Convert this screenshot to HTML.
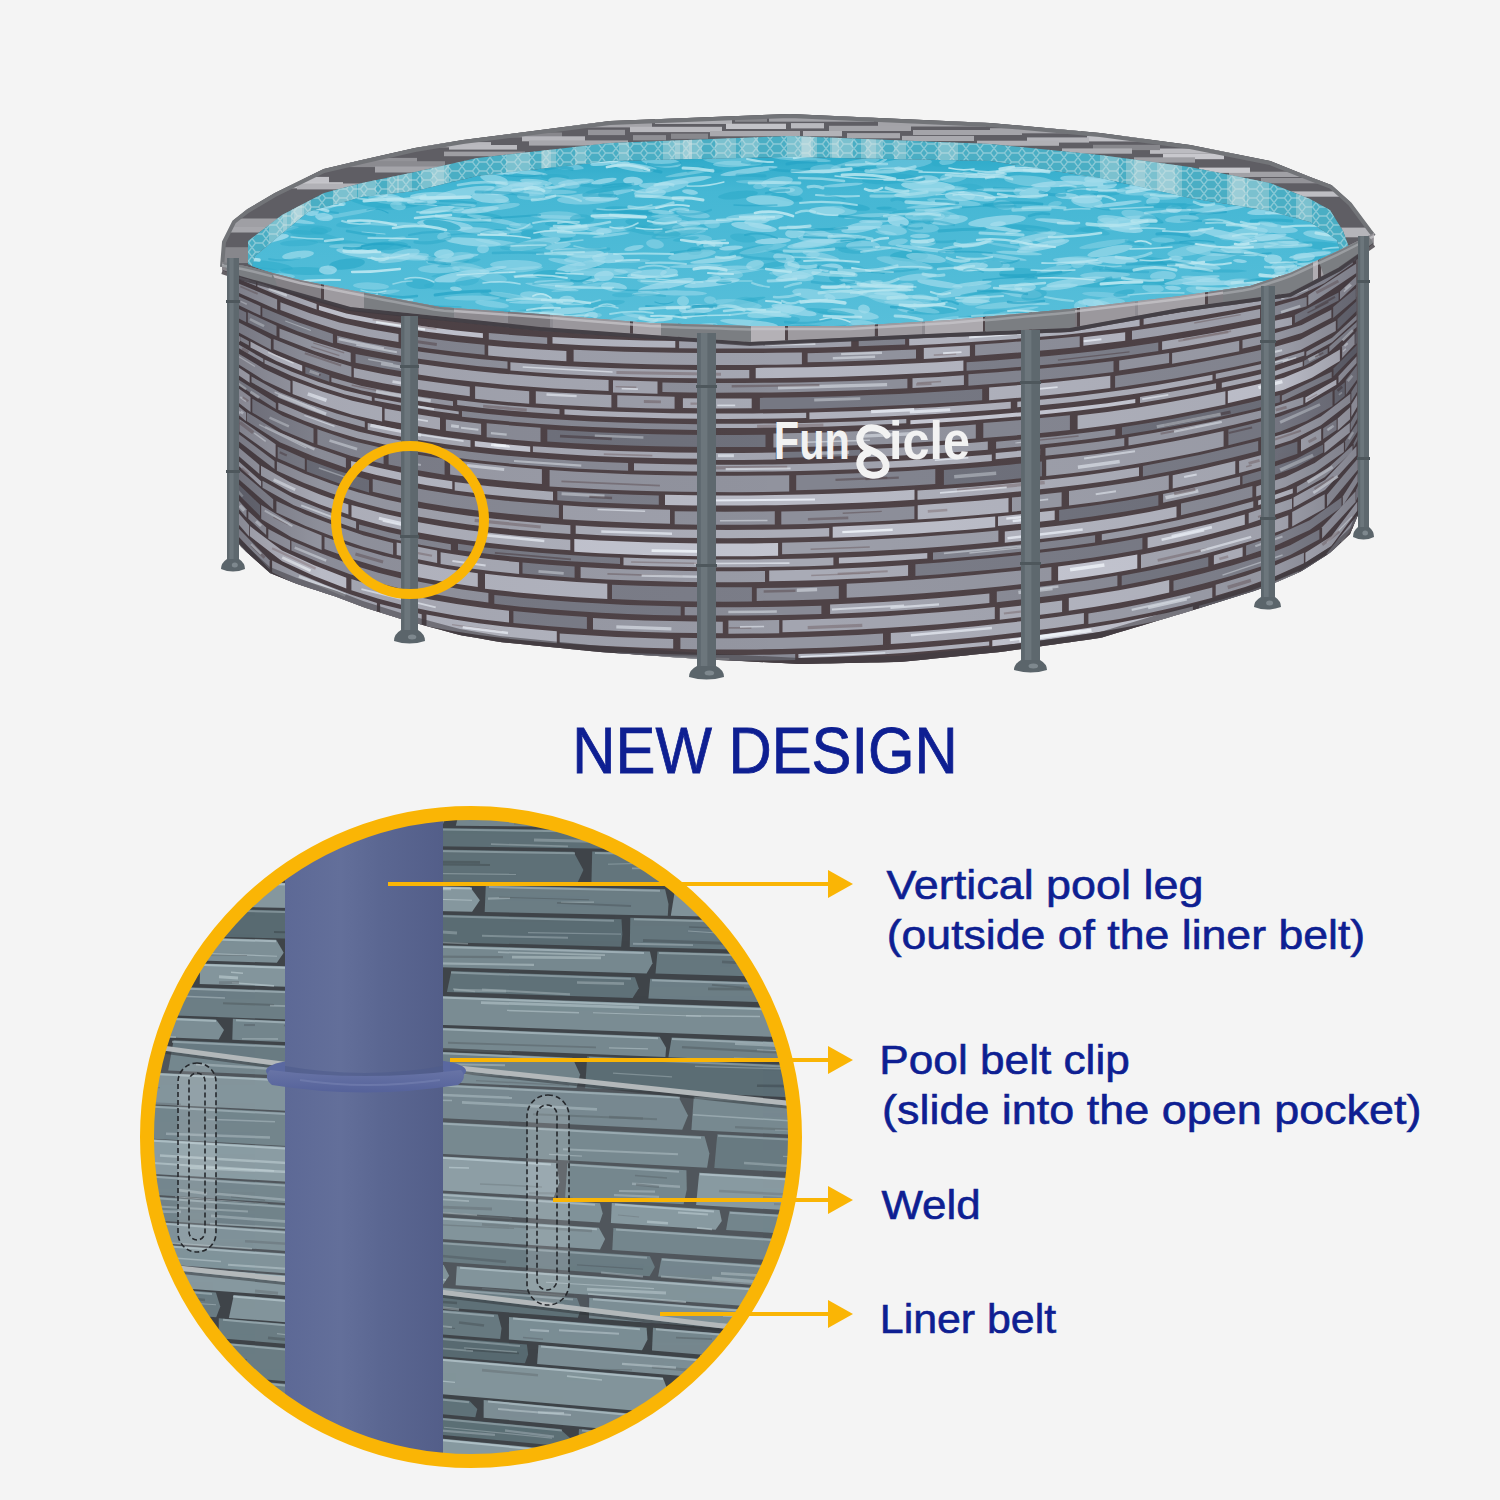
<!DOCTYPE html>
<html><head><meta charset="utf-8"><style>
html,body{margin:0;padding:0;background:#f4f4f4;}
body{width:1500px;height:1500px;overflow:hidden;position:relative;font-family:"Liberation Sans",sans-serif;}
svg{position:absolute;left:0;top:0;display:block;}
</style></head><body>
<svg width="1500" height="1500" viewBox="0 0 1500 1500">
<rect width="1500" height="1500" fill="#f4f4f4"/>
<path d="M222.0,265.0 L224.0,240.0 L234.0,220.0 L248.0,209.0 L275.0,193.0 L324.0,169.0 L362.0,160.0 L415.0,148.0 L463.0,140.0 L610.0,121.0 L790.0,114.0 L990.0,123.0 L1100.0,133.0 L1190.0,145.0 L1270.0,161.0 L1310.0,177.0 L1331.0,185.0 L1350.0,202.0 L1370.0,229.0 L1374.0,234.0 L1374.0,243.0 L1358.0,256.0 L1358.0,515.0 L1350.0,534.0 L1330.0,553.0 L1300.0,572.0 L1260.0,589.0 L1200.0,608.0 L1100.0,638.0 L1000.0,652.0 L900.0,662.0 L800.0,664.0 L700.0,659.0 L600.0,652.0 L500.0,642.0 L460.0,635.0 L430.0,627.0 L401.0,619.0 L363.0,607.0 L337.0,597.0 L297.0,584.0 L270.0,573.0 L241.0,547.0 L236.0,540.0 L236.0,276.0 L222.0,270.0Z" fill="#5d5a60"/>
<clipPath id="frc"><path d="M222.0,265.0 L224.0,240.0 L234.0,220.0 L248.0,209.0 L275.0,193.0 L324.0,169.0 L362.0,160.0 L415.0,148.0 L463.0,140.0 L610.0,121.0 L790.0,114.0 L990.0,123.0 L1100.0,133.0 L1190.0,145.0 L1270.0,161.0 L1310.0,177.0 L1331.0,185.0 L1350.0,202.0 L1370.0,229.0 L1374.0,234.0 L1350.0,250.0 L1343.0,231.0 L1330.0,210.0 L1310.0,199.0 L1270.0,183.0 L1190.0,167.0 L1100.0,155.0 L990.0,144.0 L790.0,136.0 L610.0,143.0 L477.0,158.0 L415.0,172.0 L362.0,183.0 L324.0,193.0 L282.0,215.0 L248.0,241.0 L248.0,264.0Z"/></clipPath>
<path d="M222.0,265.0 L224.0,240.0 L234.0,220.0 L248.0,209.0 L275.0,193.0 L324.0,169.0 L362.0,160.0 L415.0,148.0 L463.0,140.0 L610.0,121.0 L790.0,114.0 L990.0,123.0 L1100.0,133.0 L1190.0,145.0 L1270.0,161.0 L1310.0,177.0 L1331.0,185.0 L1350.0,202.0 L1370.0,229.0 L1374.0,234.0 L1350.0,250.0 L1343.0,231.0 L1330.0,210.0 L1310.0,199.0 L1270.0,183.0 L1190.0,167.0 L1100.0,155.0 L990.0,144.0 L790.0,136.0 L610.0,143.0 L477.0,158.0 L415.0,172.0 L362.0,183.0 L324.0,193.0 L282.0,215.0 L248.0,241.0 L248.0,264.0Z" fill="#5f5e64"/>
<g clip-path="url(#frc)"><rect x="187" y="219.2" width="98" height="13.3" fill="#a7a7ac"/><rect x="290" y="176.9" width="39" height="6.2" fill="#c3c3c8"/><rect x="335" y="157.9" width="82" height="5.8" fill="#939398"/><rect x="422" y="142.1" width="69" height="5.2" fill="#b8b8bd"/><rect x="497" y="132.5" width="65" height="4.9" fill="#87878c"/><rect x="566" y="122.1" width="86" height="5.3" fill="#a4a4a9"/><rect x="655" y="118.7" width="77" height="5.3" fill="#afafb4"/><rect x="735" y="116.5" width="32" height="5.3" fill="#88888d"/><rect x="769" y="116.4" width="105" height="5.3" fill="#a2a2a7"/><rect x="878" y="121.4" width="108" height="5.1" fill="#a3a3a8"/><rect x="990" y="128.2" width="91" height="5.1" fill="#a4a4a9"/><rect x="1087" y="136.1" width="58" height="5.3" fill="#c1c1c6"/><rect x="1150" y="148.5" width="106" height="5.3" fill="#bcbcc1"/><rect x="1261" y="178.0" width="97" height="5.3" fill="#939398"/><rect x="1363" y="235.0" width="45" height="3.3" fill="#acacb1"/><rect x="1413" y="235.0" width="40" height="3.3" fill="#c7c7cc"/><rect x="219" y="218.5" width="64" height="8.5" fill="#9f9fa4"/><rect x="289" y="182.2" width="54" height="6.1" fill="#c6c6cb"/><rect x="347" y="161.2" width="98" height="5.9" fill="#8b8b90"/><rect x="449" y="145.0" width="68" height="4.6" fill="#bababf"/><rect x="522" y="136.3" width="63" height="5.0" fill="#b6b6bb"/><rect x="588" y="129.8" width="37" height="5.3" fill="#949499"/><rect x="630" y="126.8" width="92" height="5.3" fill="#b9b9be"/><rect x="726" y="123.7" width="60" height="5.3" fill="#c3c3c8"/><rect x="791" y="123.1" width="33" height="5.3" fill="#b9b9be"/><rect x="829" y="125.8" width="82" height="5.2" fill="#a4a4a9"/><rect x="913" y="130.0" width="109" height="5.0" fill="#a4a4a9"/><rect x="1027" y="137.4" width="62" height="5.2" fill="#b4b4b9"/><rect x="1093" y="144.8" width="67" height="5.3" fill="#87878c"/><rect x="1163" y="153.9" width="61" height="5.3" fill="#c8c8cd"/><rect x="1229" y="171.7" width="95" height="5.3" fill="#a1a1a6"/><rect x="1327" y="227.6" width="64" height="9.7" fill="#b5b5ba"/><rect x="1394" y="240.3" width="76" height="3.3" fill="#c7c7cc"/><rect x="199" y="247.2" width="95" height="15.8" fill="#87878c"/><rect x="297" y="183.5" width="73" height="5.9" fill="#b1b1b6"/><rect x="375" y="166.5" width="67" height="6.0" fill="#a4a4a9"/><rect x="444" y="151.6" width="81" height="4.6" fill="#9e9ea3"/><rect x="529" y="140.4" width="99" height="5.2" fill="#a7a7ac"/><rect x="633" y="135.1" width="33" height="5.3" fill="#909095"/><rect x="671" y="133.6" width="37" height="5.3" fill="#88888d"/><rect x="710" y="131.0" width="90" height="5.3" fill="#a9a9ae"/><rect x="803" y="131.0" width="39" height="5.3" fill="#b3b3b8"/><rect x="847" y="133.1" width="53" height="5.2" fill="#a7a7ac"/><rect x="902" y="135.9" width="72" height="5.1" fill="#a9a9ae"/><rect x="977" y="140.7" width="82" height="5.1" fill="#b0b0b5"/><rect x="1062" y="148.4" width="70" height="5.3" fill="#aeaeb3"/><rect x="1134" y="157.3" width="61" height="5.3" fill="#9f9fa4"/><rect x="1199" y="167.6" width="51" height="5.3" fill="#c8c8cd"/><rect x="1253" y="191.4" width="108" height="5.3" fill="#bebec3"/><rect x="1367" y="245.7" width="95" height="3.3" fill="#89898e"/></g>
<path d="M222.0,267.0 L224.0,242.0 L234.0,222.0 L248.0,211.0 L275.0,195.0 L324.0,171.0 L362.0,162.0 L415.0,150.0 L463.0,142.0 L610.0,123.0 L790.0,116.0 L990.0,125.0 L1100.0,135.0 L1190.0,147.0 L1270.0,163.0 L1310.0,179.0 L1331.0,187.0 L1350.0,204.0 L1370.0,231.0 L1374.0,236.0" stroke="#727478" stroke-width="4" fill="none"/>
<clipPath id="mbc"><path d="M248.0,264.0 L248.0,241.0 L282.0,215.0 L324.0,193.0 L362.0,183.0 L415.0,172.0 L477.0,158.0 L610.0,143.0 L790.0,136.0 L990.0,144.0 L1100.0,155.0 L1190.0,167.0 L1270.0,183.0 L1310.0,199.0 L1330.0,210.0 L1343.0,231.0 L1350.0,250.0 L1340.0,252.0 L1337.0,240.0 L1310.0,222.0 L1270.0,211.0 L1190.0,198.0 L1100.0,178.0 L990.0,161.0 L790.0,157.0 L610.0,161.0 L477.0,176.0 L415.0,191.0 L362.0,197.0 L308.0,212.0 L255.0,256.0 L252.0,266.0Z"/></clipPath>
<path d="M248.0,264.0 L248.0,241.0 L282.0,215.0 L324.0,193.0 L362.0,183.0 L415.0,172.0 L477.0,158.0 L610.0,143.0 L790.0,136.0 L990.0,144.0 L1100.0,155.0 L1190.0,167.0 L1270.0,183.0 L1310.0,199.0 L1330.0,210.0 L1343.0,231.0 L1350.0,250.0 L1340.0,252.0 L1337.0,240.0 L1310.0,222.0 L1270.0,211.0 L1190.0,198.0 L1100.0,178.0 L990.0,161.0 L790.0,157.0 L610.0,161.0 L477.0,176.0 L415.0,191.0 L362.0,197.0 L308.0,212.0 L255.0,256.0 L252.0,266.0Z" fill="#4aaec4"/>
<defs><pattern id="hexp" width="14" height="9" patternUnits="userSpaceOnUse"><path d="M0,4.5 L3.5,0 L10.5,0 L14,4.5 L10.5,9 L3.5,9Z" fill="none" stroke="#bfe0e6" stroke-width="1.3"/></pattern></defs>
<path d="M248.0,264.0 L248.0,241.0 L282.0,215.0 L324.0,193.0 L362.0,183.0 L415.0,172.0 L477.0,158.0 L610.0,143.0 L790.0,136.0 L990.0,144.0 L1100.0,155.0 L1190.0,167.0 L1270.0,183.0 L1310.0,199.0 L1330.0,210.0 L1343.0,231.0 L1350.0,250.0 L1340.0,252.0 L1337.0,240.0 L1310.0,222.0 L1270.0,211.0 L1190.0,198.0 L1100.0,178.0 L990.0,161.0 L790.0,157.0 L610.0,161.0 L477.0,176.0 L415.0,191.0 L362.0,197.0 L308.0,212.0 L255.0,256.0 L252.0,266.0Z" fill="url(#hexp)" opacity="0.55"/>
<g clip-path="url(#mbc)"><rect x="683" y="130" width="9" height="130" fill="#d6e4e6" opacity="0.35"/><rect x="1296" y="130" width="16" height="130" fill="#d6e4e6" opacity="0.35"/><rect x="802" y="130" width="15" height="130" fill="#d6e4e6" opacity="0.35"/><rect x="1157" y="130" width="25" height="130" fill="#d6e4e6" opacity="0.35"/><rect x="938" y="130" width="20" height="130" fill="#d6e4e6" opacity="0.35"/><rect x="741" y="130" width="17" height="130" fill="#d6e4e6" opacity="0.35"/><rect x="283" y="130" width="19" height="130" fill="#d6e4e6" opacity="0.35"/><rect x="1126" y="130" width="19" height="130" fill="#d6e4e6" opacity="0.35"/><rect x="715" y="130" width="21" height="130" fill="#d6e4e6" opacity="0.35"/><rect x="387" y="130" width="12" height="130" fill="#d6e4e6" opacity="0.35"/><rect x="302" y="130" width="9" height="130" fill="#d6e4e6" opacity="0.35"/><rect x="333" y="130" width="24" height="130" fill="#d6e4e6" opacity="0.35"/><rect x="575" y="130" width="11" height="130" fill="#d6e4e6" opacity="0.35"/><rect x="866" y="130" width="10" height="130" fill="#d6e4e6" opacity="0.35"/><rect x="861" y="130" width="22" height="130" fill="#d6e4e6" opacity="0.35"/><rect x="894" y="130" width="12" height="130" fill="#d6e4e6" opacity="0.35"/><rect x="1232" y="130" width="16" height="130" fill="#d6e4e6" opacity="0.35"/><rect x="1152" y="130" width="23" height="130" fill="#d6e4e6" opacity="0.35"/><rect x="1100" y="130" width="19" height="130" fill="#d6e4e6" opacity="0.35"/><rect x="291" y="130" width="11" height="130" fill="#d6e4e6" opacity="0.35"/><rect x="358" y="130" width="18" height="130" fill="#d6e4e6" opacity="0.35"/><rect x="1227" y="130" width="18" height="130" fill="#d6e4e6" opacity="0.35"/><rect x="787" y="130" width="24" height="130" fill="#d6e4e6" opacity="0.35"/><rect x="675" y="130" width="17" height="130" fill="#d6e4e6" opacity="0.35"/><rect x="269" y="130" width="18" height="130" fill="#d6e4e6" opacity="0.35"/><rect x="689" y="130" width="13" height="130" fill="#d6e4e6" opacity="0.35"/><rect x="421" y="130" width="23" height="130" fill="#d6e4e6" opacity="0.35"/><rect x="1134" y="130" width="18" height="130" fill="#d6e4e6" opacity="0.35"/><rect x="397" y="130" width="15" height="130" fill="#d6e4e6" opacity="0.35"/><rect x="541" y="130" width="10" height="130" fill="#d6e4e6" opacity="0.35"/><rect x="663" y="130" width="17" height="130" fill="#d6e4e6" opacity="0.35"/><rect x="1247" y="130" width="22" height="130" fill="#d6e4e6" opacity="0.35"/><rect x="832" y="130" width="21" height="130" fill="#d6e4e6" opacity="0.35"/><rect x="830" y="130" width="9" height="130" fill="#d6e4e6" opacity="0.35"/><rect x="294" y="130" width="10" height="130" fill="#d6e4e6" opacity="0.35"/><rect x="432" y="130" width="17" height="130" fill="#d6e4e6" opacity="0.35"/><rect x="542" y="130" width="14" height="130" fill="#d6e4e6" opacity="0.35"/><rect x="801" y="130" width="12" height="130" fill="#d6e4e6" opacity="0.35"/><rect x="619" y="130" width="10" height="130" fill="#d6e4e6" opacity="0.35"/><rect x="506" y="130" width="24" height="130" fill="#d6e4e6" opacity="0.35"/></g>
<clipPath id="wc"><path d="M252.0,266.0 L255.0,256.0 L308.0,212.0 L362.0,197.0 L415.0,191.0 L477.0,176.0 L610.0,161.0 L790.0,157.0 L990.0,161.0 L1100.0,178.0 L1190.0,198.0 L1270.0,211.0 L1310.0,222.0 L1337.0,240.0 L1340.0,252.0 L1290.0,276.0 L1250.0,289.0 L1180.0,299.0 L1070.0,312.0 L950.0,323.0 L850.0,329.0 L750.0,329.0 L650.0,326.0 L540.0,317.0 L440.0,310.0 L350.0,293.0 L300.0,283.0Z"/></clipPath>
<defs><linearGradient id="wg" x1="0" y1="0" x2="0" y2="1"><stop offset="0" stop-color="#2fabca"/><stop offset="0.2" stop-color="#45b7d4"/><stop offset="1" stop-color="#58bfda"/></linearGradient></defs>
<path d="M252.0,266.0 L255.0,256.0 L308.0,212.0 L362.0,197.0 L415.0,191.0 L477.0,176.0 L610.0,161.0 L790.0,157.0 L990.0,161.0 L1100.0,178.0 L1190.0,198.0 L1270.0,211.0 L1310.0,222.0 L1337.0,240.0 L1340.0,252.0 L1290.0,276.0 L1250.0,289.0 L1180.0,299.0 L1070.0,312.0 L950.0,323.0 L850.0,329.0 L750.0,329.0 L650.0,326.0 L540.0,317.0 L440.0,310.0 L350.0,293.0 L300.0,283.0Z" fill="url(#wg)"/>
<g clip-path="url(#wc)"><ellipse cx="1311" cy="321" rx="7" ry="1.8" fill="#2fabca" opacity="0.68" transform="rotate(4 1311 321)"/><ellipse cx="585" cy="259" rx="21" ry="3.8" fill="#a2dcec" opacity="0.54" transform="rotate(-3 585 259)"/><ellipse cx="1050" cy="329" rx="29" ry="3.7" fill="#a2dcec" opacity="0.47" transform="rotate(-11 1050 329)"/><ellipse cx="271" cy="234" rx="14" ry="3.0" fill="#2fabca" opacity="0.59" transform="rotate(1 271 234)"/><ellipse cx="504" cy="154" rx="14" ry="2.0" fill="#a2dcec" opacity="0.80" transform="rotate(4 504 154)"/><ellipse cx="444" cy="311" rx="25" ry="4.4" fill="#2fabca" opacity="0.69" transform="rotate(7 444 311)"/><ellipse cx="636" cy="327" rx="29" ry="2.1" fill="#a2dcec" opacity="0.67" transform="rotate(-1 636 327)"/><ellipse cx="834" cy="238" rx="28" ry="3.5" fill="#2fabca" opacity="0.51" transform="rotate(9 834 238)"/><ellipse cx="1248" cy="233" rx="20" ry="5.2" fill="#a2dcec" opacity="0.57" transform="rotate(-7 1248 233)"/><ellipse cx="604" cy="276" rx="10" ry="5.1" fill="#a2dcec" opacity="0.76" transform="rotate(-5 604 276)"/><ellipse cx="1312" cy="277" rx="18" ry="3.6" fill="#a2dcec" opacity="0.61" transform="rotate(-5 1312 277)"/><ellipse cx="473" cy="242" rx="28" ry="4.0" fill="#a2dcec" opacity="0.72" transform="rotate(5 473 242)"/><ellipse cx="1257" cy="184" rx="24" ry="1.7" fill="#a2dcec" opacity="0.47" transform="rotate(-7 1257 184)"/><ellipse cx="1221" cy="169" rx="19" ry="4.9" fill="#a2dcec" opacity="0.44" transform="rotate(9 1221 169)"/><ellipse cx="714" cy="279" rx="7" ry="2.9" fill="#a2dcec" opacity="0.65" transform="rotate(-10 714 279)"/><ellipse cx="1309" cy="155" rx="24" ry="1.6" fill="#a2dcec" opacity="0.72" transform="rotate(-8 1309 155)"/><ellipse cx="446" cy="274" rx="15" ry="1.7" fill="#2fabca" opacity="0.42" transform="rotate(-11 446 274)"/><ellipse cx="626" cy="261" rx="24" ry="2.0" fill="#a2dcec" opacity="0.36" transform="rotate(-1 626 261)"/><ellipse cx="1098" cy="283" rx="28" ry="4.5" fill="#2fabca" opacity="0.67" transform="rotate(-1 1098 283)"/><ellipse cx="493" cy="269" rx="14" ry="1.9" fill="#a2dcec" opacity="0.74" transform="rotate(-9 493 269)"/><ellipse cx="895" cy="221" rx="18" ry="2.1" fill="#2fabca" opacity="0.47" transform="rotate(3 895 221)"/><ellipse cx="710" cy="153" rx="19" ry="2.1" fill="#a2dcec" opacity="0.37" transform="rotate(-8 710 153)"/><ellipse cx="347" cy="264" rx="18" ry="5.4" fill="#2fabca" opacity="0.80" transform="rotate(-6 347 264)"/><ellipse cx="738" cy="195" rx="20" ry="4.0" fill="#2fabca" opacity="0.67" transform="rotate(-6 738 195)"/><ellipse cx="714" cy="245" rx="6" ry="1.6" fill="#a2dcec" opacity="0.40" transform="rotate(5 714 245)"/><ellipse cx="510" cy="168" rx="10" ry="2.4" fill="#a2dcec" opacity="0.58" transform="rotate(-1 510 168)"/><ellipse cx="587" cy="266" rx="11" ry="5.1" fill="#2fabca" opacity="0.68" transform="rotate(-2 587 266)"/><ellipse cx="813" cy="255" rx="7" ry="3.2" fill="#a2dcec" opacity="0.43" transform="rotate(-10 813 255)"/><ellipse cx="1139" cy="216" rx="18" ry="5.2" fill="#a2dcec" opacity="0.48" transform="rotate(12 1139 216)"/><ellipse cx="657" cy="153" rx="22" ry="1.9" fill="#a2dcec" opacity="0.73" transform="rotate(4 657 153)"/><ellipse cx="258" cy="231" rx="16" ry="3.4" fill="#a2dcec" opacity="0.61" transform="rotate(-10 258 231)"/><ellipse cx="558" cy="217" rx="28" ry="1.8" fill="#a2dcec" opacity="0.44" transform="rotate(2 558 217)"/><ellipse cx="679" cy="233" rx="24" ry="3.1" fill="#a2dcec" opacity="0.40" transform="rotate(-10 679 233)"/><ellipse cx="1192" cy="265" rx="29" ry="4.3" fill="#a2dcec" opacity="0.65" transform="rotate(7 1192 265)"/><ellipse cx="1050" cy="240" rx="15" ry="3.3" fill="#a2dcec" opacity="0.47" transform="rotate(1 1050 240)"/><ellipse cx="775" cy="322" rx="25" ry="5.2" fill="#2fabca" opacity="0.48" transform="rotate(-6 775 322)"/><ellipse cx="787" cy="197" rx="16" ry="4.2" fill="#2fabca" opacity="0.61" transform="rotate(8 787 197)"/><ellipse cx="347" cy="214" rx="30" ry="2.1" fill="#a2dcec" opacity="0.38" transform="rotate(-10 347 214)"/><ellipse cx="1243" cy="328" rx="22" ry="2.0" fill="#a2dcec" opacity="0.45" transform="rotate(4 1243 328)"/><ellipse cx="1003" cy="229" rx="19" ry="1.9" fill="#a2dcec" opacity="0.78" transform="rotate(6 1003 229)"/><ellipse cx="348" cy="243" rx="23" ry="2.5" fill="#2fabca" opacity="0.56" transform="rotate(5 348 243)"/><ellipse cx="693" cy="329" rx="25" ry="3.8" fill="#a2dcec" opacity="0.55" transform="rotate(-11 693 329)"/><ellipse cx="907" cy="309" rx="10" ry="3.5" fill="#a2dcec" opacity="0.53" transform="rotate(5 907 309)"/><ellipse cx="1289" cy="277" rx="17" ry="5.3" fill="#a2dcec" opacity="0.69" transform="rotate(4 1289 277)"/><ellipse cx="1093" cy="303" rx="11" ry="4.0" fill="#a2dcec" opacity="0.65" transform="rotate(11 1093 303)"/><ellipse cx="951" cy="152" rx="17" ry="4.3" fill="#2fabca" opacity="0.64" transform="rotate(8 951 152)"/><ellipse cx="259" cy="320" rx="24" ry="3.9" fill="#2fabca" opacity="0.75" transform="rotate(-10 259 320)"/><ellipse cx="1153" cy="288" rx="11" ry="4.5" fill="#a2dcec" opacity="0.44" transform="rotate(7 1153 288)"/><ellipse cx="394" cy="260" rx="16" ry="2.5" fill="#a2dcec" opacity="0.56" transform="rotate(-7 394 260)"/><ellipse cx="1323" cy="163" rx="6" ry="3.4" fill="#2fabca" opacity="0.65" transform="rotate(6 1323 163)"/><ellipse cx="783" cy="271" rx="14" ry="2.6" fill="#a2dcec" opacity="0.36" transform="rotate(-10 783 271)"/><ellipse cx="1084" cy="181" rx="24" ry="4.6" fill="#a2dcec" opacity="0.65" transform="rotate(7 1084 181)"/><ellipse cx="1208" cy="174" rx="10" ry="3.0" fill="#a2dcec" opacity="0.48" transform="rotate(-12 1208 174)"/><ellipse cx="864" cy="324" rx="15" ry="3.7" fill="#a2dcec" opacity="0.55" transform="rotate(9 864 324)"/><ellipse cx="585" cy="267" rx="18" ry="3.7" fill="#2fabca" opacity="0.38" transform="rotate(8 585 267)"/><ellipse cx="581" cy="266" rx="25" ry="4.1" fill="#a2dcec" opacity="0.73" transform="rotate(-10 581 266)"/><ellipse cx="949" cy="220" rx="19" ry="4.9" fill="#a2dcec" opacity="0.63" transform="rotate(-5 949 220)"/><ellipse cx="501" cy="232" rx="12" ry="2.6" fill="#2fabca" opacity="0.40" transform="rotate(8 501 232)"/><ellipse cx="665" cy="216" rx="14" ry="1.8" fill="#a2dcec" opacity="0.42" transform="rotate(-1 665 216)"/><ellipse cx="567" cy="311" rx="28" ry="3.3" fill="#a2dcec" opacity="0.77" transform="rotate(-4 567 311)"/><ellipse cx="352" cy="193" rx="11" ry="4.2" fill="#a2dcec" opacity="0.51" transform="rotate(7 352 193)"/><ellipse cx="501" cy="296" rx="21" ry="3.1" fill="#2fabca" opacity="0.50" transform="rotate(9 501 296)"/><ellipse cx="1277" cy="240" rx="23" ry="5.3" fill="#a2dcec" opacity="0.69" transform="rotate(9 1277 240)"/><ellipse cx="1288" cy="286" rx="29" ry="2.7" fill="#a2dcec" opacity="0.65" transform="rotate(-3 1288 286)"/><ellipse cx="683" cy="181" rx="29" ry="2.9" fill="#a2dcec" opacity="0.75" transform="rotate(-8 683 181)"/><ellipse cx="1316" cy="173" rx="7" ry="2.9" fill="#a2dcec" opacity="0.76" transform="rotate(9 1316 173)"/><ellipse cx="1093" cy="229" rx="19" ry="2.4" fill="#2fabca" opacity="0.53" transform="rotate(-5 1093 229)"/><ellipse cx="954" cy="177" rx="14" ry="5.2" fill="#a2dcec" opacity="0.41" transform="rotate(-7 954 177)"/><ellipse cx="521" cy="226" rx="12" ry="2.9" fill="#a2dcec" opacity="0.46" transform="rotate(3 521 226)"/><ellipse cx="617" cy="217" rx="24" ry="1.7" fill="#a2dcec" opacity="0.73" transform="rotate(-2 617 217)"/><ellipse cx="1112" cy="174" rx="19" ry="4.9" fill="#a2dcec" opacity="0.70" transform="rotate(3 1112 174)"/><ellipse cx="682" cy="330" rx="15" ry="3.4" fill="#a2dcec" opacity="0.49" transform="rotate(8 682 330)"/><ellipse cx="909" cy="256" rx="19" ry="5.4" fill="#2fabca" opacity="0.73" transform="rotate(-1 909 256)"/><ellipse cx="701" cy="244" rx="7" ry="1.9" fill="#2fabca" opacity="0.41" transform="rotate(10 701 244)"/><ellipse cx="1001" cy="315" rx="8" ry="2.7" fill="#a2dcec" opacity="0.35" transform="rotate(-9 1001 315)"/><ellipse cx="633" cy="181" rx="10" ry="4.2" fill="#a2dcec" opacity="0.79" transform="rotate(4 633 181)"/><ellipse cx="296" cy="312" rx="12" ry="3.4" fill="#a2dcec" opacity="0.41" transform="rotate(0 296 312)"/><ellipse cx="308" cy="186" rx="28" ry="4.8" fill="#a2dcec" opacity="0.66" transform="rotate(9 308 186)"/><ellipse cx="397" cy="239" rx="9" ry="2.0" fill="#a2dcec" opacity="0.45" transform="rotate(-11 397 239)"/><ellipse cx="481" cy="218" rx="21" ry="4.9" fill="#2fabca" opacity="0.67" transform="rotate(0 481 218)"/><ellipse cx="1267" cy="179" rx="9" ry="4.8" fill="#a2dcec" opacity="0.44" transform="rotate(-3 1267 179)"/><ellipse cx="573" cy="228" rx="16" ry="3.1" fill="#a2dcec" opacity="0.72" transform="rotate(1 573 228)"/><ellipse cx="770" cy="201" rx="24" ry="5.4" fill="#a2dcec" opacity="0.67" transform="rotate(5 770 201)"/><ellipse cx="977" cy="156" rx="19" ry="2.3" fill="#a2dcec" opacity="0.61" transform="rotate(3 977 156)"/><ellipse cx="940" cy="284" rx="23" ry="3.4" fill="#a2dcec" opacity="0.70" transform="rotate(8 940 284)"/><ellipse cx="1176" cy="258" rx="7" ry="2.3" fill="#a2dcec" opacity="0.64" transform="rotate(1 1176 258)"/><ellipse cx="449" cy="322" rx="29" ry="5.1" fill="#a2dcec" opacity="0.48" transform="rotate(-7 449 322)"/><ellipse cx="1163" cy="276" rx="13" ry="5.1" fill="#a2dcec" opacity="0.54" transform="rotate(-2 1163 276)"/><ellipse cx="1047" cy="232" rx="22" ry="2.0" fill="#a2dcec" opacity="0.47" transform="rotate(10 1047 232)"/><ellipse cx="480" cy="210" rx="19" ry="3.1" fill="#a2dcec" opacity="0.77" transform="rotate(-7 480 210)"/><ellipse cx="1105" cy="275" rx="25" ry="3.3" fill="#a2dcec" opacity="0.51" transform="rotate(-1 1105 275)"/><ellipse cx="525" cy="184" rx="17" ry="2.3" fill="#a2dcec" opacity="0.61" transform="rotate(-5 525 184)"/><ellipse cx="431" cy="259" rx="27" ry="2.4" fill="#a2dcec" opacity="0.65" transform="rotate(9 431 259)"/><ellipse cx="1004" cy="205" rx="11" ry="4.8" fill="#a2dcec" opacity="0.36" transform="rotate(9 1004 205)"/><ellipse cx="462" cy="206" rx="14" ry="2.5" fill="#a2dcec" opacity="0.50" transform="rotate(-1 462 206)"/><ellipse cx="710" cy="300" rx="6" ry="3.8" fill="#a2dcec" opacity="0.42" transform="rotate(3 710 300)"/><ellipse cx="661" cy="162" rx="20" ry="5.2" fill="#a2dcec" opacity="0.57" transform="rotate(7 661 162)"/><ellipse cx="1266" cy="177" rx="13" ry="5.4" fill="#2fabca" opacity="0.44" transform="rotate(5 1266 177)"/><ellipse cx="1219" cy="256" rx="23" ry="3.6" fill="#a2dcec" opacity="0.45" transform="rotate(-11 1219 256)"/><ellipse cx="986" cy="175" rx="21" ry="3.1" fill="#a2dcec" opacity="0.79" transform="rotate(-3 986 175)"/><ellipse cx="772" cy="218" rx="11" ry="2.4" fill="#a2dcec" opacity="0.72" transform="rotate(-10 772 218)"/><ellipse cx="1299" cy="271" rx="7" ry="4.3" fill="#a2dcec" opacity="0.58" transform="rotate(-10 1299 271)"/><ellipse cx="812" cy="244" rx="25" ry="3.8" fill="#a2dcec" opacity="0.68" transform="rotate(-7 812 244)"/><ellipse cx="268" cy="236" rx="9" ry="2.1" fill="#a2dcec" opacity="0.59" transform="rotate(3 268 236)"/><ellipse cx="964" cy="320" rx="8" ry="3.7" fill="#a2dcec" opacity="0.65" transform="rotate(-2 964 320)"/><ellipse cx="397" cy="206" rx="22" ry="3.4" fill="#2fabca" opacity="0.51" transform="rotate(-4 397 206)"/><ellipse cx="1273" cy="259" rx="9" ry="4.6" fill="#a2dcec" opacity="0.78" transform="rotate(3 1273 259)"/><ellipse cx="1141" cy="311" rx="18" ry="5.4" fill="#a2dcec" opacity="0.50" transform="rotate(8 1141 311)"/><ellipse cx="249" cy="271" rx="30" ry="4.4" fill="#2fabca" opacity="0.38" transform="rotate(1 249 271)"/><ellipse cx="923" cy="228" rx="16" ry="4.7" fill="#a2dcec" opacity="0.37" transform="rotate(2 923 228)"/><ellipse cx="1322" cy="299" rx="22" ry="2.7" fill="#2fabca" opacity="0.37" transform="rotate(-6 1322 299)"/><ellipse cx="1123" cy="311" rx="16" ry="5.1" fill="#a2dcec" opacity="0.62" transform="rotate(-10 1123 311)"/><ellipse cx="501" cy="184" rx="6" ry="3.1" fill="#a2dcec" opacity="0.48" transform="rotate(4 501 184)"/><ellipse cx="299" cy="243" rx="19" ry="3.1" fill="#2fabca" opacity="0.41" transform="rotate(-2 299 243)"/><ellipse cx="755" cy="217" rx="29" ry="3.8" fill="#a2dcec" opacity="0.55" transform="rotate(-2 755 217)"/><ellipse cx="1305" cy="294" rx="22" ry="2.1" fill="#a2dcec" opacity="0.41" transform="rotate(-4 1305 294)"/><ellipse cx="266" cy="277" rx="29" ry="4.1" fill="#a2dcec" opacity="0.46" transform="rotate(-1 266 277)"/><ellipse cx="760" cy="226" rx="12" ry="2.4" fill="#a2dcec" opacity="0.78" transform="rotate(8 760 226)"/><ellipse cx="936" cy="155" rx="13" ry="4.9" fill="#2fabca" opacity="0.60" transform="rotate(2 936 155)"/><ellipse cx="1009" cy="194" rx="23" ry="3.0" fill="#2fabca" opacity="0.56" transform="rotate(4 1009 194)"/><ellipse cx="863" cy="246" rx="17" ry="5.3" fill="#a2dcec" opacity="0.54" transform="rotate(0 863 246)"/><ellipse cx="1246" cy="284" rx="22" ry="5.3" fill="#a2dcec" opacity="0.62" transform="rotate(3 1246 284)"/><ellipse cx="749" cy="323" rx="29" ry="3.1" fill="#a2dcec" opacity="0.69" transform="rotate(5 749 323)"/><ellipse cx="646" cy="294" rx="14" ry="2.1" fill="#a2dcec" opacity="0.64" transform="rotate(-2 646 294)"/><ellipse cx="799" cy="328" rx="25" ry="3.1" fill="#2fabca" opacity="0.61" transform="rotate(-2 799 328)"/><ellipse cx="964" cy="291" rx="28" ry="4.2" fill="#a2dcec" opacity="0.53" transform="rotate(-11 964 291)"/><ellipse cx="749" cy="171" rx="29" ry="2.9" fill="#a2dcec" opacity="0.68" transform="rotate(-8 749 171)"/><ellipse cx="1174" cy="209" rx="8" ry="3.9" fill="#a2dcec" opacity="0.76" transform="rotate(-1 1174 209)"/><ellipse cx="346" cy="153" rx="7" ry="3.5" fill="#a2dcec" opacity="0.37" transform="rotate(-4 346 153)"/><ellipse cx="776" cy="312" rx="29" ry="5.0" fill="#a2dcec" opacity="0.61" transform="rotate(-7 776 312)"/><ellipse cx="926" cy="180" rx="13" ry="4.8" fill="#a2dcec" opacity="0.68" transform="rotate(-1 926 180)"/><ellipse cx="553" cy="241" rx="20" ry="2.5" fill="#2fabca" opacity="0.79" transform="rotate(-8 553 241)"/><ellipse cx="511" cy="296" rx="23" ry="2.4" fill="#a2dcec" opacity="0.46" transform="rotate(9 511 296)"/><ellipse cx="898" cy="242" rx="10" ry="3.1" fill="#a2dcec" opacity="0.51" transform="rotate(-8 898 242)"/><ellipse cx="462" cy="276" rx="28" ry="4.9" fill="#a2dcec" opacity="0.71" transform="rotate(-9 462 276)"/><ellipse cx="475" cy="277" rx="6" ry="1.8" fill="#a2dcec" opacity="0.44" transform="rotate(-8 475 277)"/><ellipse cx="683" cy="301" rx="6" ry="5.0" fill="#a2dcec" opacity="0.61" transform="rotate(-1 683 301)"/><ellipse cx="376" cy="322" rx="10" ry="4.7" fill="#2fabca" opacity="0.55" transform="rotate(11 376 322)"/><ellipse cx="310" cy="177" rx="18" ry="1.8" fill="#2fabca" opacity="0.59" transform="rotate(7 310 177)"/><ellipse cx="561" cy="155" rx="27" ry="2.3" fill="#a2dcec" opacity="0.41" transform="rotate(2 561 155)"/><ellipse cx="760" cy="186" rx="7" ry="2.9" fill="#a2dcec" opacity="0.42" transform="rotate(-7 760 186)"/><ellipse cx="933" cy="264" rx="25" ry="4.1" fill="#2fabca" opacity="0.42" transform="rotate(10 933 264)"/><ellipse cx="272" cy="171" rx="8" ry="4.6" fill="#a2dcec" opacity="0.76" transform="rotate(11 272 171)"/><ellipse cx="1307" cy="261" rx="14" ry="5.3" fill="#a2dcec" opacity="0.44" transform="rotate(1 1307 261)"/><ellipse cx="263" cy="153" rx="21" ry="4.4" fill="#2fabca" opacity="0.69" transform="rotate(-9 263 153)"/><ellipse cx="1067" cy="327" rx="22" ry="3.4" fill="#a2dcec" opacity="0.38" transform="rotate(3 1067 327)"/><ellipse cx="1317" cy="171" rx="26" ry="5.1" fill="#a2dcec" opacity="0.73" transform="rotate(-8 1317 171)"/><ellipse cx="577" cy="252" rx="27" ry="3.6" fill="#a2dcec" opacity="0.77" transform="rotate(2 577 252)"/><ellipse cx="1112" cy="191" rx="14" ry="1.9" fill="#a2dcec" opacity="0.55" transform="rotate(-2 1112 191)"/><ellipse cx="976" cy="300" rx="14" ry="5.2" fill="#a2dcec" opacity="0.51" transform="rotate(-8 976 300)"/><ellipse cx="1311" cy="268" rx="7" ry="4.2" fill="#a2dcec" opacity="0.54" transform="rotate(6 1311 268)"/><ellipse cx="490" cy="198" rx="19" ry="5.1" fill="#a2dcec" opacity="0.73" transform="rotate(5 490 198)"/><ellipse cx="439" cy="269" rx="21" ry="4.3" fill="#a2dcec" opacity="0.49" transform="rotate(0 439 269)"/><ellipse cx="506" cy="232" rx="16" ry="1.9" fill="#a2dcec" opacity="0.50" transform="rotate(-3 506 232)"/><ellipse cx="871" cy="284" rx="12" ry="3.7" fill="#a2dcec" opacity="0.45" transform="rotate(-9 871 284)"/><ellipse cx="1315" cy="318" rx="26" ry="2.2" fill="#a2dcec" opacity="0.40" transform="rotate(-5 1315 318)"/><ellipse cx="717" cy="151" rx="16" ry="4.3" fill="#2fabca" opacity="0.44" transform="rotate(-12 717 151)"/><ellipse cx="1130" cy="218" rx="14" ry="2.1" fill="#a2dcec" opacity="0.47" transform="rotate(-6 1130 218)"/><ellipse cx="501" cy="243" rx="26" ry="2.7" fill="#a2dcec" opacity="0.57" transform="rotate(8 501 243)"/><ellipse cx="1098" cy="327" rx="10" ry="4.7" fill="#a2dcec" opacity="0.61" transform="rotate(1 1098 327)"/><ellipse cx="884" cy="208" rx="8" ry="1.5" fill="#2fabca" opacity="0.75" transform="rotate(-1 884 208)"/><ellipse cx="341" cy="301" rx="18" ry="3.4" fill="#a2dcec" opacity="0.42" transform="rotate(-7 341 301)"/><ellipse cx="1153" cy="282" rx="30" ry="3.2" fill="#2fabca" opacity="0.75" transform="rotate(0 1153 282)"/><ellipse cx="1239" cy="179" rx="8" ry="4.8" fill="#a2dcec" opacity="0.58" transform="rotate(6 1239 179)"/><ellipse cx="1001" cy="190" rx="25" ry="1.7" fill="#a2dcec" opacity="0.75" transform="rotate(1 1001 190)"/><ellipse cx="579" cy="330" rx="23" ry="4.7" fill="#2fabca" opacity="0.77" transform="rotate(2 579 330)"/><ellipse cx="1163" cy="240" rx="12" ry="2.6" fill="#a2dcec" opacity="0.36" transform="rotate(3 1163 240)"/><ellipse cx="688" cy="314" rx="7" ry="4.6" fill="#a2dcec" opacity="0.50" transform="rotate(-5 688 314)"/><ellipse cx="1312" cy="266" rx="17" ry="2.2" fill="#a2dcec" opacity="0.52" transform="rotate(11 1312 266)"/><ellipse cx="738" cy="272" rx="27" ry="1.7" fill="#a2dcec" opacity="0.54" transform="rotate(-7 738 272)"/><ellipse cx="669" cy="273" rx="9" ry="4.3" fill="#a2dcec" opacity="0.65" transform="rotate(-8 669 273)"/><ellipse cx="1124" cy="225" rx="26" ry="5.4" fill="#a2dcec" opacity="0.36" transform="rotate(-3 1124 225)"/><ellipse cx="1333" cy="267" rx="24" ry="3.4" fill="#2fabca" opacity="0.76" transform="rotate(3 1333 267)"/><ellipse cx="900" cy="169" rx="6" ry="2.3" fill="#a2dcec" opacity="0.73" transform="rotate(6 900 169)"/><ellipse cx="1233" cy="155" rx="7" ry="2.5" fill="#a2dcec" opacity="0.61" transform="rotate(10 1233 155)"/><ellipse cx="1247" cy="169" rx="22" ry="4.2" fill="#a2dcec" opacity="0.54" transform="rotate(-6 1247 169)"/><ellipse cx="1233" cy="313" rx="23" ry="3.7" fill="#a2dcec" opacity="0.47" transform="rotate(-6 1233 313)"/><ellipse cx="512" cy="189" rx="22" ry="4.2" fill="#a2dcec" opacity="0.76" transform="rotate(-12 512 189)"/><ellipse cx="1310" cy="255" rx="21" ry="2.6" fill="#a2dcec" opacity="0.74" transform="rotate(-7 1310 255)"/><ellipse cx="388" cy="292" rx="12" ry="1.9" fill="#a2dcec" opacity="0.43" transform="rotate(-7 388 292)"/><ellipse cx="558" cy="165" rx="26" ry="3.8" fill="#a2dcec" opacity="0.48" transform="rotate(7 558 165)"/><ellipse cx="1316" cy="330" rx="7" ry="2.7" fill="#a2dcec" opacity="0.56" transform="rotate(4 1316 330)"/><ellipse cx="921" cy="214" rx="29" ry="4.0" fill="#2fabca" opacity="0.54" transform="rotate(3 921 214)"/><ellipse cx="351" cy="246" rx="22" ry="2.4" fill="#a2dcec" opacity="0.41" transform="rotate(-1 351 246)"/><ellipse cx="920" cy="236" rx="10" ry="2.3" fill="#a2dcec" opacity="0.64" transform="rotate(-2 920 236)"/><ellipse cx="465" cy="211" rx="13" ry="2.1" fill="#a2dcec" opacity="0.56" transform="rotate(-4 465 211)"/><ellipse cx="242" cy="315" rx="7" ry="2.0" fill="#a2dcec" opacity="0.71" transform="rotate(10 242 315)"/><ellipse cx="1090" cy="187" rx="26" ry="1.6" fill="#a2dcec" opacity="0.40" transform="rotate(2 1090 187)"/><ellipse cx="905" cy="263" rx="29" ry="4.5" fill="#a2dcec" opacity="0.43" transform="rotate(10 905 263)"/><ellipse cx="1269" cy="299" rx="8" ry="4.4" fill="#a2dcec" opacity="0.59" transform="rotate(-6 1269 299)"/><ellipse cx="1106" cy="295" rx="24" ry="2.7" fill="#a2dcec" opacity="0.39" transform="rotate(4 1106 295)"/><ellipse cx="274" cy="151" rx="9" ry="4.1" fill="#2fabca" opacity="0.56" transform="rotate(3 274 151)"/><ellipse cx="897" cy="301" rx="29" ry="4.8" fill="#a2dcec" opacity="0.38" transform="rotate(9 897 301)"/><ellipse cx="552" cy="287" rx="27" ry="2.2" fill="#a2dcec" opacity="0.54" transform="rotate(8 552 287)"/><ellipse cx="1194" cy="329" rx="13" ry="4.0" fill="#2fabca" opacity="0.52" transform="rotate(2 1194 329)"/><ellipse cx="492" cy="304" rx="17" ry="3.4" fill="#a2dcec" opacity="0.49" transform="rotate(8 492 304)"/><ellipse cx="754" cy="227" rx="23" ry="4.2" fill="#a2dcec" opacity="0.74" transform="rotate(7 754 227)"/><ellipse cx="696" cy="266" rx="27" ry="1.7" fill="#a2dcec" opacity="0.59" transform="rotate(-2 696 266)"/><ellipse cx="373" cy="202" rx="24" ry="5.0" fill="#2fabca" opacity="0.69" transform="rotate(9 373 202)"/><ellipse cx="1165" cy="180" rx="23" ry="5.0" fill="#a2dcec" opacity="0.47" transform="rotate(5 1165 180)"/><ellipse cx="677" cy="228" rx="24" ry="4.2" fill="#a2dcec" opacity="0.64" transform="rotate(-11 677 228)"/><ellipse cx="472" cy="298" rx="28" ry="2.5" fill="#a2dcec" opacity="0.43" transform="rotate(-0 472 298)"/><ellipse cx="630" cy="165" rx="16" ry="3.7" fill="#2fabca" opacity="0.40" transform="rotate(-5 630 165)"/><ellipse cx="245" cy="188" rx="12" ry="4.8" fill="#2fabca" opacity="0.45" transform="rotate(-0 245 188)"/><ellipse cx="827" cy="238" rx="29" ry="5.3" fill="#a2dcec" opacity="0.53" transform="rotate(1 827 238)"/><ellipse cx="968" cy="245" rx="26" ry="1.9" fill="#a2dcec" opacity="0.72" transform="rotate(-8 968 245)"/><ellipse cx="435" cy="261" rx="9" ry="3.7" fill="#a2dcec" opacity="0.43" transform="rotate(-4 435 261)"/><ellipse cx="1117" cy="260" rx="21" ry="4.0" fill="#a2dcec" opacity="0.79" transform="rotate(2 1117 260)"/><ellipse cx="944" cy="162" rx="12" ry="3.8" fill="#2fabca" opacity="0.67" transform="rotate(-11 944 162)"/><ellipse cx="1145" cy="188" rx="20" ry="2.3" fill="#a2dcec" opacity="0.70" transform="rotate(-0 1145 188)"/><ellipse cx="917" cy="277" rx="20" ry="3.2" fill="#a2dcec" opacity="0.59" transform="rotate(-6 917 277)"/><ellipse cx="534" cy="296" rx="14" ry="4.4" fill="#a2dcec" opacity="0.56" transform="rotate(7 534 296)"/><ellipse cx="610" cy="151" rx="26" ry="4.5" fill="#a2dcec" opacity="0.76" transform="rotate(-2 610 151)"/><ellipse cx="717" cy="260" rx="27" ry="2.6" fill="#a2dcec" opacity="0.78" transform="rotate(-6 717 260)"/><ellipse cx="259" cy="179" rx="21" ry="2.4" fill="#2fabca" opacity="0.39" transform="rotate(9 259 179)"/><ellipse cx="636" cy="316" rx="14" ry="1.9" fill="#a2dcec" opacity="0.48" transform="rotate(11 636 316)"/><ellipse cx="1161" cy="196" rx="18" ry="3.7" fill="#a2dcec" opacity="0.47" transform="rotate(2 1161 196)"/><ellipse cx="821" cy="256" rx="19" ry="3.2" fill="#a2dcec" opacity="0.53" transform="rotate(12 821 256)"/><ellipse cx="825" cy="169" rx="15" ry="4.6" fill="#a2dcec" opacity="0.39" transform="rotate(-2 825 169)"/><ellipse cx="746" cy="302" rx="12" ry="5.2" fill="#2fabca" opacity="0.36" transform="rotate(-0 746 302)"/><ellipse cx="837" cy="264" rx="27" ry="2.3" fill="#2fabca" opacity="0.35" transform="rotate(8 837 264)"/><ellipse cx="533" cy="155" rx="26" ry="5.4" fill="#a2dcec" opacity="0.70" transform="rotate(-2 533 155)"/><ellipse cx="518" cy="270" rx="25" ry="2.6" fill="#a2dcec" opacity="0.47" transform="rotate(-6 518 270)"/><ellipse cx="1210" cy="151" rx="7" ry="2.2" fill="#a2dcec" opacity="0.61" transform="rotate(6 1210 151)"/><ellipse cx="1019" cy="310" rx="20" ry="1.6" fill="#a2dcec" opacity="0.54" transform="rotate(-9 1019 310)"/><ellipse cx="587" cy="199" rx="30" ry="5.4" fill="#a2dcec" opacity="0.54" transform="rotate(-2 587 199)"/><ellipse cx="319" cy="231" rx="9" ry="3.6" fill="#2fabca" opacity="0.53" transform="rotate(5 319 231)"/><ellipse cx="1152" cy="315" rx="16" ry="2.4" fill="#2fabca" opacity="0.57" transform="rotate(-5 1152 315)"/><ellipse cx="1005" cy="305" rx="30" ry="3.0" fill="#a2dcec" opacity="0.46" transform="rotate(-5 1005 305)"/><ellipse cx="484" cy="316" rx="21" ry="1.7" fill="#a2dcec" opacity="0.43" transform="rotate(11 484 316)"/><ellipse cx="623" cy="295" rx="11" ry="2.3" fill="#2fabca" opacity="0.38" transform="rotate(0 623 295)"/><ellipse cx="833" cy="211" rx="24" ry="4.9" fill="#a2dcec" opacity="0.49" transform="rotate(-0 833 211)"/><ellipse cx="777" cy="264" rx="25" ry="2.9" fill="#2fabca" opacity="0.56" transform="rotate(-11 777 264)"/><ellipse cx="713" cy="245" rx="10" ry="5.0" fill="#a2dcec" opacity="0.58" transform="rotate(-5 713 245)"/><ellipse cx="389" cy="200" rx="21" ry="4.2" fill="#a2dcec" opacity="0.36" transform="rotate(7 389 200)"/><ellipse cx="1018" cy="273" rx="19" ry="4.9" fill="#2fabca" opacity="0.61" transform="rotate(-2 1018 273)"/><ellipse cx="846" cy="294" rx="22" ry="4.6" fill="#a2dcec" opacity="0.62" transform="rotate(-6 846 294)"/><ellipse cx="886" cy="153" rx="19" ry="4.4" fill="#2fabca" opacity="0.57" transform="rotate(9 886 153)"/><ellipse cx="464" cy="152" rx="19" ry="2.9" fill="#a2dcec" opacity="0.62" transform="rotate(6 464 152)"/><ellipse cx="1206" cy="208" rx="20" ry="4.0" fill="#a2dcec" opacity="0.61" transform="rotate(-1 1206 208)"/><ellipse cx="1147" cy="154" rx="25" ry="2.2" fill="#a2dcec" opacity="0.65" transform="rotate(-1 1147 154)"/><ellipse cx="623" cy="164" rx="7" ry="2.6" fill="#a2dcec" opacity="0.66" transform="rotate(-7 623 164)"/><ellipse cx="666" cy="226" rx="23" ry="4.8" fill="#a2dcec" opacity="0.45" transform="rotate(-9 666 226)"/><ellipse cx="867" cy="216" rx="23" ry="2.4" fill="#a2dcec" opacity="0.51" transform="rotate(-5 867 216)"/><ellipse cx="442" cy="286" rx="18" ry="3.7" fill="#2fabca" opacity="0.36" transform="rotate(1 442 286)"/><ellipse cx="608" cy="194" rx="26" ry="2.5" fill="#a2dcec" opacity="0.55" transform="rotate(-9 608 194)"/><ellipse cx="587" cy="151" rx="18" ry="4.0" fill="#2fabca" opacity="0.78" transform="rotate(-4 587 151)"/><ellipse cx="1319" cy="169" rx="10" ry="3.6" fill="#a2dcec" opacity="0.62" transform="rotate(-11 1319 169)"/><ellipse cx="697" cy="239" rx="15" ry="4.5" fill="#a2dcec" opacity="0.39" transform="rotate(-1 697 239)"/><ellipse cx="1020" cy="292" rx="22" ry="5.4" fill="#a2dcec" opacity="0.53" transform="rotate(8 1020 292)"/><ellipse cx="926" cy="258" rx="20" ry="4.5" fill="#a2dcec" opacity="0.56" transform="rotate(7 926 258)"/><ellipse cx="712" cy="283" rx="28" ry="3.6" fill="#a2dcec" opacity="0.76" transform="rotate(-7 712 283)"/><ellipse cx="476" cy="158" rx="16" ry="3.1" fill="#2fabca" opacity="0.43" transform="rotate(-3 476 158)"/><ellipse cx="1102" cy="154" rx="16" ry="2.1" fill="#a2dcec" opacity="0.48" transform="rotate(-9 1102 154)"/><ellipse cx="366" cy="188" rx="23" ry="2.0" fill="#a2dcec" opacity="0.46" transform="rotate(-11 366 188)"/><ellipse cx="1059" cy="287" rx="19" ry="2.8" fill="#a2dcec" opacity="0.67" transform="rotate(-6 1059 287)"/><ellipse cx="855" cy="328" rx="12" ry="4.3" fill="#a2dcec" opacity="0.59" transform="rotate(-2 855 328)"/><ellipse cx="1026" cy="244" rx="7" ry="4.8" fill="#a2dcec" opacity="0.51" transform="rotate(-0 1026 244)"/><ellipse cx="905" cy="286" rx="9" ry="3.0" fill="#a2dcec" opacity="0.56" transform="rotate(-6 905 286)"/><ellipse cx="1131" cy="323" rx="21" ry="3.6" fill="#a2dcec" opacity="0.57" transform="rotate(7 1131 323)"/><ellipse cx="594" cy="229" rx="17" ry="2.7" fill="#a2dcec" opacity="0.48" transform="rotate(10 594 229)"/><ellipse cx="1179" cy="205" rx="8" ry="1.6" fill="#2fabca" opacity="0.54" transform="rotate(-9 1179 205)"/><ellipse cx="293" cy="291" rx="11" ry="5.2" fill="#a2dcec" opacity="0.63" transform="rotate(-4 293 291)"/><ellipse cx="974" cy="175" rx="12" ry="2.0" fill="#a2dcec" opacity="0.60" transform="rotate(12 974 175)"/><ellipse cx="247" cy="308" rx="13" ry="2.1" fill="#a2dcec" opacity="0.51" transform="rotate(-10 247 308)"/><ellipse cx="795" cy="233" rx="10" ry="5.0" fill="#a2dcec" opacity="0.69" transform="rotate(-6 795 233)"/><ellipse cx="1048" cy="275" rx="25" ry="2.2" fill="#2fabca" opacity="0.56" transform="rotate(-10 1048 275)"/><ellipse cx="1273" cy="205" rx="27" ry="2.3" fill="#a2dcec" opacity="0.58" transform="rotate(1 1273 205)"/><ellipse cx="995" cy="265" rx="15" ry="4.5" fill="#a2dcec" opacity="0.42" transform="rotate(2 995 265)"/><ellipse cx="634" cy="248" rx="10" ry="2.5" fill="#a2dcec" opacity="0.65" transform="rotate(-11 634 248)"/><ellipse cx="706" cy="222" rx="27" ry="2.0" fill="#a2dcec" opacity="0.71" transform="rotate(-2 706 222)"/><ellipse cx="1311" cy="196" rx="18" ry="2.7" fill="#a2dcec" opacity="0.38" transform="rotate(7 1311 196)"/><ellipse cx="973" cy="301" rx="17" ry="2.2" fill="#a2dcec" opacity="0.77" transform="rotate(1 973 301)"/><ellipse cx="535" cy="244" rx="26" ry="4.8" fill="#a2dcec" opacity="0.68" transform="rotate(-11 535 244)"/><ellipse cx="394" cy="152" rx="17" ry="3.5" fill="#a2dcec" opacity="0.72" transform="rotate(1 394 152)"/><ellipse cx="1059" cy="324" rx="24" ry="4.5" fill="#a2dcec" opacity="0.59" transform="rotate(6 1059 324)"/><ellipse cx="1117" cy="204" rx="25" ry="2.1" fill="#a2dcec" opacity="0.76" transform="rotate(-7 1117 204)"/><ellipse cx="1238" cy="237" rx="24" ry="2.1" fill="#a2dcec" opacity="0.46" transform="rotate(2 1238 237)"/><ellipse cx="1239" cy="252" rx="19" ry="3.0" fill="#a2dcec" opacity="0.67" transform="rotate(9 1239 252)"/><ellipse cx="628" cy="271" rx="14" ry="2.5" fill="#a2dcec" opacity="0.53" transform="rotate(3 628 271)"/><ellipse cx="810" cy="231" rx="24" ry="3.3" fill="#a2dcec" opacity="0.60" transform="rotate(11 810 231)"/><ellipse cx="613" cy="230" rx="24" ry="2.7" fill="#a2dcec" opacity="0.50" transform="rotate(-8 613 230)"/><ellipse cx="851" cy="251" rx="13" ry="2.6" fill="#2fabca" opacity="0.58" transform="rotate(5 851 251)"/><ellipse cx="710" cy="249" rx="13" ry="2.2" fill="#2fabca" opacity="0.66" transform="rotate(-5 710 249)"/><ellipse cx="695" cy="251" rx="8" ry="4.0" fill="#2fabca" opacity="0.66" transform="rotate(-1 695 251)"/><ellipse cx="375" cy="247" rx="20" ry="4.3" fill="#2fabca" opacity="0.47" transform="rotate(-9 375 247)"/><ellipse cx="1325" cy="246" rx="27" ry="3.9" fill="#2fabca" opacity="0.62" transform="rotate(5 1325 246)"/><ellipse cx="950" cy="322" rx="24" ry="5.4" fill="#a2dcec" opacity="0.44" transform="rotate(-7 950 322)"/><ellipse cx="751" cy="250" rx="23" ry="3.4" fill="#2fabca" opacity="0.53" transform="rotate(-12 751 250)"/><ellipse cx="831" cy="268" rx="12" ry="4.5" fill="#a2dcec" opacity="0.76" transform="rotate(-1 831 268)"/><ellipse cx="1307" cy="260" rx="23" ry="2.3" fill="#2fabca" opacity="0.80" transform="rotate(-8 1307 260)"/><ellipse cx="889" cy="179" rx="27" ry="5.0" fill="#2fabca" opacity="0.70" transform="rotate(-3 889 179)"/><ellipse cx="948" cy="161" rx="9" ry="3.7" fill="#a2dcec" opacity="0.48" transform="rotate(-12 948 161)"/><ellipse cx="290" cy="209" rx="15" ry="5.1" fill="#a2dcec" opacity="0.75" transform="rotate(6 290 209)"/><ellipse cx="1025" cy="287" rx="11" ry="4.5" fill="#a2dcec" opacity="0.64" transform="rotate(-0 1025 287)"/><ellipse cx="741" cy="302" rx="25" ry="2.3" fill="#2fabca" opacity="0.59" transform="rotate(-11 741 302)"/><ellipse cx="1125" cy="308" rx="16" ry="3.2" fill="#a2dcec" opacity="0.44" transform="rotate(1 1125 308)"/><ellipse cx="730" cy="268" rx="22" ry="2.3" fill="#a2dcec" opacity="0.55" transform="rotate(-2 730 268)"/><ellipse cx="447" cy="260" rx="22" ry="4.6" fill="#2fabca" opacity="0.51" transform="rotate(1 447 260)"/><ellipse cx="928" cy="220" rx="6" ry="4.4" fill="#2fabca" opacity="0.56" transform="rotate(10 928 220)"/><ellipse cx="298" cy="255" rx="16" ry="4.1" fill="#a2dcec" opacity="0.67" transform="rotate(-7 298 255)"/><ellipse cx="561" cy="224" rx="16" ry="3.2" fill="#2fabca" opacity="0.58" transform="rotate(1 561 224)"/><ellipse cx="384" cy="246" rx="24" ry="4.3" fill="#2fabca" opacity="0.62" transform="rotate(-3 384 246)"/><ellipse cx="1215" cy="326" rx="29" ry="2.0" fill="#a2dcec" opacity="0.42" transform="rotate(-6 1215 326)"/><ellipse cx="1110" cy="307" rx="20" ry="2.8" fill="#a2dcec" opacity="0.49" transform="rotate(-6 1110 307)"/><ellipse cx="470" cy="321" rx="28" ry="2.2" fill="#2fabca" opacity="0.69" transform="rotate(5 470 321)"/><ellipse cx="526" cy="246" rx="26" ry="4.3" fill="#2fabca" opacity="0.37" transform="rotate(-4 526 246)"/><ellipse cx="655" cy="225" rx="30" ry="5.4" fill="#2fabca" opacity="0.65" transform="rotate(7 655 225)"/><ellipse cx="1190" cy="189" rx="21" ry="5.4" fill="#a2dcec" opacity="0.55" transform="rotate(-3 1190 189)"/><ellipse cx="1197" cy="233" rx="9" ry="3.0" fill="#a2dcec" opacity="0.60" transform="rotate(-11 1197 233)"/><ellipse cx="1153" cy="201" rx="7" ry="4.0" fill="#a2dcec" opacity="0.62" transform="rotate(-10 1153 201)"/><ellipse cx="263" cy="280" rx="18" ry="1.5" fill="#a2dcec" opacity="0.39" transform="rotate(-1 263 280)"/><ellipse cx="1035" cy="191" rx="16" ry="4.4" fill="#a2dcec" opacity="0.63" transform="rotate(-11 1035 191)"/><ellipse cx="1029" cy="193" rx="16" ry="5.5" fill="#a2dcec" opacity="0.43" transform="rotate(7 1029 193)"/><ellipse cx="686" cy="239" rx="13" ry="2.2" fill="#2fabca" opacity="0.53" transform="rotate(-7 686 239)"/><ellipse cx="1139" cy="169" rx="16" ry="2.0" fill="#a2dcec" opacity="0.79" transform="rotate(-0 1139 169)"/><ellipse cx="972" cy="176" rx="15" ry="1.7" fill="#2fabca" opacity="0.35" transform="rotate(11 972 176)"/><ellipse cx="1317" cy="186" rx="13" ry="2.2" fill="#a2dcec" opacity="0.56" transform="rotate(1 1317 186)"/><ellipse cx="1229" cy="237" rx="10" ry="3.2" fill="#a2dcec" opacity="0.37" transform="rotate(-3 1229 237)"/><ellipse cx="1172" cy="165" rx="29" ry="4.9" fill="#2fabca" opacity="0.62" transform="rotate(-5 1172 165)"/><ellipse cx="1103" cy="177" rx="19" ry="4.8" fill="#a2dcec" opacity="0.69" transform="rotate(-8 1103 177)"/><ellipse cx="1205" cy="177" rx="14" ry="3.9" fill="#2fabca" opacity="0.40" transform="rotate(-5 1205 177)"/><ellipse cx="1105" cy="194" rx="15" ry="2.2" fill="#2fabca" opacity="0.70" transform="rotate(-3 1105 194)"/><ellipse cx="1354" cy="309" rx="14" ry="1.8" fill="#a2dcec" opacity="0.64" transform="rotate(-6 1354 309)"/><ellipse cx="250" cy="202" rx="28" ry="4.2" fill="#a2dcec" opacity="0.66" transform="rotate(-6 250 202)"/><ellipse cx="1225" cy="235" rx="28" ry="3.9" fill="#a2dcec" opacity="0.74" transform="rotate(12 1225 235)"/><ellipse cx="1040" cy="320" rx="16" ry="2.8" fill="#a2dcec" opacity="0.52" transform="rotate(9 1040 320)"/><ellipse cx="606" cy="194" rx="8" ry="4.4" fill="#2fabca" opacity="0.54" transform="rotate(-8 606 194)"/><ellipse cx="1094" cy="303" rx="16" ry="3.4" fill="#a2dcec" opacity="0.59" transform="rotate(4 1094 303)"/><ellipse cx="1276" cy="210" rx="29" ry="4.0" fill="#a2dcec" opacity="0.73" transform="rotate(-6 1276 210)"/><ellipse cx="853" cy="314" rx="26" ry="4.9" fill="#a2dcec" opacity="0.64" transform="rotate(7 853 314)"/><ellipse cx="515" cy="324" rx="25" ry="3.5" fill="#a2dcec" opacity="0.78" transform="rotate(-12 515 324)"/><ellipse cx="547" cy="308" rx="7" ry="4.3" fill="#a2dcec" opacity="0.46" transform="rotate(-11 547 308)"/><ellipse cx="559" cy="216" rx="22" ry="4.8" fill="#a2dcec" opacity="0.42" transform="rotate(1 559 216)"/><ellipse cx="1278" cy="192" rx="23" ry="2.4" fill="#a2dcec" opacity="0.59" transform="rotate(8 1278 192)"/><ellipse cx="843" cy="185" rx="20" ry="1.7" fill="#a2dcec" opacity="0.60" transform="rotate(-4 843 185)"/><ellipse cx="942" cy="214" rx="18" ry="3.8" fill="#a2dcec" opacity="0.44" transform="rotate(11 942 214)"/><ellipse cx="1191" cy="184" rx="28" ry="2.6" fill="#2fabca" opacity="0.45" transform="rotate(9 1191 184)"/><ellipse cx="1208" cy="251" rx="22" ry="4.5" fill="#a2dcec" opacity="0.50" transform="rotate(6 1208 251)"/><ellipse cx="1252" cy="246" rx="27" ry="2.9" fill="#a2dcec" opacity="0.66" transform="rotate(-4 1252 246)"/><ellipse cx="1124" cy="293" rx="11" ry="3.1" fill="#2fabca" opacity="0.58" transform="rotate(-11 1124 293)"/><ellipse cx="1146" cy="183" rx="17" ry="5.1" fill="#a2dcec" opacity="0.69" transform="rotate(-12 1146 183)"/><ellipse cx="518" cy="171" rx="30" ry="2.4" fill="#a2dcec" opacity="0.67" transform="rotate(7 518 171)"/><ellipse cx="1043" cy="246" rx="27" ry="3.9" fill="#a2dcec" opacity="0.73" transform="rotate(-12 1043 246)"/><ellipse cx="1353" cy="254" rx="21" ry="2.5" fill="#2fabca" opacity="0.51" transform="rotate(2 1353 254)"/><ellipse cx="306" cy="271" rx="26" ry="4.0" fill="#2fabca" opacity="0.61" transform="rotate(1 306 271)"/><ellipse cx="1172" cy="183" rx="15" ry="4.7" fill="#a2dcec" opacity="0.76" transform="rotate(5 1172 183)"/><ellipse cx="992" cy="265" rx="11" ry="4.6" fill="#2fabca" opacity="0.45" transform="rotate(-3 992 265)"/><ellipse cx="724" cy="282" rx="8" ry="2.0" fill="#2fabca" opacity="0.70" transform="rotate(-2 724 282)"/><ellipse cx="428" cy="151" rx="10" ry="5.1" fill="#a2dcec" opacity="0.73" transform="rotate(-8 428 151)"/><ellipse cx="1139" cy="191" rx="23" ry="4.6" fill="#a2dcec" opacity="0.46" transform="rotate(-0 1139 191)"/><ellipse cx="514" cy="325" rx="17" ry="3.8" fill="#a2dcec" opacity="0.55" transform="rotate(10 514 325)"/><ellipse cx="1234" cy="299" rx="29" ry="5.5" fill="#a2dcec" opacity="0.48" transform="rotate(-10 1234 299)"/><ellipse cx="1178" cy="176" rx="25" ry="2.3" fill="#a2dcec" opacity="0.50" transform="rotate(9 1178 176)"/><ellipse cx="519" cy="184" rx="25" ry="2.5" fill="#a2dcec" opacity="0.56" transform="rotate(5 519 184)"/><ellipse cx="794" cy="191" rx="9" ry="4.9" fill="#a2dcec" opacity="0.46" transform="rotate(2 794 191)"/><ellipse cx="1302" cy="215" rx="14" ry="2.9" fill="#a2dcec" opacity="0.76" transform="rotate(2 1302 215)"/><ellipse cx="856" cy="207" rx="14" ry="3.3" fill="#2fabca" opacity="0.76" transform="rotate(8 856 207)"/><ellipse cx="483" cy="318" rx="13" ry="2.8" fill="#a2dcec" opacity="0.40" transform="rotate(0 483 318)"/><ellipse cx="1300" cy="171" rx="29" ry="3.1" fill="#a2dcec" opacity="0.59" transform="rotate(-10 1300 171)"/><ellipse cx="614" cy="287" rx="13" ry="4.5" fill="#a2dcec" opacity="0.69" transform="rotate(5 614 287)"/><ellipse cx="886" cy="233" rx="11" ry="1.9" fill="#a2dcec" opacity="0.51" transform="rotate(8 886 233)"/><ellipse cx="367" cy="166" rx="14" ry="3.7" fill="#a2dcec" opacity="0.63" transform="rotate(-6 367 166)"/><ellipse cx="328" cy="270" rx="9" ry="4.6" fill="#a2dcec" opacity="0.76" transform="rotate(-1 328 270)"/><ellipse cx="755" cy="265" rx="9" ry="4.9" fill="#a2dcec" opacity="0.66" transform="rotate(-10 755 265)"/><ellipse cx="555" cy="177" rx="14" ry="3.0" fill="#2fabca" opacity="0.56" transform="rotate(2 555 177)"/><ellipse cx="712" cy="224" rx="8" ry="4.2" fill="#a2dcec" opacity="0.44" transform="rotate(6 712 224)"/><ellipse cx="262" cy="309" rx="19" ry="4.8" fill="#a2dcec" opacity="0.41" transform="rotate(-0 262 309)"/><ellipse cx="483" cy="249" rx="6" ry="4.3" fill="#a2dcec" opacity="0.60" transform="rotate(-4 483 249)"/><ellipse cx="997" cy="221" rx="29" ry="5.1" fill="#a2dcec" opacity="0.71" transform="rotate(-6 997 221)"/><ellipse cx="1280" cy="270" rx="6" ry="4.1" fill="#a2dcec" opacity="0.64" transform="rotate(-9 1280 270)"/><ellipse cx="626" cy="319" rx="20" ry="3.5" fill="#a2dcec" opacity="0.40" transform="rotate(-9 626 319)"/><ellipse cx="693" cy="214" rx="17" ry="3.7" fill="#a2dcec" opacity="0.48" transform="rotate(8 693 214)"/><ellipse cx="1078" cy="264" rx="7" ry="4.1" fill="#a2dcec" opacity="0.44" transform="rotate(-6 1078 264)"/><ellipse cx="1347" cy="213" rx="13" ry="1.9" fill="#a2dcec" opacity="0.70" transform="rotate(-4 1347 213)"/><ellipse cx="713" cy="171" rx="10" ry="1.9" fill="#2fabca" opacity="0.73" transform="rotate(-1 713 171)"/><ellipse cx="882" cy="220" rx="23" ry="2.4" fill="#a2dcec" opacity="0.68" transform="rotate(-4 882 220)"/><ellipse cx="1354" cy="234" rx="6" ry="3.4" fill="#2fabca" opacity="0.43" transform="rotate(-1 1354 234)"/><ellipse cx="864" cy="309" rx="6" ry="4.4" fill="#a2dcec" opacity="0.67" transform="rotate(11 864 309)"/><ellipse cx="952" cy="154" rx="13" ry="3.4" fill="#2fabca" opacity="0.55" transform="rotate(-6 952 154)"/><ellipse cx="1076" cy="282" rx="30" ry="4.0" fill="#a2dcec" opacity="0.75" transform="rotate(-7 1076 282)"/><ellipse cx="282" cy="298" rx="21" ry="5.0" fill="#2fabca" opacity="0.40" transform="rotate(-5 282 298)"/><ellipse cx="1192" cy="250" rx="25" ry="5.1" fill="#a2dcec" opacity="0.46" transform="rotate(-10 1192 250)"/><ellipse cx="494" cy="220" rx="28" ry="2.4" fill="#a2dcec" opacity="0.54" transform="rotate(11 494 220)"/><ellipse cx="998" cy="224" rx="8" ry="2.6" fill="#a2dcec" opacity="0.80" transform="rotate(-5 998 224)"/><ellipse cx="439" cy="156" rx="10" ry="3.9" fill="#a2dcec" opacity="0.61" transform="rotate(5 439 156)"/><ellipse cx="454" cy="258" rx="20" ry="5.4" fill="#a2dcec" opacity="0.45" transform="rotate(-7 454 258)"/><ellipse cx="1034" cy="295" rx="13" ry="4.8" fill="#2fabca" opacity="0.52" transform="rotate(-10 1034 295)"/><ellipse cx="1275" cy="196" rx="30" ry="3.1" fill="#a2dcec" opacity="0.55" transform="rotate(-10 1275 196)"/><ellipse cx="639" cy="166" rx="18" ry="2.0" fill="#a2dcec" opacity="0.59" transform="rotate(10 639 166)"/><ellipse cx="1158" cy="261" rx="25" ry="3.1" fill="#2fabca" opacity="0.63" transform="rotate(8 1158 261)"/><ellipse cx="1219" cy="271" rx="28" ry="1.6" fill="#2fabca" opacity="0.57" transform="rotate(0 1219 271)"/><ellipse cx="501" cy="207" rx="19" ry="2.9" fill="#a2dcec" opacity="0.50" transform="rotate(-8 501 207)"/><ellipse cx="1352" cy="166" rx="23" ry="4.6" fill="#2fabca" opacity="0.68" transform="rotate(5 1352 166)"/><ellipse cx="933" cy="311" rx="26" ry="3.5" fill="#2fabca" opacity="0.61" transform="rotate(-2 933 311)"/><ellipse cx="567" cy="262" rx="19" ry="2.7" fill="#a2dcec" opacity="0.54" transform="rotate(9 567 262)"/><ellipse cx="377" cy="163" rx="18" ry="3.7" fill="#a2dcec" opacity="0.55" transform="rotate(-9 377 163)"/><ellipse cx="456" cy="289" rx="6" ry="2.3" fill="#a2dcec" opacity="0.72" transform="rotate(7 456 289)"/><ellipse cx="817" cy="242" rx="25" ry="3.7" fill="#a2dcec" opacity="0.55" transform="rotate(-9 817 242)"/><ellipse cx="1271" cy="188" rx="20" ry="4.2" fill="#a2dcec" opacity="0.51" transform="rotate(-11 1271 188)"/><ellipse cx="732" cy="164" rx="19" ry="3.3" fill="#a2dcec" opacity="0.51" transform="rotate(-1 732 164)"/><ellipse cx="545" cy="321" rx="13" ry="1.8" fill="#a2dcec" opacity="0.38" transform="rotate(-2 545 321)"/><ellipse cx="271" cy="231" rx="28" ry="2.5" fill="#a2dcec" opacity="0.59" transform="rotate(-8 271 231)"/><ellipse cx="728" cy="153" rx="17" ry="1.9" fill="#a2dcec" opacity="0.56" transform="rotate(-3 728 153)"/><ellipse cx="448" cy="178" rx="13" ry="5.3" fill="#2fabca" opacity="0.49" transform="rotate(-11 448 178)"/><ellipse cx="781" cy="310" rx="12" ry="5.5" fill="#a2dcec" opacity="0.47" transform="rotate(-10 781 310)"/><ellipse cx="558" cy="246" rx="13" ry="3.0" fill="#a2dcec" opacity="0.57" transform="rotate(-10 558 246)"/><ellipse cx="341" cy="305" rx="10" ry="3.1" fill="#a2dcec" opacity="0.79" transform="rotate(0 341 305)"/><ellipse cx="1078" cy="261" rx="25" ry="3.4" fill="#a2dcec" opacity="0.59" transform="rotate(3 1078 261)"/><ellipse cx="412" cy="256" rx="17" ry="3.0" fill="#a2dcec" opacity="0.51" transform="rotate(-3 412 256)"/><ellipse cx="1344" cy="208" rx="17" ry="1.5" fill="#a2dcec" opacity="0.71" transform="rotate(0 1344 208)"/><ellipse cx="1006" cy="315" rx="23" ry="5.3" fill="#2fabca" opacity="0.44" transform="rotate(3 1006 315)"/><ellipse cx="265" cy="265" rx="28" ry="4.4" fill="#2fabca" opacity="0.61" transform="rotate(7 265 265)"/><ellipse cx="502" cy="201" rx="8" ry="2.0" fill="#a2dcec" opacity="0.40" transform="rotate(7 502 201)"/><ellipse cx="538" cy="302" rx="29" ry="1.7" fill="#a2dcec" opacity="0.65" transform="rotate(-1 538 302)"/><ellipse cx="266" cy="240" rx="23" ry="3.6" fill="#a2dcec" opacity="0.59" transform="rotate(-11 266 240)"/><ellipse cx="437" cy="210" rx="18" ry="3.0" fill="#a2dcec" opacity="0.77" transform="rotate(-10 437 210)"/><ellipse cx="420" cy="284" rx="14" ry="4.9" fill="#2fabca" opacity="0.58" transform="rotate(3 420 284)"/><ellipse cx="666" cy="285" rx="29" ry="4.0" fill="#a2dcec" opacity="0.76" transform="rotate(-12 666 285)"/><ellipse cx="1085" cy="321" rx="11" ry="4.0" fill="#a2dcec" opacity="0.53" transform="rotate(11 1085 321)"/><ellipse cx="337" cy="184" rx="10" ry="2.1" fill="#a2dcec" opacity="0.78" transform="rotate(3 337 184)"/><ellipse cx="814" cy="295" rx="22" ry="5.4" fill="#a2dcec" opacity="0.59" transform="rotate(10 814 295)"/><ellipse cx="587" cy="316" rx="15" ry="3.3" fill="#a2dcec" opacity="0.40" transform="rotate(-4 587 316)"/><ellipse cx="1031" cy="303" rx="19" ry="1.7" fill="#a2dcec" opacity="0.64" transform="rotate(3 1031 303)"/><ellipse cx="530" cy="161" rx="19" ry="2.5" fill="#2fabca" opacity="0.74" transform="rotate(-10 530 161)"/><ellipse cx="1094" cy="231" rx="16" ry="3.3" fill="#2fabca" opacity="0.39" transform="rotate(11 1094 231)"/><ellipse cx="1269" cy="228" rx="29" ry="4.7" fill="#a2dcec" opacity="0.59" transform="rotate(5 1269 228)"/><ellipse cx="886" cy="292" rx="12" ry="3.2" fill="#a2dcec" opacity="0.35" transform="rotate(5 886 292)"/><ellipse cx="920" cy="193" rx="26" ry="4.4" fill="#a2dcec" opacity="0.61" transform="rotate(-5 920 193)"/><ellipse cx="977" cy="196" rx="19" ry="4.8" fill="#a2dcec" opacity="0.74" transform="rotate(8 977 196)"/><ellipse cx="757" cy="221" rx="13" ry="3.4" fill="#a2dcec" opacity="0.72" transform="rotate(-6 757 221)"/><ellipse cx="325" cy="175" rx="14" ry="2.8" fill="#a2dcec" opacity="0.50" transform="rotate(-7 325 175)"/><ellipse cx="773" cy="241" rx="18" ry="3.0" fill="#a2dcec" opacity="0.79" transform="rotate(-3 773 241)"/><ellipse cx="1028" cy="228" rx="23" ry="3.1" fill="#2fabca" opacity="0.80" transform="rotate(5 1028 228)"/><ellipse cx="1075" cy="159" rx="22" ry="4.3" fill="#a2dcec" opacity="0.70" transform="rotate(8 1075 159)"/><ellipse cx="1268" cy="224" rx="10" ry="2.3" fill="#a2dcec" opacity="0.58" transform="rotate(12 1268 224)"/><ellipse cx="655" cy="244" rx="9" ry="4.6" fill="#a2dcec" opacity="0.48" transform="rotate(8 655 244)"/><ellipse cx="1019" cy="253" rx="23" ry="2.0" fill="#a2dcec" opacity="0.61" transform="rotate(3 1019 253)"/><ellipse cx="604" cy="231" rx="8" ry="3.3" fill="#a2dcec" opacity="0.60" transform="rotate(-0 604 231)"/><ellipse cx="925" cy="249" rx="30" ry="2.1" fill="#a2dcec" opacity="0.68" transform="rotate(7 925 249)"/><ellipse cx="433" cy="196" rx="23" ry="4.0" fill="#a2dcec" opacity="0.72" transform="rotate(-1 433 196)"/><ellipse cx="532" cy="234" rx="11" ry="4.5" fill="#2fabca" opacity="0.68" transform="rotate(2 532 234)"/><ellipse cx="348" cy="320" rx="27" ry="4.8" fill="#a2dcec" opacity="0.39" transform="rotate(-4 348 320)"/><ellipse cx="784" cy="258" rx="11" ry="5.0" fill="#a2dcec" opacity="0.68" transform="rotate(9 784 258)"/><ellipse cx="526" cy="185" rx="20" ry="2.0" fill="#a2dcec" opacity="0.37" transform="rotate(7 526 185)"/><ellipse cx="1182" cy="219" rx="17" ry="3.8" fill="#a2dcec" opacity="0.50" transform="rotate(-3 1182 219)"/><ellipse cx="532" cy="276" rx="19" ry="1.9" fill="#a2dcec" opacity="0.69" transform="rotate(-0 532 276)"/><ellipse cx="1201" cy="279" rx="20" ry="2.5" fill="#a2dcec" opacity="0.56" transform="rotate(6 1201 279)"/><ellipse cx="526" cy="328" rx="29" ry="5.4" fill="#a2dcec" opacity="0.44" transform="rotate(-1 526 328)"/><ellipse cx="1098" cy="268" rx="6" ry="2.4" fill="#2fabca" opacity="0.59" transform="rotate(-10 1098 268)"/><ellipse cx="880" cy="290" rx="28" ry="2.0" fill="#a2dcec" opacity="0.40" transform="rotate(3 880 290)"/><ellipse cx="847" cy="154" rx="10" ry="3.2" fill="#a2dcec" opacity="0.79" transform="rotate(-5 847 154)"/><ellipse cx="550" cy="274" rx="17" ry="3.9" fill="#2fabca" opacity="0.69" transform="rotate(-2 550 274)"/><ellipse cx="647" cy="274" rx="20" ry="4.2" fill="#a2dcec" opacity="0.68" transform="rotate(-6 647 274)"/><ellipse cx="1148" cy="222" rx="16" ry="1.7" fill="#2fabca" opacity="0.60" transform="rotate(3 1148 222)"/><ellipse cx="609" cy="161" rx="19" ry="3.5" fill="#a2dcec" opacity="0.72" transform="rotate(-11 609 161)"/><ellipse cx="1199" cy="314" rx="8" ry="5.3" fill="#2fabca" opacity="0.51" transform="rotate(-2 1199 314)"/><ellipse cx="1153" cy="161" rx="26" ry="1.5" fill="#a2dcec" opacity="0.37" transform="rotate(-1 1153 161)"/><ellipse cx="1033" cy="247" rx="15" ry="2.6" fill="#a2dcec" opacity="0.48" transform="rotate(-7 1033 247)"/><ellipse cx="504" cy="171" rx="11" ry="3.1" fill="#a2dcec" opacity="0.68" transform="rotate(-5 504 171)"/><ellipse cx="1110" cy="251" rx="23" ry="4.4" fill="#a2dcec" opacity="0.66" transform="rotate(-11 1110 251)"/><ellipse cx="1192" cy="280" rx="28" ry="2.9" fill="#a2dcec" opacity="0.68" transform="rotate(-8 1192 280)"/><ellipse cx="1222" cy="210" rx="27" ry="1.8" fill="#a2dcec" opacity="0.71" transform="rotate(-10 1222 210)"/><ellipse cx="1055" cy="221" rx="20" ry="2.2" fill="#a2dcec" opacity="0.74" transform="rotate(5 1055 221)"/><ellipse cx="368" cy="165" rx="9" ry="2.3" fill="#a2dcec" opacity="0.59" transform="rotate(-5 368 165)"/><ellipse cx="1295" cy="164" rx="18" ry="4.0" fill="#a2dcec" opacity="0.56" transform="rotate(3 1295 164)"/><ellipse cx="411" cy="201" rx="27" ry="1.6" fill="#a2dcec" opacity="0.76" transform="rotate(10 411 201)"/><ellipse cx="454" cy="329" rx="17" ry="2.0" fill="#2fabca" opacity="0.59" transform="rotate(12 454 329)"/><ellipse cx="380" cy="302" rx="14" ry="1.7" fill="#a2dcec" opacity="0.70" transform="rotate(10 380 302)"/><ellipse cx="1056" cy="269" rx="16" ry="2.7" fill="#a2dcec" opacity="0.38" transform="rotate(-9 1056 269)"/><ellipse cx="514" cy="314" rx="28" ry="2.6" fill="#2fabca" opacity="0.42" transform="rotate(4 514 314)"/><ellipse cx="366" cy="254" rx="30" ry="4.4" fill="#a2dcec" opacity="0.65" transform="rotate(8 366 254)"/><ellipse cx="794" cy="310" rx="23" ry="4.4" fill="#a2dcec" opacity="0.71" transform="rotate(11 794 310)"/><ellipse cx="309" cy="230" rx="23" ry="4.7" fill="#2fabca" opacity="0.49" transform="rotate(-1 309 230)"/><ellipse cx="1075" cy="325" rx="9" ry="1.6" fill="#2fabca" opacity="0.37" transform="rotate(-10 1075 325)"/><ellipse cx="649" cy="152" rx="28" ry="1.6" fill="#a2dcec" opacity="0.57" transform="rotate(-3 649 152)"/><ellipse cx="1080" cy="306" rx="6" ry="5.3" fill="#a2dcec" opacity="0.52" transform="rotate(-6 1080 306)"/><ellipse cx="431" cy="164" rx="25" ry="2.8" fill="#a2dcec" opacity="0.75" transform="rotate(-3 431 164)"/><ellipse cx="408" cy="175" rx="15" ry="1.7" fill="#a2dcec" opacity="0.52" transform="rotate(4 408 175)"/><ellipse cx="733" cy="161" rx="30" ry="4.5" fill="#a2dcec" opacity="0.41" transform="rotate(4 733 161)"/><ellipse cx="836" cy="278" rx="7" ry="4.2" fill="#2fabca" opacity="0.71" transform="rotate(4 836 278)"/><ellipse cx="459" cy="263" rx="22" ry="2.5" fill="#2fabca" opacity="0.48" transform="rotate(-10 459 263)"/><ellipse cx="769" cy="313" rx="23" ry="2.5" fill="#a2dcec" opacity="0.75" transform="rotate(10 769 313)"/><ellipse cx="743" cy="238" rx="13" ry="4.2" fill="#2fabca" opacity="0.50" transform="rotate(8 743 238)"/><ellipse cx="799" cy="275" rx="24" ry="4.0" fill="#a2dcec" opacity="0.78" transform="rotate(-11 799 275)"/><ellipse cx="474" cy="170" rx="22" ry="3.3" fill="#2fabca" opacity="0.43" transform="rotate(-10 474 170)"/><ellipse cx="253" cy="205" rx="26" ry="2.9" fill="#a2dcec" opacity="0.48" transform="rotate(-5 253 205)"/><ellipse cx="1058" cy="150" rx="19" ry="5.3" fill="#a2dcec" opacity="0.57" transform="rotate(3 1058 150)"/><ellipse cx="565" cy="185" rx="26" ry="1.5" fill="#a2dcec" opacity="0.56" transform="rotate(-10 565 185)"/><ellipse cx="288" cy="307" rx="25" ry="3.6" fill="#2fabca" opacity="0.72" transform="rotate(6 288 307)"/><ellipse cx="651" cy="282" rx="14" ry="2.9" fill="#a2dcec" opacity="0.35" transform="rotate(7 651 282)"/><ellipse cx="1109" cy="302" rx="16" ry="4.3" fill="#a2dcec" opacity="0.47" transform="rotate(-1 1109 302)"/><ellipse cx="363" cy="298" rx="23" ry="1.7" fill="#a2dcec" opacity="0.67" transform="rotate(-11 363 298)"/><ellipse cx="1342" cy="328" rx="18" ry="3.0" fill="#a2dcec" opacity="0.69" transform="rotate(5 1342 328)"/><ellipse cx="479" cy="162" rx="16" ry="4.7" fill="#a2dcec" opacity="0.62" transform="rotate(4 479 162)"/><ellipse cx="444" cy="254" rx="10" ry="4.7" fill="#a2dcec" opacity="0.75" transform="rotate(-2 444 254)"/><ellipse cx="689" cy="229" rx="17" ry="4.6" fill="#a2dcec" opacity="0.36" transform="rotate(4 689 229)"/><ellipse cx="410" cy="177" rx="14" ry="3.4" fill="#a2dcec" opacity="0.76" transform="rotate(-5 410 177)"/><ellipse cx="1264" cy="200" rx="6" ry="4.9" fill="#a2dcec" opacity="0.37" transform="rotate(3 1264 200)"/><ellipse cx="1119" cy="222" rx="22" ry="5.5" fill="#a2dcec" opacity="0.63" transform="rotate(12 1119 222)"/><ellipse cx="567" cy="300" rx="8" ry="4.2" fill="#a2dcec" opacity="0.69" transform="rotate(0 567 300)"/><ellipse cx="1033" cy="169" rx="27" ry="3.6" fill="#a2dcec" opacity="0.69" transform="rotate(0 1033 169)"/><ellipse cx="1208" cy="280" rx="12" ry="1.9" fill="#a2dcec" opacity="0.76" transform="rotate(-4 1208 280)"/><ellipse cx="599" cy="272" rx="29" ry="4.0" fill="#a2dcec" opacity="0.57" transform="rotate(-0 599 272)"/><ellipse cx="465" cy="266" rx="20" ry="3.2" fill="#a2dcec" opacity="0.40" transform="rotate(10 465 266)"/><ellipse cx="632" cy="211" rx="27" ry="3.8" fill="#2fabca" opacity="0.70" transform="rotate(6 632 211)"/><ellipse cx="1320" cy="275" rx="7" ry="3.7" fill="#a2dcec" opacity="0.59" transform="rotate(12 1320 275)"/><ellipse cx="1339" cy="280" rx="26" ry="1.5" fill="#a2dcec" opacity="0.56" transform="rotate(-6 1339 280)"/><ellipse cx="1272" cy="155" rx="26" ry="5.5" fill="#a2dcec" opacity="0.36" transform="rotate(-2 1272 155)"/><ellipse cx="355" cy="321" rx="19" ry="2.3" fill="#a2dcec" opacity="0.58" transform="rotate(1 355 321)"/><ellipse cx="479" cy="324" rx="27" ry="5.0" fill="#2fabca" opacity="0.77" transform="rotate(-6 479 324)"/><ellipse cx="1108" cy="222" rx="11" ry="4.4" fill="#a2dcec" opacity="0.46" transform="rotate(1 1108 222)"/><ellipse cx="692" cy="255" rx="24" ry="4.6" fill="#a2dcec" opacity="0.51" transform="rotate(-7 692 255)"/><ellipse cx="1307" cy="327" rx="12" ry="3.0" fill="#a2dcec" opacity="0.40" transform="rotate(3 1307 327)"/><ellipse cx="971" cy="188" rx="13" ry="4.2" fill="#2fabca" opacity="0.41" transform="rotate(5 971 188)"/><ellipse cx="1212" cy="283" rx="30" ry="2.5" fill="#a2dcec" opacity="0.79" transform="rotate(-1 1212 283)"/><ellipse cx="1008" cy="246" rx="20" ry="1.6" fill="#a2dcec" opacity="0.39" transform="rotate(9 1008 246)"/><ellipse cx="324" cy="217" rx="9" ry="4.0" fill="#a2dcec" opacity="0.71" transform="rotate(6 324 217)"/><ellipse cx="1100" cy="184" rx="17" ry="5.4" fill="#a2dcec" opacity="0.72" transform="rotate(1 1100 184)"/><ellipse cx="591" cy="316" rx="7" ry="4.1" fill="#a2dcec" opacity="0.72" transform="rotate(-11 591 316)"/><ellipse cx="928" cy="206" rx="22" ry="1.7" fill="#a2dcec" opacity="0.57" transform="rotate(-5 928 206)"/><ellipse cx="554" cy="283" rx="20" ry="3.0" fill="#a2dcec" opacity="0.63" transform="rotate(2 554 283)"/><ellipse cx="1002" cy="318" rx="29" ry="2.0" fill="#a2dcec" opacity="0.61" transform="rotate(-9 1002 318)"/><ellipse cx="536" cy="182" rx="16" ry="2.8" fill="#a2dcec" opacity="0.67" transform="rotate(6 536 182)"/><ellipse cx="494" cy="179" rx="14" ry="4.4" fill="#a2dcec" opacity="0.67" transform="rotate(11 494 179)"/><ellipse cx="532" cy="191" rx="20" ry="4.9" fill="#a2dcec" opacity="0.38" transform="rotate(-2 532 191)"/><ellipse cx="690" cy="173" rx="25" ry="1.8" fill="#a2dcec" opacity="0.47" transform="rotate(-9 690 173)"/><ellipse cx="667" cy="221" rx="15" ry="4.0" fill="#a2dcec" opacity="0.49" transform="rotate(-7 667 221)"/><ellipse cx="910" cy="303" rx="26" ry="2.5" fill="#a2dcec" opacity="0.51" transform="rotate(3 910 303)"/><ellipse cx="313" cy="288" rx="16" ry="4.5" fill="#2fabca" opacity="0.41" transform="rotate(8 313 288)"/><ellipse cx="1310" cy="191" rx="22" ry="5.0" fill="#a2dcec" opacity="0.65" transform="rotate(-5 1310 191)"/><ellipse cx="777" cy="182" rx="16" ry="5.1" fill="#a2dcec" opacity="0.53" transform="rotate(-9 777 182)"/><ellipse cx="654" cy="186" rx="15" ry="3.2" fill="#a2dcec" opacity="0.63" transform="rotate(3 654 186)"/><ellipse cx="259" cy="238" rx="30" ry="5.0" fill="#a2dcec" opacity="0.66" transform="rotate(-4 259 238)"/><ellipse cx="276" cy="193" rx="28" ry="3.1" fill="#a2dcec" opacity="0.48" transform="rotate(-11 276 193)"/><ellipse cx="855" cy="164" rx="25" ry="3.8" fill="#a2dcec" opacity="0.45" transform="rotate(-11 855 164)"/><ellipse cx="422" cy="202" rx="15" ry="3.1" fill="#a2dcec" opacity="0.77" transform="rotate(-2 422 202)"/><ellipse cx="1353" cy="183" rx="22" ry="4.9" fill="#a2dcec" opacity="0.69" transform="rotate(-6 1353 183)"/><ellipse cx="1030" cy="181" rx="26" ry="5.2" fill="#a2dcec" opacity="0.47" transform="rotate(5 1030 181)"/><ellipse cx="608" cy="258" rx="16" ry="5.2" fill="#a2dcec" opacity="0.74" transform="rotate(1 608 258)"/><ellipse cx="883" cy="295" rx="26" ry="4.5" fill="#a2dcec" opacity="0.64" transform="rotate(6 883 295)"/><ellipse cx="467" cy="172" rx="21" ry="2.5" fill="#a2dcec" opacity="0.36" transform="rotate(4 467 172)"/><ellipse cx="290" cy="153" rx="10" ry="2.9" fill="#a2dcec" opacity="0.62" transform="rotate(9 290 153)"/><ellipse cx="928" cy="186" rx="27" ry="5.4" fill="#a2dcec" opacity="0.78" transform="rotate(3 928 186)"/><ellipse cx="244" cy="156" rx="10" ry="5.4" fill="#a2dcec" opacity="0.75" transform="rotate(6 244 156)"/><ellipse cx="1283" cy="266" rx="12" ry="4.6" fill="#a2dcec" opacity="0.50" transform="rotate(-4 1283 266)"/><ellipse cx="1113" cy="226" rx="9" ry="2.0" fill="#a2dcec" opacity="0.53" transform="rotate(1 1113 226)"/><ellipse cx="241" cy="325" rx="20" ry="2.6" fill="#a2dcec" opacity="0.80" transform="rotate(-8 241 325)"/><ellipse cx="321" cy="196" rx="20" ry="5.1" fill="#a2dcec" opacity="0.40" transform="rotate(5 321 196)"/><ellipse cx="1299" cy="270" rx="11" ry="3.8" fill="#a2dcec" opacity="0.64" transform="rotate(-4 1299 270)"/><ellipse cx="857" cy="228" rx="24" ry="2.1" fill="#a2dcec" opacity="0.77" transform="rotate(-2 857 228)"/><ellipse cx="531" cy="196" rx="14" ry="4.0" fill="#a2dcec" opacity="0.43" transform="rotate(-1 531 196)"/><ellipse cx="498" cy="190" rx="15" ry="4.3" fill="#a2dcec" opacity="0.46" transform="rotate(-11 498 190)"/><ellipse cx="458" cy="258" rx="21" ry="2.4" fill="#a2dcec" opacity="0.65" transform="rotate(-10 458 258)"/><ellipse cx="923" cy="243" rx="13" ry="3.8" fill="#a2dcec" opacity="0.56" transform="rotate(-3 923 243)"/><ellipse cx="445" cy="225" rx="28" ry="4.9" fill="#a2dcec" opacity="0.71" transform="rotate(5 445 225)"/><ellipse cx="782" cy="190" rx="13" ry="3.1" fill="#a2dcec" opacity="0.61" transform="rotate(-0 782 190)"/><ellipse cx="992" cy="156" rx="28" ry="4.1" fill="#a2dcec" opacity="0.49" transform="rotate(5 992 156)"/><ellipse cx="473" cy="319" rx="11" ry="3.5" fill="#a2dcec" opacity="0.79" transform="rotate(-6 473 319)"/><ellipse cx="904" cy="164" rx="28" ry="5.2" fill="#a2dcec" opacity="0.39" transform="rotate(-5 904 164)"/><ellipse cx="392" cy="224" rx="27" ry="1.8" fill="#a2dcec" opacity="0.52" transform="rotate(-0 392 224)"/><ellipse cx="480" cy="231" rx="25" ry="3.4" fill="#a2dcec" opacity="0.68" transform="rotate(5 480 231)"/><ellipse cx="738" cy="304" rx="24" ry="4.4" fill="#a2dcec" opacity="0.43" transform="rotate(6 738 304)"/><ellipse cx="1077" cy="260" rx="20" ry="3.7" fill="#a2dcec" opacity="0.47" transform="rotate(-1 1077 260)"/><ellipse cx="1264" cy="314" rx="22" ry="1.5" fill="#a2dcec" opacity="0.38" transform="rotate(9 1264 314)"/><ellipse cx="972" cy="284" rx="20" ry="2.0" fill="#a2dcec" opacity="0.72" transform="rotate(-7 972 284)"/><ellipse cx="1087" cy="173" rx="12" ry="3.3" fill="#a2dcec" opacity="0.52" transform="rotate(0 1087 173)"/><ellipse cx="830" cy="312" rx="25" ry="2.5" fill="#2fabca" opacity="0.61" transform="rotate(7 830 312)"/><ellipse cx="350" cy="224" rx="14" ry="3.5" fill="#2fabca" opacity="0.38" transform="rotate(-5 350 224)"/><ellipse cx="371" cy="286" rx="18" ry="3.6" fill="#a2dcec" opacity="0.44" transform="rotate(2 371 286)"/><ellipse cx="923" cy="298" rx="11" ry="3.5" fill="#a2dcec" opacity="0.38" transform="rotate(7 923 298)"/><ellipse cx="467" cy="281" rx="12" ry="4.5" fill="#2fabca" opacity="0.38" transform="rotate(-6 467 281)"/><ellipse cx="1067" cy="196" rx="12" ry="3.1" fill="#a2dcec" opacity="0.73" transform="rotate(3 1067 196)"/><ellipse cx="444" cy="236" rx="7" ry="4.1" fill="#a2dcec" opacity="0.44" transform="rotate(-11 444 236)"/><ellipse cx="988" cy="292" rx="28" ry="1.6" fill="#2fabca" opacity="0.69" transform="rotate(-7 988 292)"/><ellipse cx="294" cy="302" rx="7" ry="3.2" fill="#a2dcec" opacity="0.61" transform="rotate(-9 294 302)"/><ellipse cx="854" cy="282" rx="15" ry="1.8" fill="#a2dcec" opacity="0.49" transform="rotate(10 854 282)"/><ellipse cx="576" cy="182" rx="18" ry="3.0" fill="#a2dcec" opacity="0.62" transform="rotate(-5 576 182)"/><ellipse cx="1277" cy="175" rx="9" ry="3.6" fill="#a2dcec" opacity="0.77" transform="rotate(5 1277 175)"/><ellipse cx="1263" cy="239" rx="24" ry="3.1" fill="#a2dcec" opacity="0.70" transform="rotate(-11 1263 239)"/><ellipse cx="1033" cy="238" rx="24" ry="3.4" fill="#a2dcec" opacity="0.66" transform="rotate(-12 1033 238)"/><ellipse cx="921" cy="309" rx="19" ry="3.1" fill="#a2dcec" opacity="0.44" transform="rotate(10 921 309)"/><ellipse cx="270" cy="313" rx="7" ry="5.1" fill="#a2dcec" opacity="0.59" transform="rotate(-5 270 313)"/><ellipse cx="1065" cy="324" rx="10" ry="3.6" fill="#a2dcec" opacity="0.70" transform="rotate(-11 1065 324)"/><ellipse cx="609" cy="189" rx="24" ry="2.3" fill="#2fabca" opacity="0.71" transform="rotate(-9 609 189)"/><ellipse cx="1325" cy="308" rx="24" ry="4.4" fill="#a2dcec" opacity="0.46" transform="rotate(-4 1325 308)"/><ellipse cx="1351" cy="295" rx="10" ry="2.5" fill="#a2dcec" opacity="0.57" transform="rotate(-6 1351 295)"/><ellipse cx="387" cy="196" rx="14" ry="2.6" fill="#a2dcec" opacity="0.63" transform="rotate(7 387 196)"/><ellipse cx="887" cy="209" rx="10" ry="1.8" fill="#2fabca" opacity="0.44" transform="rotate(3 887 209)"/><ellipse cx="632" cy="167" rx="22" ry="3.8" fill="#a2dcec" opacity="0.64" transform="rotate(10 632 167)"/><ellipse cx="652" cy="231" rx="29" ry="4.4" fill="#2fabca" opacity="0.56" transform="rotate(7 652 231)"/><ellipse cx="604" cy="181" rx="13" ry="2.5" fill="#a2dcec" opacity="0.77" transform="rotate(-10 604 181)"/><ellipse cx="1087" cy="202" rx="16" ry="5.5" fill="#a2dcec" opacity="0.64" transform="rotate(8 1087 202)"/><ellipse cx="311" cy="211" rx="8" ry="4.9" fill="#a2dcec" opacity="0.73" transform="rotate(2 311 211)"/><ellipse cx="316" cy="237" rx="26" ry="5.3" fill="#2fabca" opacity="0.37" transform="rotate(10 316 237)"/><ellipse cx="792" cy="266" rx="8" ry="5.4" fill="#a2dcec" opacity="0.60" transform="rotate(8 792 266)"/><ellipse cx="661" cy="212" rx="13" ry="2.0" fill="#a2dcec" opacity="0.61" transform="rotate(4 661 212)"/><ellipse cx="1126" cy="229" rx="17" ry="3.5" fill="#a2dcec" opacity="0.75" transform="rotate(6 1126 229)"/><ellipse cx="550" cy="192" rx="27" ry="2.5" fill="#a2dcec" opacity="0.45" transform="rotate(-0 550 192)"/><ellipse cx="398" cy="206" rx="8" ry="4.0" fill="#a2dcec" opacity="0.47" transform="rotate(9 398 206)"/><ellipse cx="1320" cy="320" rx="12" ry="4.5" fill="#a2dcec" opacity="0.40" transform="rotate(-2 1320 320)"/><ellipse cx="1240" cy="261" rx="7" ry="1.8" fill="#a2dcec" opacity="0.76" transform="rotate(7 1240 261)"/><ellipse cx="1319" cy="202" rx="11" ry="4.6" fill="#a2dcec" opacity="0.76" transform="rotate(4 1319 202)"/><ellipse cx="589" cy="322" rx="7" ry="5.3" fill="#2fabca" opacity="0.62" transform="rotate(-9 589 322)"/><ellipse cx="469" cy="159" rx="18" ry="1.8" fill="#2fabca" opacity="0.58" transform="rotate(9 469 159)"/><ellipse cx="611" cy="235" rx="19" ry="1.6" fill="#a2dcec" opacity="0.63" transform="rotate(-7 611 235)"/><ellipse cx="1198" cy="290" rx="12" ry="3.7" fill="#a2dcec" opacity="0.42" transform="rotate(4 1198 290)"/><ellipse cx="284" cy="151" rx="20" ry="3.2" fill="#a2dcec" opacity="0.41" transform="rotate(9 284 151)"/><ellipse cx="680" cy="293" rx="27" ry="2.6" fill="#a2dcec" opacity="0.53" transform="rotate(1 680 293)"/><ellipse cx="1336" cy="229" rx="10" ry="4.7" fill="#2fabca" opacity="0.77" transform="rotate(9 1336 229)"/><ellipse cx="582" cy="219" rx="12" ry="4.7" fill="#2fabca" opacity="0.51" transform="rotate(2 582 219)"/><ellipse cx="277" cy="158" rx="20" ry="2.6" fill="#a2dcec" opacity="0.41" transform="rotate(11 277 158)"/><ellipse cx="1140" cy="305" rx="14" ry="2.0" fill="#a2dcec" opacity="0.76" transform="rotate(-0 1140 305)"/><ellipse cx="481" cy="314" rx="27" ry="2.3" fill="#2fabca" opacity="0.43" transform="rotate(-9 481 314)"/><ellipse cx="469" cy="270" rx="17" ry="3.0" fill="#a2dcec" opacity="0.44" transform="rotate(7 469 270)"/><ellipse cx="1055" cy="204" rx="7" ry="2.7" fill="#a2dcec" opacity="0.37" transform="rotate(-11 1055 204)"/><ellipse cx="1051" cy="150" rx="30" ry="1.6" fill="#a2dcec" opacity="0.61" transform="rotate(9 1051 150)"/><ellipse cx="465" cy="192" rx="30" ry="4.2" fill="#a2dcec" opacity="0.69" transform="rotate(-9 465 192)"/><ellipse cx="730" cy="274" rx="13" ry="4.9" fill="#a2dcec" opacity="0.41" transform="rotate(4 730 274)"/><ellipse cx="1345" cy="266" rx="21" ry="4.2" fill="#a2dcec" opacity="0.52" transform="rotate(4 1345 266)"/><ellipse cx="340" cy="327" rx="18" ry="2.8" fill="#a2dcec" opacity="0.67" transform="rotate(7 340 327)"/><ellipse cx="613" cy="215" rx="17" ry="2.1" fill="#2fabca" opacity="0.37" transform="rotate(5 613 215)"/><ellipse cx="1173" cy="288" rx="8" ry="2.3" fill="#a2dcec" opacity="0.71" transform="rotate(4 1173 288)"/><ellipse cx="1320" cy="169" rx="26" ry="2.9" fill="#a2dcec" opacity="0.79" transform="rotate(-6 1320 169)"/><ellipse cx="1035" cy="170" rx="7" ry="3.1" fill="#a2dcec" opacity="0.69" transform="rotate(1 1035 170)"/><ellipse cx="504" cy="170" rx="17" ry="4.8" fill="#a2dcec" opacity="0.74" transform="rotate(-1 504 170)"/><ellipse cx="1174" cy="206" rx="30" ry="3.0" fill="#2fabca" opacity="0.71" transform="rotate(2 1174 206)"/><ellipse cx="650" cy="193" rx="16" ry="5.0" fill="#a2dcec" opacity="0.65" transform="rotate(-3 650 193)"/><ellipse cx="591" cy="281" rx="9" ry="1.9" fill="#a2dcec" opacity="0.77" transform="rotate(-12 591 281)"/><ellipse cx="405" cy="254" rx="15" ry="4.6" fill="#a2dcec" opacity="0.60" transform="rotate(-11 405 254)"/><ellipse cx="602" cy="199" rx="17" ry="2.4" fill="#a2dcec" opacity="0.73" transform="rotate(-1 602 199)"/><ellipse cx="690" cy="192" rx="8" ry="2.5" fill="#a2dcec" opacity="0.75" transform="rotate(7 690 192)"/><ellipse cx="1231" cy="317" rx="19" ry="2.9" fill="#a2dcec" opacity="0.73" transform="rotate(-2 1231 317)"/><ellipse cx="949" cy="189" rx="15" ry="1.6" fill="#a2dcec" opacity="0.40" transform="rotate(-1 949 189)"/><ellipse cx="1332" cy="271" rx="14" ry="1.9" fill="#a2dcec" opacity="0.65" transform="rotate(-12 1332 271)"/><ellipse cx="1357" cy="198" rx="21" ry="2.4" fill="#a2dcec" opacity="0.68" transform="rotate(10 1357 198)"/><ellipse cx="1104" cy="244" rx="25" ry="3.0" fill="#a2dcec" opacity="0.38" transform="rotate(-9 1104 244)"/><ellipse cx="679" cy="232" rx="28" ry="4.7" fill="#2fabca" opacity="0.43" transform="rotate(-11 679 232)"/><ellipse cx="862" cy="227" rx="21" ry="5.0" fill="#a2dcec" opacity="0.65" transform="rotate(-11 862 227)"/><ellipse cx="1084" cy="159" rx="27" ry="2.8" fill="#a2dcec" opacity="0.53" transform="rotate(11 1084 159)"/><ellipse cx="581" cy="287" rx="30" ry="1.9" fill="#a2dcec" opacity="0.38" transform="rotate(-9 581 287)"/><ellipse cx="539" cy="329" rx="25" ry="1.5" fill="#2fabca" opacity="0.59" transform="rotate(-12 539 329)"/><ellipse cx="925" cy="216" rx="20" ry="5.4" fill="#a2dcec" opacity="0.49" transform="rotate(1 925 216)"/><ellipse cx="1058" cy="184" rx="27" ry="3.0" fill="#a2dcec" opacity="0.79" transform="rotate(-3 1058 184)"/><ellipse cx="405" cy="257" rx="24" ry="2.9" fill="#a2dcec" opacity="0.62" transform="rotate(5 405 257)"/><ellipse cx="853" cy="271" rx="25" ry="2.2" fill="#2fabca" opacity="0.70" transform="rotate(0 853 271)"/><ellipse cx="323" cy="206" rx="21" ry="3.8" fill="#a2dcec" opacity="0.69" transform="rotate(-11 323 206)"/><ellipse cx="1267" cy="194" rx="28" ry="3.8" fill="#a2dcec" opacity="0.44" transform="rotate(-6 1267 194)"/><ellipse cx="297" cy="221" rx="18" ry="1.9" fill="#a2dcec" opacity="0.65" transform="rotate(7 297 221)"/><ellipse cx="1103" cy="160" rx="15" ry="2.8" fill="#a2dcec" opacity="0.79" transform="rotate(2 1103 160)"/><ellipse cx="960" cy="196" rx="15" ry="5.0" fill="#a2dcec" opacity="0.72" transform="rotate(2 960 196)"/><ellipse cx="300" cy="322" rx="10" ry="2.4" fill="#a2dcec" opacity="0.63" transform="rotate(2 300 322)"/><ellipse cx="800" cy="277" rx="8" ry="2.3" fill="#a2dcec" opacity="0.69" transform="rotate(0 800 277)"/><ellipse cx="493" cy="278" rx="14" ry="4.7" fill="#a2dcec" opacity="0.36" transform="rotate(7 493 278)"/><ellipse cx="394" cy="304" rx="20" ry="3.3" fill="#a2dcec" opacity="0.70" transform="rotate(-12 394 304)"/><ellipse cx="933" cy="212" rx="21" ry="1.8" fill="#a2dcec" opacity="0.54" transform="rotate(-11 933 212)"/><ellipse cx="254" cy="190" rx="19" ry="1.6" fill="#a2dcec" opacity="0.42" transform="rotate(2 254 190)"/><ellipse cx="1296" cy="184" rx="18" ry="2.0" fill="#a2dcec" opacity="0.43" transform="rotate(4 1296 184)"/><ellipse cx="839" cy="315" rx="22" ry="1.8" fill="#2fabca" opacity="0.52" transform="rotate(8 839 315)"/><ellipse cx="1328" cy="236" rx="25" ry="4.6" fill="#a2dcec" opacity="0.63" transform="rotate(7 1328 236)"/><ellipse cx="1177" cy="155" rx="19" ry="3.2" fill="#2fabca" opacity="0.39" transform="rotate(-4 1177 155)"/><ellipse cx="731" cy="248" rx="12" ry="2.3" fill="#a2dcec" opacity="0.77" transform="rotate(-4 731 248)"/><ellipse cx="898" cy="221" rx="11" ry="5.4" fill="#a2dcec" opacity="0.80" transform="rotate(10 898 221)"/><ellipse cx="793" cy="275" rx="21" ry="5.4" fill="#a2dcec" opacity="0.58" transform="rotate(9 793 275)"/><ellipse cx="695" cy="158" rx="15" ry="3.9" fill="#2fabca" opacity="0.43" transform="rotate(-6 695 158)"/><ellipse cx="564" cy="183" rx="16" ry="4.9" fill="#a2dcec" opacity="0.48" transform="rotate(11 564 183)"/><ellipse cx="761" cy="182" rx="25" ry="2.1" fill="#a2dcec" opacity="0.37" transform="rotate(1 761 182)"/><ellipse cx="1087" cy="199" rx="15" ry="4.4" fill="#a2dcec" opacity="0.70" transform="rotate(-2 1087 199)"/><ellipse cx="1293" cy="243" rx="16" ry="2.0" fill="#a2dcec" opacity="0.55" transform="rotate(7 1293 243)"/><ellipse cx="1294" cy="206" rx="15" ry="4.4" fill="#2fabca" opacity="0.77" transform="rotate(-3 1294 206)"/><ellipse cx="516" cy="265" rx="26" ry="5.0" fill="#a2dcec" opacity="0.54" transform="rotate(1 516 265)"/><ellipse cx="517" cy="162" rx="19" ry="2.5" fill="#a2dcec" opacity="0.49" transform="rotate(0 517 162)"/><ellipse cx="1270" cy="169" rx="13" ry="1.6" fill="#a2dcec" opacity="0.73" transform="rotate(8 1270 169)"/><ellipse cx="1334" cy="185" rx="9" ry="4.1" fill="#a2dcec" opacity="0.74" transform="rotate(4 1334 185)"/><ellipse cx="442" cy="225" rx="19" ry="4.5" fill="#2fabca" opacity="0.77" transform="rotate(10 442 225)"/><ellipse cx="972" cy="267" rx="16" ry="4.3" fill="#a2dcec" opacity="0.75" transform="rotate(-5 972 267)"/><ellipse cx="827" cy="211" rx="18" ry="4.2" fill="#a2dcec" opacity="0.56" transform="rotate(1 827 211)"/><ellipse cx="1004" cy="257" rx="23" ry="1.9" fill="#a2dcec" opacity="0.57" transform="rotate(8 1004 257)"/><ellipse cx="956" cy="188" rx="12" ry="2.0" fill="#a2dcec" opacity="0.47" transform="rotate(4 956 188)"/><ellipse cx="697" cy="309" rx="18" ry="4.7" fill="#a2dcec" opacity="0.76" transform="rotate(-3 697 309)"/><ellipse cx="604" cy="304" rx="21" ry="3.2" fill="#2fabca" opacity="0.45" transform="rotate(-7 604 304)"/><ellipse cx="890" cy="294" rx="16" ry="1.5" fill="#a2dcec" opacity="0.75" transform="rotate(2 890 294)"/><ellipse cx="260" cy="210" rx="30" ry="2.7" fill="#a2dcec" opacity="0.42" transform="rotate(3 260 210)"/><ellipse cx="801" cy="159" rx="30" ry="2.3" fill="#a2dcec" opacity="0.47" transform="rotate(4 801 159)"/><ellipse cx="481" cy="168" rx="27" ry="5.4" fill="#a2dcec" opacity="0.75" transform="rotate(-10 481 168)"/><ellipse cx="1314" cy="171" rx="10" ry="4.4" fill="#a2dcec" opacity="0.56" transform="rotate(7 1314 171)"/><ellipse cx="1319" cy="295" rx="11" ry="4.8" fill="#2fabca" opacity="0.69" transform="rotate(3 1319 295)"/><ellipse cx="1357" cy="226" rx="28" ry="4.6" fill="#a2dcec" opacity="0.56" transform="rotate(-4 1357 226)"/><ellipse cx="1169" cy="211" rx="9" ry="2.4" fill="#a2dcec" opacity="0.37" transform="rotate(-10 1169 211)"/><ellipse cx="1013" cy="232" rx="8" ry="1.9" fill="#a2dcec" opacity="0.72" transform="rotate(-10 1013 232)"/><ellipse cx="1274" cy="150" rx="29" ry="2.7" fill="#a2dcec" opacity="0.57" transform="rotate(-2 1274 150)"/><ellipse cx="558" cy="234" rx="18" ry="3.8" fill="#a2dcec" opacity="0.43" transform="rotate(2 558 234)"/><ellipse cx="276" cy="170" rx="14" ry="3.6" fill="#a2dcec" opacity="0.78" transform="rotate(5 276 170)"/><ellipse cx="779" cy="252" rx="14" ry="1.6" fill="#2fabca" opacity="0.58" transform="rotate(10 779 252)"/><ellipse cx="667" cy="187" rx="22" ry="5.4" fill="#a2dcec" opacity="0.60" transform="rotate(-11 667 187)"/><ellipse cx="892" cy="230" rx="15" ry="5.1" fill="#a2dcec" opacity="0.54" transform="rotate(7 892 230)"/><ellipse cx="1278" cy="180" rx="9" ry="5.4" fill="#a2dcec" opacity="0.70" transform="rotate(11 1278 180)"/><ellipse cx="1304" cy="257" rx="11" ry="4.3" fill="#a2dcec" opacity="0.64" transform="rotate(-1 1304 257)"/><ellipse cx="763" cy="249" rx="24" ry="3.2" fill="#a2dcec" opacity="0.36" transform="rotate(-10 763 249)"/><ellipse cx="954" cy="202" rx="27" ry="3.2" fill="#a2dcec" opacity="0.47" transform="rotate(5 954 202)"/><path d="M977,240 q25,-3 51,4" stroke="#b8e6f0" stroke-width="2.3" fill="none" opacity="0.81" stroke-linecap="round"/><path d="M1135,242 q8,-3 16,2" stroke="#b8e6f0" stroke-width="1.5" fill="none" opacity="0.93" stroke-linecap="round"/><path d="M842,167 q13,1 25,3" stroke="#22a2c4" stroke-width="3.0" fill="none" opacity="0.56" stroke-linecap="round"/><path d="M787,164 q14,-3 29,-2" stroke="#22a2c4" stroke-width="3.2" fill="none" opacity="0.58" stroke-linecap="round"/><path d="M1167,183 q27,-1 55,2" stroke="#b8e6f0" stroke-width="1.8" fill="none" opacity="0.87" stroke-linecap="round"/><path d="M1220,154 q30,-1 59,-0" stroke="#22a2c4" stroke-width="3.4" fill="none" opacity="0.53" stroke-linecap="round"/><path d="M1224,308 q16,4 32,-1" stroke="#b8e6f0" stroke-width="3.5" fill="none" opacity="0.57" stroke-linecap="round"/><path d="M775,151 q21,-2 41,4" stroke="#b8e6f0" stroke-width="3.3" fill="none" opacity="0.52" stroke-linecap="round"/><path d="M1168,265 q18,-0 36,-3" stroke="#b8e6f0" stroke-width="2.4" fill="none" opacity="0.91" stroke-linecap="round"/><path d="M899,157 q28,-2 56,-1" stroke="#22a2c4" stroke-width="1.7" fill="none" opacity="0.39" stroke-linecap="round"/><path d="M298,206 q10,3 20,-3" stroke="#b8e6f0" stroke-width="1.7" fill="none" opacity="0.88" stroke-linecap="round"/><path d="M1014,155 q27,-3 55,2" stroke="#b8e6f0" stroke-width="3.1" fill="none" opacity="0.82" stroke-linecap="round"/><path d="M687,186 q19,1 37,-4" stroke="#b8e6f0" stroke-width="1.3" fill="none" opacity="0.85" stroke-linecap="round"/><path d="M458,185 q25,-5 49,-1" stroke="#b8e6f0" stroke-width="2.8" fill="none" opacity="0.58" stroke-linecap="round"/><path d="M929,241 q13,2 26,-0" stroke="#22a2c4" stroke-width="2.3" fill="none" opacity="0.42" stroke-linecap="round"/><path d="M1078,308 q15,3 29,4" stroke="#b8e6f0" stroke-width="1.8" fill="none" opacity="0.80" stroke-linecap="round"/><path d="M1175,158 q17,3 34,-3" stroke="#22a2c4" stroke-width="3.0" fill="none" opacity="0.35" stroke-linecap="round"/><path d="M816,195 q22,2 43,1" stroke="#b8e6f0" stroke-width="2.2" fill="none" opacity="0.68" stroke-linecap="round"/><path d="M799,178 q23,0 45,3" stroke="#b8e6f0" stroke-width="2.6" fill="none" opacity="0.61" stroke-linecap="round"/><path d="M742,162 q13,3 27,-0" stroke="#22a2c4" stroke-width="2.2" fill="none" opacity="0.42" stroke-linecap="round"/><path d="M681,240 q23,4 47,3" stroke="#b8e6f0" stroke-width="2.3" fill="none" opacity="0.90" stroke-linecap="round"/><path d="M1087,224 q30,4 60,-3" stroke="#b8e6f0" stroke-width="3.3" fill="none" opacity="0.77" stroke-linecap="round"/><path d="M481,232 q14,-4 29,-1" stroke="#22a2c4" stroke-width="1.2" fill="none" opacity="0.38" stroke-linecap="round"/><path d="M348,221 q24,-2 48,4" stroke="#b8e6f0" stroke-width="2.4" fill="none" opacity="0.90" stroke-linecap="round"/><path d="M874,192 q18,-1 35,2" stroke="#b8e6f0" stroke-width="1.3" fill="none" opacity="0.54" stroke-linecap="round"/><path d="M1203,221 q15,-4 31,3" stroke="#b8e6f0" stroke-width="2.3" fill="none" opacity="0.62" stroke-linecap="round"/><path d="M1310,196 q28,2 55,-4" stroke="#b8e6f0" stroke-width="2.1" fill="none" opacity="0.65" stroke-linecap="round"/><path d="M916,210 q22,0 45,-3" stroke="#b8e6f0" stroke-width="2.3" fill="none" opacity="0.50" stroke-linecap="round"/><path d="M862,270 q11,0 22,3" stroke="#22a2c4" stroke-width="1.9" fill="none" opacity="0.58" stroke-linecap="round"/><path d="M1128,295 q28,-3 56,-2" stroke="#b8e6f0" stroke-width="1.4" fill="none" opacity="0.63" stroke-linecap="round"/><path d="M376,314 q11,1 23,-1" stroke="#b8e6f0" stroke-width="1.4" fill="none" opacity="0.93" stroke-linecap="round"/><path d="M978,173 q13,4 26,0" stroke="#b8e6f0" stroke-width="1.6" fill="none" opacity="0.71" stroke-linecap="round"/><path d="M892,200 q8,-3 15,2" stroke="#22a2c4" stroke-width="3.4" fill="none" opacity="0.39" stroke-linecap="round"/><path d="M1023,208 q21,-2 42,-0" stroke="#b8e6f0" stroke-width="3.2" fill="none" opacity="0.56" stroke-linecap="round"/><path d="M825,248 q24,-0 47,-1" stroke="#22a2c4" stroke-width="1.9" fill="none" opacity="0.38" stroke-linecap="round"/><path d="M782,301 q9,5 18,-0" stroke="#b8e6f0" stroke-width="2.3" fill="none" opacity="0.63" stroke-linecap="round"/><path d="M1145,213 q22,-3 45,-3" stroke="#b8e6f0" stroke-width="2.3" fill="none" opacity="0.54" stroke-linecap="round"/><path d="M271,171 q17,5 34,2" stroke="#b8e6f0" stroke-width="2.8" fill="none" opacity="0.79" stroke-linecap="round"/><path d="M1257,155 q24,-4 48,2" stroke="#b8e6f0" stroke-width="3.0" fill="none" opacity="0.79" stroke-linecap="round"/><path d="M1197,288 q27,2 55,-1" stroke="#b8e6f0" stroke-width="2.8" fill="none" opacity="0.61" stroke-linecap="round"/><path d="M464,169 q20,-3 40,1" stroke="#b8e6f0" stroke-width="3.0" fill="none" opacity="0.54" stroke-linecap="round"/><path d="M1273,163 q26,0 51,-4" stroke="#22a2c4" stroke-width="2.7" fill="none" opacity="0.38" stroke-linecap="round"/><path d="M1278,175 q22,-1 45,-0" stroke="#b8e6f0" stroke-width="1.6" fill="none" opacity="0.68" stroke-linecap="round"/><path d="M362,246 q24,-5 48,1" stroke="#22a2c4" stroke-width="1.9" fill="none" opacity="0.65" stroke-linecap="round"/><path d="M745,235 q16,-4 32,3" stroke="#22a2c4" stroke-width="1.9" fill="none" opacity="0.56" stroke-linecap="round"/><path d="M953,195 q19,-2 39,3" stroke="#b8e6f0" stroke-width="1.3" fill="none" opacity="0.87" stroke-linecap="round"/><path d="M362,166 q19,-1 38,3" stroke="#b8e6f0" stroke-width="3.0" fill="none" opacity="0.84" stroke-linecap="round"/><path d="M1110,209 q22,-1 43,-2" stroke="#b8e6f0" stroke-width="1.7" fill="none" opacity="0.64" stroke-linecap="round"/><path d="M918,247 q18,2 36,4" stroke="#b8e6f0" stroke-width="1.2" fill="none" opacity="0.54" stroke-linecap="round"/><path d="M912,241 q11,2 21,-1" stroke="#b8e6f0" stroke-width="3.5" fill="none" opacity="0.80" stroke-linecap="round"/><path d="M342,221 q14,5 28,2" stroke="#b8e6f0" stroke-width="1.9" fill="none" opacity="0.67" stroke-linecap="round"/><path d="M640,318 q15,4 31,0" stroke="#b8e6f0" stroke-width="3.5" fill="none" opacity="0.77" stroke-linecap="round"/><path d="M1126,241 q8,3 17,4" stroke="#22a2c4" stroke-width="2.7" fill="none" opacity="0.38" stroke-linecap="round"/><path d="M440,201 q18,-0 36,2" stroke="#22a2c4" stroke-width="2.0" fill="none" opacity="0.49" stroke-linecap="round"/><path d="M1194,202 q10,5 20,2" stroke="#b8e6f0" stroke-width="2.7" fill="none" opacity="0.61" stroke-linecap="round"/><path d="M835,176 q29,4 57,3" stroke="#b8e6f0" stroke-width="1.4" fill="none" opacity="0.80" stroke-linecap="round"/><path d="M1241,222 q9,3 18,2" stroke="#b8e6f0" stroke-width="2.5" fill="none" opacity="0.69" stroke-linecap="round"/><path d="M955,268 q29,3 58,1" stroke="#b8e6f0" stroke-width="3.1" fill="none" opacity="0.82" stroke-linecap="round"/><path d="M1310,309 q26,-3 52,2" stroke="#b8e6f0" stroke-width="1.8" fill="none" opacity="0.81" stroke-linecap="round"/><path d="M792,171 q29,2 59,-2" stroke="#b8e6f0" stroke-width="3.4" fill="none" opacity="0.81" stroke-linecap="round"/><path d="M1194,166 q11,-5 22,4" stroke="#22a2c4" stroke-width="3.2" fill="none" opacity="0.54" stroke-linecap="round"/><path d="M1251,221 q21,-2 41,-0" stroke="#22a2c4" stroke-width="2.9" fill="none" opacity="0.51" stroke-linecap="round"/><path d="M876,247 q18,0 35,4" stroke="#b8e6f0" stroke-width="2.1" fill="none" opacity="0.58" stroke-linecap="round"/><path d="M694,269 q16,-3 32,1" stroke="#b8e6f0" stroke-width="3.3" fill="none" opacity="0.88" stroke-linecap="round"/><path d="M481,166 q27,-3 54,-1" stroke="#b8e6f0" stroke-width="3.1" fill="none" opacity="0.65" stroke-linecap="round"/><path d="M1199,318 q15,2 30,3" stroke="#b8e6f0" stroke-width="2.0" fill="none" opacity="0.64" stroke-linecap="round"/><path d="M291,237 q16,2 32,2" stroke="#b8e6f0" stroke-width="1.4" fill="none" opacity="0.69" stroke-linecap="round"/><path d="M344,251 q16,2 32,0" stroke="#b8e6f0" stroke-width="3.4" fill="none" opacity="0.91" stroke-linecap="round"/><path d="M1040,192 q13,4 25,3" stroke="#22a2c4" stroke-width="2.9" fill="none" opacity="0.55" stroke-linecap="round"/><path d="M1265,267 q16,1 31,-1" stroke="#b8e6f0" stroke-width="2.4" fill="none" opacity="0.59" stroke-linecap="round"/><path d="M1225,193 q27,2 55,1" stroke="#b8e6f0" stroke-width="1.6" fill="none" opacity="0.71" stroke-linecap="round"/><path d="M1270,177 q29,5 59,-2" stroke="#22a2c4" stroke-width="3.2" fill="none" opacity="0.46" stroke-linecap="round"/><path d="M788,229 q29,2 59,-1" stroke="#22a2c4" stroke-width="2.7" fill="none" opacity="0.68" stroke-linecap="round"/><path d="M636,228 q13,2 26,1" stroke="#b8e6f0" stroke-width="1.3" fill="none" opacity="0.92" stroke-linecap="round"/><path d="M934,321 q13,-3 26,1" stroke="#b8e6f0" stroke-width="2.1" fill="none" opacity="0.67" stroke-linecap="round"/><path d="M737,154 q23,1 46,-4" stroke="#b8e6f0" stroke-width="1.9" fill="none" opacity="0.70" stroke-linecap="round"/><path d="M501,325 q15,-4 30,-4" stroke="#22a2c4" stroke-width="3.4" fill="none" opacity="0.43" stroke-linecap="round"/><path d="M457,275 q29,-2 58,-3" stroke="#b8e6f0" stroke-width="1.3" fill="none" opacity="0.90" stroke-linecap="round"/><path d="M416,327 q17,-4 33,3" stroke="#22a2c4" stroke-width="2.7" fill="none" opacity="0.40" stroke-linecap="round"/><path d="M1095,281 q8,-1 16,-3" stroke="#22a2c4" stroke-width="2.9" fill="none" opacity="0.44" stroke-linecap="round"/><path d="M1151,195 q23,3 47,-2" stroke="#b8e6f0" stroke-width="2.7" fill="none" opacity="0.61" stroke-linecap="round"/><path d="M715,308 q14,-5 29,2" stroke="#b8e6f0" stroke-width="3.5" fill="none" opacity="0.62" stroke-linecap="round"/><path d="M646,306 q26,2 53,0" stroke="#22a2c4" stroke-width="1.8" fill="none" opacity="0.60" stroke-linecap="round"/><path d="M667,308 q21,-1 41,-0" stroke="#b8e6f0" stroke-width="2.8" fill="none" opacity="0.84" stroke-linecap="round"/><path d="M812,282 q21,3 42,0" stroke="#22a2c4" stroke-width="2.6" fill="none" opacity="0.47" stroke-linecap="round"/><path d="M240,210 q29,-4 58,1" stroke="#b8e6f0" stroke-width="1.9" fill="none" opacity="0.83" stroke-linecap="round"/><path d="M804,237 q29,2 57,-0" stroke="#22a2c4" stroke-width="2.0" fill="none" opacity="0.63" stroke-linecap="round"/><path d="M646,263 q20,-1 40,1" stroke="#b8e6f0" stroke-width="2.1" fill="none" opacity="0.64" stroke-linecap="round"/><path d="M1211,175 q28,-4 55,-3" stroke="#b8e6f0" stroke-width="2.8" fill="none" opacity="0.77" stroke-linecap="round"/><path d="M393,284 q9,-3 19,-3" stroke="#b8e6f0" stroke-width="1.5" fill="none" opacity="0.58" stroke-linecap="round"/><path d="M986,205 q14,4 28,1" stroke="#22a2c4" stroke-width="2.4" fill="none" opacity="0.40" stroke-linecap="round"/><path d="M617,152 q11,-5 21,-3" stroke="#b8e6f0" stroke-width="2.6" fill="none" opacity="0.94" stroke-linecap="round"/><path d="M884,216 q28,-4 56,-1" stroke="#b8e6f0" stroke-width="2.4" fill="none" opacity="0.64" stroke-linecap="round"/><path d="M1263,292 q25,4 50,4" stroke="#b8e6f0" stroke-width="3.0" fill="none" opacity="0.56" stroke-linecap="round"/><path d="M269,294 q8,-3 16,-1" stroke="#b8e6f0" stroke-width="2.0" fill="none" opacity="0.75" stroke-linecap="round"/><path d="M538,317 q27,3 54,3" stroke="#b8e6f0" stroke-width="2.0" fill="none" opacity="0.81" stroke-linecap="round"/><path d="M871,170 q26,-4 51,1" stroke="#b8e6f0" stroke-width="1.7" fill="none" opacity="0.57" stroke-linecap="round"/><path d="M676,316 q15,-3 30,-1" stroke="#22a2c4" stroke-width="3.4" fill="none" opacity="0.48" stroke-linecap="round"/><path d="M671,253 q15,-2 29,-3" stroke="#22a2c4" stroke-width="2.6" fill="none" opacity="0.51" stroke-linecap="round"/><path d="M823,287 q11,2 21,-2" stroke="#b8e6f0" stroke-width="3.3" fill="none" opacity="0.65" stroke-linecap="round"/><path d="M842,175 q26,-2 53,4" stroke="#b8e6f0" stroke-width="2.9" fill="none" opacity="0.86" stroke-linecap="round"/><path d="M554,226 q28,2 56,-4" stroke="#b8e6f0" stroke-width="2.7" fill="none" opacity="0.68" stroke-linecap="round"/><path d="M714,326 q25,4 50,4" stroke="#22a2c4" stroke-width="2.9" fill="none" opacity="0.69" stroke-linecap="round"/><path d="M308,207 q18,-1 36,-3" stroke="#b8e6f0" stroke-width="3.3" fill="none" opacity="0.56" stroke-linecap="round"/><path d="M1113,321 q9,1 18,1" stroke="#22a2c4" stroke-width="1.5" fill="none" opacity="0.67" stroke-linecap="round"/><path d="M1294,292 q23,-0 46,-3" stroke="#b8e6f0" stroke-width="1.5" fill="none" opacity="0.85" stroke-linecap="round"/><path d="M871,196 q28,1 56,-4" stroke="#b8e6f0" stroke-width="3.2" fill="none" opacity="0.52" stroke-linecap="round"/><path d="M1314,314 q27,1 55,-1" stroke="#22a2c4" stroke-width="1.3" fill="none" opacity="0.38" stroke-linecap="round"/><path d="M1303,216 q8,4 16,-1" stroke="#b8e6f0" stroke-width="1.8" fill="none" opacity="0.66" stroke-linecap="round"/><path d="M1122,278 q20,4 41,2" stroke="#b8e6f0" stroke-width="2.3" fill="none" opacity="0.75" stroke-linecap="round"/><path d="M829,237 q21,-3 43,2" stroke="#b8e6f0" stroke-width="3.3" fill="none" opacity="0.61" stroke-linecap="round"/><path d="M831,272 q11,0 23,2" stroke="#b8e6f0" stroke-width="3.3" fill="none" opacity="0.81" stroke-linecap="round"/><path d="M1008,302 q18,2 36,-1" stroke="#22a2c4" stroke-width="2.5" fill="none" opacity="0.65" stroke-linecap="round"/><path d="M822,287 q13,0 27,0" stroke="#b8e6f0" stroke-width="3.1" fill="none" opacity="0.87" stroke-linecap="round"/><path d="M1042,263 q28,1 55,-3" stroke="#b8e6f0" stroke-width="1.8" fill="none" opacity="0.76" stroke-linecap="round"/><path d="M410,321 q20,4 40,-1" stroke="#22a2c4" stroke-width="3.1" fill="none" opacity="0.50" stroke-linecap="round"/><path d="M655,185 q9,-3 18,-0" stroke="#b8e6f0" stroke-width="3.2" fill="none" opacity="0.52" stroke-linecap="round"/><path d="M1305,200 q21,3 42,-3" stroke="#22a2c4" stroke-width="1.3" fill="none" opacity="0.58" stroke-linecap="round"/><path d="M641,281 q27,1 54,2" stroke="#b8e6f0" stroke-width="1.4" fill="none" opacity="0.68" stroke-linecap="round"/><path d="M656,279 q24,3 47,3" stroke="#b8e6f0" stroke-width="1.4" fill="none" opacity="0.68" stroke-linecap="round"/><path d="M651,316 q18,-1 35,2" stroke="#b8e6f0" stroke-width="1.8" fill="none" opacity="0.86" stroke-linecap="round"/><path d="M906,202 q24,2 48,1" stroke="#b8e6f0" stroke-width="3.4" fill="none" opacity="0.69" stroke-linecap="round"/><path d="M648,164 q16,3 32,-1" stroke="#22a2c4" stroke-width="2.6" fill="none" opacity="0.66" stroke-linecap="round"/><path d="M688,171 q8,-3 15,-3" stroke="#22a2c4" stroke-width="3.4" fill="none" opacity="0.37" stroke-linecap="round"/><path d="M483,283 q19,-3 37,1" stroke="#b8e6f0" stroke-width="1.6" fill="none" opacity="0.75" stroke-linecap="round"/><path d="M370,327 q19,1 38,-4" stroke="#b8e6f0" stroke-width="1.7" fill="none" opacity="0.52" stroke-linecap="round"/><path d="M770,169 q20,4 39,0" stroke="#22a2c4" stroke-width="2.7" fill="none" opacity="0.56" stroke-linecap="round"/><path d="M370,170 q27,2 54,1" stroke="#b8e6f0" stroke-width="3.0" fill="none" opacity="0.74" stroke-linecap="round"/><path d="M344,248 q8,1 17,0" stroke="#22a2c4" stroke-width="2.6" fill="none" opacity="0.69" stroke-linecap="round"/><path d="M1356,316 q15,-1 29,0" stroke="#b8e6f0" stroke-width="1.8" fill="none" opacity="0.70" stroke-linecap="round"/><path d="M1012,318 q27,1 55,-3" stroke="#22a2c4" stroke-width="2.3" fill="none" opacity="0.49" stroke-linecap="round"/><path d="M512,190 q14,-2 27,-0" stroke="#b8e6f0" stroke-width="1.8" fill="none" opacity="0.69" stroke-linecap="round"/><path d="M511,311 q26,1 52,4" stroke="#b8e6f0" stroke-width="2.1" fill="none" opacity="0.68" stroke-linecap="round"/><path d="M1031,270 q22,1 44,0" stroke="#b8e6f0" stroke-width="1.3" fill="none" opacity="0.84" stroke-linecap="round"/><path d="M708,273 q13,1 25,1" stroke="#b8e6f0" stroke-width="2.2" fill="none" opacity="0.88" stroke-linecap="round"/><path d="M1270,263 q13,-1 27,-1" stroke="#b8e6f0" stroke-width="1.3" fill="none" opacity="0.70" stroke-linecap="round"/><path d="M1316,233 q14,3 28,2" stroke="#b8e6f0" stroke-width="3.1" fill="none" opacity="0.85" stroke-linecap="round"/><path d="M986,178 q13,-3 26,1" stroke="#b8e6f0" stroke-width="2.8" fill="none" opacity="0.70" stroke-linecap="round"/><path d="M1029,163 q12,-5 24,4" stroke="#b8e6f0" stroke-width="1.8" fill="none" opacity="0.67" stroke-linecap="round"/><path d="M768,281 q14,0 28,-2" stroke="#b8e6f0" stroke-width="2.8" fill="none" opacity="0.63" stroke-linecap="round"/><path d="M368,258 q20,2 41,-4" stroke="#b8e6f0" stroke-width="1.5" fill="none" opacity="0.76" stroke-linecap="round"/><path d="M525,189 q10,-4 19,2" stroke="#b8e6f0" stroke-width="3.0" fill="none" opacity="0.82" stroke-linecap="round"/><path d="M399,321 q27,1 54,3" stroke="#b8e6f0" stroke-width="2.0" fill="none" opacity="0.69" stroke-linecap="round"/><path d="M1299,170 q9,1 18,-2" stroke="#b8e6f0" stroke-width="2.9" fill="none" opacity="0.72" stroke-linecap="round"/><path d="M960,208 q28,-3 56,-2" stroke="#22a2c4" stroke-width="1.2" fill="none" opacity="0.54" stroke-linecap="round"/><path d="M789,264 q14,5 27,2" stroke="#b8e6f0" stroke-width="3.5" fill="none" opacity="0.56" stroke-linecap="round"/><path d="M884,180 q19,1 38,-3" stroke="#b8e6f0" stroke-width="1.5" fill="none" opacity="0.71" stroke-linecap="round"/><path d="M655,302 q9,4 18,-0" stroke="#22a2c4" stroke-width="1.3" fill="none" opacity="0.59" stroke-linecap="round"/><path d="M298,198 q22,1 43,2" stroke="#b8e6f0" stroke-width="3.4" fill="none" opacity="0.72" stroke-linecap="round"/><path d="M808,187 q8,-2 15,1" stroke="#b8e6f0" stroke-width="3.0" fill="none" opacity="0.63" stroke-linecap="round"/><path d="M361,290 q12,4 25,1" stroke="#b8e6f0" stroke-width="1.3" fill="none" opacity="0.71" stroke-linecap="round"/><path d="M549,155 q16,4 32,-1" stroke="#b8e6f0" stroke-width="3.5" fill="none" opacity="0.50" stroke-linecap="round"/><path d="M274,150 q19,2 39,4" stroke="#22a2c4" stroke-width="3.4" fill="none" opacity="0.40" stroke-linecap="round"/><path d="M1354,298 q29,2 59,-4" stroke="#b8e6f0" stroke-width="3.3" fill="none" opacity="0.80" stroke-linecap="round"/><path d="M245,287 q17,-4 35,4" stroke="#b8e6f0" stroke-width="2.6" fill="none" opacity="0.92" stroke-linecap="round"/><path d="M1141,218 q11,-4 21,4" stroke="#22a2c4" stroke-width="2.6" fill="none" opacity="0.39" stroke-linecap="round"/><path d="M571,280 q10,3 20,-3" stroke="#22a2c4" stroke-width="1.7" fill="none" opacity="0.69" stroke-linecap="round"/><path d="M478,235 q26,-1 52,3" stroke="#b8e6f0" stroke-width="1.7" fill="none" opacity="0.90" stroke-linecap="round"/><path d="M1130,229 q17,-2 35,-0" stroke="#b8e6f0" stroke-width="1.7" fill="none" opacity="0.77" stroke-linecap="round"/><path d="M1058,223 q10,1 21,0" stroke="#b8e6f0" stroke-width="2.6" fill="none" opacity="0.70" stroke-linecap="round"/><path d="M947,258 q11,5 22,2" stroke="#b8e6f0" stroke-width="3.0" fill="none" opacity="0.65" stroke-linecap="round"/><path d="M388,315 q22,3 44,2" stroke="#b8e6f0" stroke-width="1.7" fill="none" opacity="0.77" stroke-linecap="round"/><path d="M289,307 q26,-3 52,-2" stroke="#22a2c4" stroke-width="1.7" fill="none" opacity="0.45" stroke-linecap="round"/><path d="M1319,151 q25,-3 51,3" stroke="#b8e6f0" stroke-width="1.7" fill="none" opacity="0.93" stroke-linecap="round"/><path d="M1148,264 q23,-5 46,2" stroke="#22a2c4" stroke-width="1.6" fill="none" opacity="0.47" stroke-linecap="round"/><path d="M429,262 q10,-0 21,2" stroke="#22a2c4" stroke-width="2.4" fill="none" opacity="0.53" stroke-linecap="round"/><path d="M634,295 q16,-1 31,1" stroke="#22a2c4" stroke-width="2.1" fill="none" opacity="0.35" stroke-linecap="round"/><path d="M1345,301 q8,-1 17,2" stroke="#b8e6f0" stroke-width="1.7" fill="none" opacity="0.62" stroke-linecap="round"/><path d="M693,307 q12,-1 23,-1" stroke="#22a2c4" stroke-width="2.9" fill="none" opacity="0.62" stroke-linecap="round"/><path d="M507,228 q11,5 23,-4" stroke="#b8e6f0" stroke-width="1.6" fill="none" opacity="0.63" stroke-linecap="round"/><path d="M632,275 q23,4 45,0" stroke="#b8e6f0" stroke-width="2.7" fill="none" opacity="0.67" stroke-linecap="round"/><path d="M861,252 q14,-2 29,-4" stroke="#b8e6f0" stroke-width="1.9" fill="none" opacity="0.59" stroke-linecap="round"/><path d="M1337,298 q8,-3 15,-0" stroke="#b8e6f0" stroke-width="1.8" fill="none" opacity="0.64" stroke-linecap="round"/><path d="M1235,244 q10,2 21,-3" stroke="#b8e6f0" stroke-width="2.6" fill="none" opacity="0.95" stroke-linecap="round"/><path d="M415,218 q18,-2 36,-3" stroke="#b8e6f0" stroke-width="2.6" fill="none" opacity="0.83" stroke-linecap="round"/><path d="M820,320 q15,-5 30,2" stroke="#b8e6f0" stroke-width="1.5" fill="none" opacity="0.92" stroke-linecap="round"/><path d="M1123,161 q24,1 47,-4" stroke="#b8e6f0" stroke-width="3.3" fill="none" opacity="0.55" stroke-linecap="round"/><path d="M574,246 q16,5 32,2" stroke="#b8e6f0" stroke-width="1.6" fill="none" opacity="0.50" stroke-linecap="round"/><path d="M755,213 q19,-4 38,3" stroke="#b8e6f0" stroke-width="2.7" fill="none" opacity="0.94" stroke-linecap="round"/><path d="M362,311 q16,-1 32,-3" stroke="#b8e6f0" stroke-width="1.4" fill="none" opacity="0.92" stroke-linecap="round"/><path d="M885,269 q23,-4 46,-1" stroke="#b8e6f0" stroke-width="1.8" fill="none" opacity="0.69" stroke-linecap="round"/><path d="M717,220 q24,-1 48,-2" stroke="#b8e6f0" stroke-width="2.6" fill="none" opacity="0.73" stroke-linecap="round"/><path d="M863,292 q25,-3 50,-2" stroke="#b8e6f0" stroke-width="1.3" fill="none" opacity="0.81" stroke-linecap="round"/><path d="M1344,229 q29,2 59,-2" stroke="#b8e6f0" stroke-width="2.0" fill="none" opacity="0.52" stroke-linecap="round"/><path d="M614,277 q15,1 31,1" stroke="#b8e6f0" stroke-width="1.2" fill="none" opacity="0.90" stroke-linecap="round"/><path d="M872,241 q8,-3 16,-3" stroke="#b8e6f0" stroke-width="2.4" fill="none" opacity="0.83" stroke-linecap="round"/><path d="M861,284 q28,0 55,3" stroke="#b8e6f0" stroke-width="1.3" fill="none" opacity="0.74" stroke-linecap="round"/><path d="M415,203 q28,2 56,4" stroke="#22a2c4" stroke-width="1.2" fill="none" opacity="0.53" stroke-linecap="round"/><path d="M610,227 q14,4 28,-4" stroke="#b8e6f0" stroke-width="1.6" fill="none" opacity="0.80" stroke-linecap="round"/><path d="M1273,282 q14,4 27,-1" stroke="#22a2c4" stroke-width="1.5" fill="none" opacity="0.65" stroke-linecap="round"/><path d="M1140,190 q28,5 56,3" stroke="#22a2c4" stroke-width="2.2" fill="none" opacity="0.43" stroke-linecap="round"/><path d="M819,293 q22,-4 43,-0" stroke="#b8e6f0" stroke-width="3.0" fill="none" opacity="0.64" stroke-linecap="round"/><path d="M421,198 q25,-0 49,-1" stroke="#b8e6f0" stroke-width="3.5" fill="none" opacity="0.94" stroke-linecap="round"/><path d="M439,180 q9,3 18,-3" stroke="#b8e6f0" stroke-width="3.2" fill="none" opacity="0.87" stroke-linecap="round"/><path d="M558,223 q11,-2 21,-1" stroke="#b8e6f0" stroke-width="1.9" fill="none" opacity="0.63" stroke-linecap="round"/><path d="M362,232 q11,1 23,2" stroke="#b8e6f0" stroke-width="1.2" fill="none" opacity="0.56" stroke-linecap="round"/><path d="M1157,161 q29,-4 58,1" stroke="#22a2c4" stroke-width="1.4" fill="none" opacity="0.54" stroke-linecap="round"/><path d="M852,268 q21,4 41,4" stroke="#b8e6f0" stroke-width="2.0" fill="none" opacity="0.93" stroke-linecap="round"/><path d="M670,211 q9,-4 18,-1" stroke="#b8e6f0" stroke-width="2.6" fill="none" opacity="0.55" stroke-linecap="round"/><path d="M299,210 q20,-1 39,3" stroke="#22a2c4" stroke-width="1.8" fill="none" opacity="0.47" stroke-linecap="round"/><path d="M985,198 q11,-1 22,-1" stroke="#b8e6f0" stroke-width="2.0" fill="none" opacity="0.79" stroke-linecap="round"/><path d="M980,233 q21,1 43,2" stroke="#b8e6f0" stroke-width="3.2" fill="none" opacity="0.63" stroke-linecap="round"/><path d="M656,208 q17,-5 33,-2" stroke="#b8e6f0" stroke-width="1.9" fill="none" opacity="0.90" stroke-linecap="round"/><path d="M949,168 q12,3 25,1" stroke="#b8e6f0" stroke-width="1.7" fill="none" opacity="0.93" stroke-linecap="round"/><path d="M1166,320 q23,2 46,3" stroke="#b8e6f0" stroke-width="2.8" fill="none" opacity="0.71" stroke-linecap="round"/><path d="M388,200 q18,1 37,-4" stroke="#b8e6f0" stroke-width="3.4" fill="none" opacity="0.69" stroke-linecap="round"/><path d="M971,170 q19,4 39,-1" stroke="#b8e6f0" stroke-width="1.5" fill="none" opacity="0.76" stroke-linecap="round"/><path d="M1116,257 q18,4 35,-4" stroke="#b8e6f0" stroke-width="2.9" fill="none" opacity="0.55" stroke-linecap="round"/><path d="M900,305 q22,2 44,-1" stroke="#b8e6f0" stroke-width="3.1" fill="none" opacity="0.86" stroke-linecap="round"/><path d="M818,267 q23,4 46,4" stroke="#22a2c4" stroke-width="2.8" fill="none" opacity="0.55" stroke-linecap="round"/><path d="M288,201 q27,4 55,4" stroke="#b8e6f0" stroke-width="2.1" fill="none" opacity="0.55" stroke-linecap="round"/><path d="M584,195 q15,0 31,1" stroke="#22a2c4" stroke-width="3.5" fill="none" opacity="0.56" stroke-linecap="round"/><path d="M1013,210 q18,-1 37,-1" stroke="#b8e6f0" stroke-width="3.4" fill="none" opacity="0.52" stroke-linecap="round"/><path d="M465,330 q27,0 54,-1" stroke="#b8e6f0" stroke-width="3.2" fill="none" opacity="0.58" stroke-linecap="round"/><path d="M1211,252 q30,4 60,1" stroke="#22a2c4" stroke-width="1.6" fill="none" opacity="0.62" stroke-linecap="round"/><path d="M749,183 q25,-1 51,-0" stroke="#b8e6f0" stroke-width="2.8" fill="none" opacity="0.65" stroke-linecap="round"/><path d="M1330,152 q19,-1 38,-1" stroke="#b8e6f0" stroke-width="1.7" fill="none" opacity="0.88" stroke-linecap="round"/><path d="M984,205 q29,-4 58,-1" stroke="#22a2c4" stroke-width="2.7" fill="none" opacity="0.67" stroke-linecap="round"/><path d="M644,169 q8,1 17,3" stroke="#22a2c4" stroke-width="3.1" fill="none" opacity="0.67" stroke-linecap="round"/><path d="M610,215 q18,3 36,2" stroke="#b8e6f0" stroke-width="2.4" fill="none" opacity="0.86" stroke-linecap="round"/><path d="M942,301 q8,-1 16,3" stroke="#22a2c4" stroke-width="2.0" fill="none" opacity="0.60" stroke-linecap="round"/><path d="M994,188 q10,1 20,1" stroke="#22a2c4" stroke-width="2.3" fill="none" opacity="0.37" stroke-linecap="round"/><path d="M1217,298 q27,1 55,0" stroke="#b8e6f0" stroke-width="2.7" fill="none" opacity="0.52" stroke-linecap="round"/><path d="M895,316 q13,0 27,4" stroke="#b8e6f0" stroke-width="2.9" fill="none" opacity="0.74" stroke-linecap="round"/><path d="M1325,163 q30,0 60,3" stroke="#b8e6f0" stroke-width="2.3" fill="none" opacity="0.83" stroke-linecap="round"/><path d="M683,168 q15,-0 30,3" stroke="#b8e6f0" stroke-width="3.0" fill="none" opacity="0.81" stroke-linecap="round"/><path d="M515,277 q26,-4 52,1" stroke="#b8e6f0" stroke-width="1.8" fill="none" opacity="0.84" stroke-linecap="round"/><path d="M275,325 q14,-2 28,-3" stroke="#22a2c4" stroke-width="3.2" fill="none" opacity="0.43" stroke-linecap="round"/><path d="M546,197 q17,-4 35,4" stroke="#b8e6f0" stroke-width="2.0" fill="none" opacity="0.57" stroke-linecap="round"/><path d="M1008,311 q19,-2 38,3" stroke="#b8e6f0" stroke-width="2.0" fill="none" opacity="0.84" stroke-linecap="round"/><path d="M504,175 q19,3 38,0" stroke="#22a2c4" stroke-width="1.3" fill="none" opacity="0.62" stroke-linecap="round"/><path d="M1289,300 q21,-1 42,-2" stroke="#22a2c4" stroke-width="2.9" fill="none" opacity="0.36" stroke-linecap="round"/><path d="M629,207 q22,4 44,-4" stroke="#b8e6f0" stroke-width="3.4" fill="none" opacity="0.61" stroke-linecap="round"/><path d="M568,255 q20,4 39,-1" stroke="#b8e6f0" stroke-width="2.7" fill="none" opacity="0.50" stroke-linecap="round"/><path d="M542,300 q24,-1 48,3" stroke="#b8e6f0" stroke-width="2.6" fill="none" opacity="0.84" stroke-linecap="round"/><path d="M1256,314 q11,3 23,2" stroke="#b8e6f0" stroke-width="2.5" fill="none" opacity="0.61" stroke-linecap="round"/><path d="M673,198 q15,-1 30,2" stroke="#b8e6f0" stroke-width="3.0" fill="none" opacity="0.90" stroke-linecap="round"/><path d="M771,329 q14,3 27,-1" stroke="#b8e6f0" stroke-width="2.3" fill="none" opacity="0.53" stroke-linecap="round"/><path d="M1338,176 q17,1 33,0" stroke="#b8e6f0" stroke-width="2.1" fill="none" opacity="0.64" stroke-linecap="round"/><path d="M1002,263 q9,1 17,-3" stroke="#22a2c4" stroke-width="1.7" fill="none" opacity="0.54" stroke-linecap="round"/><path d="M780,228 q15,0 30,-2" stroke="#b8e6f0" stroke-width="3.2" fill="none" opacity="0.79" stroke-linecap="round"/><path d="M872,282 q13,4 26,-3" stroke="#b8e6f0" stroke-width="3.1" fill="none" opacity="0.61" stroke-linecap="round"/><path d="M913,306 q21,-3 43,3" stroke="#b8e6f0" stroke-width="1.5" fill="none" opacity="0.74" stroke-linecap="round"/><path d="M448,235 q25,-3 50,-1" stroke="#22a2c4" stroke-width="1.5" fill="none" opacity="0.38" stroke-linecap="round"/><path d="M998,194 q24,5 49,1" stroke="#b8e6f0" stroke-width="2.4" fill="none" opacity="0.79" stroke-linecap="round"/><path d="M1100,270 q24,2 48,2" stroke="#22a2c4" stroke-width="2.4" fill="none" opacity="0.36" stroke-linecap="round"/><path d="M1360,246 q24,-0 49,2" stroke="#b8e6f0" stroke-width="2.3" fill="none" opacity="0.61" stroke-linecap="round"/><path d="M1250,243 q24,-3 48,-3" stroke="#22a2c4" stroke-width="1.5" fill="none" opacity="0.45" stroke-linecap="round"/><path d="M286,283 q27,-4 54,-3" stroke="#b8e6f0" stroke-width="2.2" fill="none" opacity="0.91" stroke-linecap="round"/><path d="M1210,307 q11,5 22,2" stroke="#b8e6f0" stroke-width="1.8" fill="none" opacity="0.86" stroke-linecap="round"/><path d="M931,292 q10,4 19,1" stroke="#b8e6f0" stroke-width="2.3" fill="none" opacity="0.77" stroke-linecap="round"/><path d="M959,317 q30,-2 60,1" stroke="#22a2c4" stroke-width="1.5" fill="none" opacity="0.54" stroke-linecap="round"/><path d="M546,169 q13,-4 26,-0" stroke="#22a2c4" stroke-width="3.3" fill="none" opacity="0.66" stroke-linecap="round"/><path d="M1057,265 q22,-4 44,-2" stroke="#b8e6f0" stroke-width="1.5" fill="none" opacity="0.54" stroke-linecap="round"/><path d="M1024,170 q23,2 46,-3" stroke="#b8e6f0" stroke-width="2.5" fill="none" opacity="0.85" stroke-linecap="round"/><path d="M752,283 q8,3 17,4" stroke="#b8e6f0" stroke-width="1.9" fill="none" opacity="0.54" stroke-linecap="round"/><path d="M839,216 q24,3 48,3" stroke="#22a2c4" stroke-width="2.4" fill="none" opacity="0.64" stroke-linecap="round"/><path d="M905,181 q10,2 19,-2" stroke="#22a2c4" stroke-width="2.8" fill="none" opacity="0.67" stroke-linecap="round"/><path d="M403,204 q12,2 23,-1" stroke="#22a2c4" stroke-width="3.2" fill="none" opacity="0.35" stroke-linecap="round"/><path d="M1068,191 q11,-4 22,-1" stroke="#b8e6f0" stroke-width="1.9" fill="none" opacity="0.50" stroke-linecap="round"/><path d="M1163,150 q16,-4 31,3" stroke="#b8e6f0" stroke-width="2.4" fill="none" opacity="0.85" stroke-linecap="round"/><path d="M260,168 q24,1 49,2" stroke="#b8e6f0" stroke-width="2.2" fill="none" opacity="0.64" stroke-linecap="round"/><path d="M766,269 q13,2 25,3" stroke="#b8e6f0" stroke-width="2.4" fill="none" opacity="0.85" stroke-linecap="round"/><path d="M343,325 q15,-4 29,-4" stroke="#b8e6f0" stroke-width="2.2" fill="none" opacity="0.88" stroke-linecap="round"/><path d="M1180,267 q16,-0 32,4" stroke="#b8e6f0" stroke-width="2.3" fill="none" opacity="0.57" stroke-linecap="round"/><path d="M841,241 q12,-1 24,-2" stroke="#22a2c4" stroke-width="1.6" fill="none" opacity="0.69" stroke-linecap="round"/><path d="M482,219 q29,-2 58,-4" stroke="#22a2c4" stroke-width="2.1" fill="none" opacity="0.58" stroke-linecap="round"/><path d="M555,243 q14,-1 28,-3" stroke="#b8e6f0" stroke-width="1.3" fill="none" opacity="0.54" stroke-linecap="round"/><path d="M865,189 q9,4 17,-1" stroke="#b8e6f0" stroke-width="2.6" fill="none" opacity="0.86" stroke-linecap="round"/><path d="M436,216 q27,5 54,4" stroke="#b8e6f0" stroke-width="2.9" fill="none" opacity="0.61" stroke-linecap="round"/><path d="M766,193 q12,-3 23,-3" stroke="#22a2c4" stroke-width="2.3" fill="none" opacity="0.52" stroke-linecap="round"/><path d="M687,309 q13,-5 25,-2" stroke="#22a2c4" stroke-width="2.6" fill="none" opacity="0.50" stroke-linecap="round"/><path d="M571,162 q23,1 46,-1" stroke="#b8e6f0" stroke-width="2.1" fill="none" opacity="0.87" stroke-linecap="round"/><path d="M648,221 q14,4 28,1" stroke="#b8e6f0" stroke-width="2.3" fill="none" opacity="0.81" stroke-linecap="round"/><path d="M983,280 q26,-3 51,-3" stroke="#22a2c4" stroke-width="1.4" fill="none" opacity="0.62" stroke-linecap="round"/><path d="M740,217 q17,-1 34,0" stroke="#b8e6f0" stroke-width="2.4" fill="none" opacity="0.78" stroke-linecap="round"/><path d="M898,180 q27,5 53,-3" stroke="#b8e6f0" stroke-width="2.0" fill="none" opacity="0.56" stroke-linecap="round"/><path d="M1000,169 q27,-5 54,-1" stroke="#b8e6f0" stroke-width="3.3" fill="none" opacity="0.88" stroke-linecap="round"/><path d="M1196,244 q28,5 57,3" stroke="#b8e6f0" stroke-width="2.1" fill="none" opacity="0.94" stroke-linecap="round"/><path d="M1217,190 q12,1 23,-4" stroke="#b8e6f0" stroke-width="2.3" fill="none" opacity="0.90" stroke-linecap="round"/><path d="M639,268 q15,-5 30,0" stroke="#b8e6f0" stroke-width="1.9" fill="none" opacity="0.58" stroke-linecap="round"/><path d="M683,317 q23,-2 47,-2" stroke="#b8e6f0" stroke-width="1.3" fill="none" opacity="0.81" stroke-linecap="round"/><path d="M551,229 q18,-1 35,-3" stroke="#b8e6f0" stroke-width="3.3" fill="none" opacity="0.62" stroke-linecap="round"/><path d="M1322,323 q23,2 47,-2" stroke="#22a2c4" stroke-width="2.9" fill="none" opacity="0.60" stroke-linecap="round"/><path d="M263,305 q26,0 51,2" stroke="#b8e6f0" stroke-width="2.5" fill="none" opacity="0.74" stroke-linecap="round"/><path d="M834,327 q21,-2 43,-1" stroke="#22a2c4" stroke-width="2.2" fill="none" opacity="0.39" stroke-linecap="round"/><path d="M1245,253 q11,0 21,3" stroke="#b8e6f0" stroke-width="2.5" fill="none" opacity="0.64" stroke-linecap="round"/><path d="M1280,187 q8,-0 15,3" stroke="#b8e6f0" stroke-width="1.6" fill="none" opacity="0.64" stroke-linecap="round"/><path d="M1066,190 q16,-3 31,-3" stroke="#22a2c4" stroke-width="1.4" fill="none" opacity="0.39" stroke-linecap="round"/><path d="M939,252 q11,-2 22,-4" stroke="#22a2c4" stroke-width="2.5" fill="none" opacity="0.38" stroke-linecap="round"/><path d="M785,322 q23,3 46,-3" stroke="#22a2c4" stroke-width="2.3" fill="none" opacity="0.46" stroke-linecap="round"/><path d="M274,307 q29,3 58,-0" stroke="#22a2c4" stroke-width="3.3" fill="none" opacity="0.49" stroke-linecap="round"/><path d="M467,163 q14,-1 29,-4" stroke="#b8e6f0" stroke-width="2.2" fill="none" opacity="0.69" stroke-linecap="round"/><path d="M393,153 q14,-2 27,-3" stroke="#22a2c4" stroke-width="2.3" fill="none" opacity="0.41" stroke-linecap="round"/><path d="M1265,196 q27,2 54,-3" stroke="#b8e6f0" stroke-width="1.9" fill="none" opacity="0.94" stroke-linecap="round"/><path d="M556,286 q28,2 57,2" stroke="#b8e6f0" stroke-width="2.5" fill="none" opacity="0.69" stroke-linecap="round"/><path d="M1093,207 q9,3 17,3" stroke="#22a2c4" stroke-width="1.3" fill="none" opacity="0.46" stroke-linecap="round"/><path d="M956,298 q23,0 47,-2" stroke="#b8e6f0" stroke-width="2.2" fill="none" opacity="0.68" stroke-linecap="round"/><path d="M1227,225 q15,-1 29,3" stroke="#b8e6f0" stroke-width="2.7" fill="none" opacity="0.72" stroke-linecap="round"/><path d="M851,293 q30,-4 59,-3" stroke="#b8e6f0" stroke-width="2.3" fill="none" opacity="0.52" stroke-linecap="round"/><path d="M1070,198 q16,-2 32,-1" stroke="#b8e6f0" stroke-width="1.5" fill="none" opacity="0.54" stroke-linecap="round"/><path d="M1192,262 q20,5 39,1" stroke="#b8e6f0" stroke-width="2.0" fill="none" opacity="0.85" stroke-linecap="round"/><path d="M535,314 q26,3 53,1" stroke="#b8e6f0" stroke-width="1.7" fill="none" opacity="0.64" stroke-linecap="round"/><path d="M946,252 q23,-1 46,1" stroke="#22a2c4" stroke-width="1.6" fill="none" opacity="0.59" stroke-linecap="round"/><path d="M1253,303 q19,-4 37,0" stroke="#b8e6f0" stroke-width="2.1" fill="none" opacity="0.83" stroke-linecap="round"/><path d="M1049,237 q26,0 52,-4" stroke="#b8e6f0" stroke-width="2.7" fill="none" opacity="0.85" stroke-linecap="round"/><path d="M507,300 q27,-3 55,2" stroke="#b8e6f0" stroke-width="2.5" fill="none" opacity="0.62" stroke-linecap="round"/><path d="M635,323 q11,3 22,-3" stroke="#b8e6f0" stroke-width="2.9" fill="none" opacity="0.54" stroke-linecap="round"/><path d="M557,303 q21,4 43,-3" stroke="#b8e6f0" stroke-width="1.8" fill="none" opacity="0.52" stroke-linecap="round"/><path d="M594,308 q12,-4 24,-0" stroke="#b8e6f0" stroke-width="1.4" fill="none" opacity="0.63" stroke-linecap="round"/><path d="M534,233 q19,-4 38,-1" stroke="#b8e6f0" stroke-width="1.7" fill="none" opacity="0.87" stroke-linecap="round"/><path d="M784,251 q25,1 50,-2" stroke="#b8e6f0" stroke-width="2.8" fill="none" opacity="0.61" stroke-linecap="round"/><path d="M1232,283 q20,-3 40,2" stroke="#b8e6f0" stroke-width="3.2" fill="none" opacity="0.70" stroke-linecap="round"/><path d="M599,306 q8,-4 16,0" stroke="#b8e6f0" stroke-width="1.5" fill="none" opacity="0.69" stroke-linecap="round"/><path d="M766,301 q8,0 15,2" stroke="#b8e6f0" stroke-width="2.1" fill="none" opacity="0.87" stroke-linecap="round"/><path d="M1355,328 q17,4 33,-1" stroke="#b8e6f0" stroke-width="2.1" fill="none" opacity="0.51" stroke-linecap="round"/><path d="M1266,213 q25,1 49,3" stroke="#b8e6f0" stroke-width="2.1" fill="none" opacity="0.56" stroke-linecap="round"/><path d="M936,195 q14,-1 28,-3" stroke="#b8e6f0" stroke-width="1.2" fill="none" opacity="0.72" stroke-linecap="round"/><path d="M636,196 q24,-0 47,4" stroke="#b8e6f0" stroke-width="3.1" fill="none" opacity="0.65" stroke-linecap="round"/><path d="M1339,214 q13,4 27,4" stroke="#b8e6f0" stroke-width="3.2" fill="none" opacity="0.93" stroke-linecap="round"/><path d="M476,192 q26,0 52,3" stroke="#22a2c4" stroke-width="3.0" fill="none" opacity="0.52" stroke-linecap="round"/><path d="M278,180 q29,-4 59,-2" stroke="#b8e6f0" stroke-width="1.8" fill="none" opacity="0.71" stroke-linecap="round"/><path d="M1134,162 q23,5 46,2" stroke="#b8e6f0" stroke-width="1.9" fill="none" opacity="0.95" stroke-linecap="round"/><path d="M1141,314 q21,-0 42,3" stroke="#b8e6f0" stroke-width="1.3" fill="none" opacity="0.68" stroke-linecap="round"/><path d="M804,327 q23,5 45,0" stroke="#22a2c4" stroke-width="2.4" fill="none" opacity="0.62" stroke-linecap="round"/><path d="M919,172 q29,-0 58,3" stroke="#b8e6f0" stroke-width="1.4" fill="none" opacity="0.84" stroke-linecap="round"/><path d="M511,246 q17,-1 35,-1" stroke="#b8e6f0" stroke-width="1.6" fill="none" opacity="0.74" stroke-linecap="round"/><path d="M938,269 q18,-1 36,-3" stroke="#b8e6f0" stroke-width="2.6" fill="none" opacity="0.62" stroke-linecap="round"/><path d="M352,272 q24,-0 48,-3" stroke="#b8e6f0" stroke-width="2.3" fill="none" opacity="0.94" stroke-linecap="round"/><path d="M742,256 q22,4 43,3" stroke="#22a2c4" stroke-width="2.5" fill="none" opacity="0.42" stroke-linecap="round"/><path d="M282,197 q24,-3 48,2" stroke="#22a2c4" stroke-width="2.8" fill="none" opacity="0.65" stroke-linecap="round"/><path d="M522,326 q8,1 15,0" stroke="#b8e6f0" stroke-width="2.4" fill="none" opacity="0.75" stroke-linecap="round"/><path d="M923,274 q10,3 21,1" stroke="#b8e6f0" stroke-width="2.9" fill="none" opacity="0.60" stroke-linecap="round"/><path d="M912,222 q21,-4 42,3" stroke="#22a2c4" stroke-width="2.2" fill="none" opacity="0.39" stroke-linecap="round"/><path d="M393,228 q27,-5 53,2" stroke="#b8e6f0" stroke-width="2.6" fill="none" opacity="0.86" stroke-linecap="round"/><path d="M1130,249 q21,-0 42,-2" stroke="#b8e6f0" stroke-width="1.5" fill="none" opacity="0.85" stroke-linecap="round"/><path d="M614,254 q30,-1 59,0" stroke="#b8e6f0" stroke-width="2.1" fill="none" opacity="0.73" stroke-linecap="round"/><path d="M546,186 q9,4 18,-1" stroke="#b8e6f0" stroke-width="3.1" fill="none" opacity="0.51" stroke-linecap="round"/><path d="M1242,180 q15,-5 31,2" stroke="#b8e6f0" stroke-width="1.6" fill="none" opacity="0.64" stroke-linecap="round"/><path d="M1030,247 q9,-0 17,-2" stroke="#b8e6f0" stroke-width="1.8" fill="none" opacity="0.60" stroke-linecap="round"/><path d="M824,316 q19,1 37,1" stroke="#b8e6f0" stroke-width="2.7" fill="none" opacity="0.83" stroke-linecap="round"/><path d="M283,326 q22,-1 44,-1" stroke="#b8e6f0" stroke-width="2.8" fill="none" opacity="0.73" stroke-linecap="round"/><path d="M287,203 q22,-3 44,-0" stroke="#b8e6f0" stroke-width="1.3" fill="none" opacity="0.65" stroke-linecap="round"/><path d="M495,313 q29,-3 58,-3" stroke="#22a2c4" stroke-width="2.3" fill="none" opacity="0.44" stroke-linecap="round"/><path d="M556,273 q14,1 27,1" stroke="#b8e6f0" stroke-width="1.7" fill="none" opacity="0.83" stroke-linecap="round"/><path d="M994,288 q14,1 27,1" stroke="#b8e6f0" stroke-width="2.3" fill="none" opacity="0.69" stroke-linecap="round"/><path d="M813,273 q21,3 43,2" stroke="#b8e6f0" stroke-width="3.3" fill="none" opacity="0.58" stroke-linecap="round"/><path d="M946,175 q24,2 48,2" stroke="#b8e6f0" stroke-width="2.6" fill="none" opacity="0.67" stroke-linecap="round"/><path d="M1233,236 q12,-3 24,-2" stroke="#b8e6f0" stroke-width="2.2" fill="none" opacity="0.73" stroke-linecap="round"/><path d="M1146,183 q28,-4 56,-4" stroke="#b8e6f0" stroke-width="1.7" fill="none" opacity="0.81" stroke-linecap="round"/><path d="M701,151 q12,-1 23,-4" stroke="#22a2c4" stroke-width="1.9" fill="none" opacity="0.57" stroke-linecap="round"/><path d="M532,200 q11,0 23,-4" stroke="#b8e6f0" stroke-width="2.8" fill="none" opacity="0.71" stroke-linecap="round"/><path d="M872,272 q23,1 46,-3" stroke="#22a2c4" stroke-width="2.2" fill="none" opacity="0.42" stroke-linecap="round"/><path d="M533,223 q23,-5 47,2" stroke="#b8e6f0" stroke-width="1.9" fill="none" opacity="0.68" stroke-linecap="round"/><path d="M1122,162 q10,-1 20,4" stroke="#b8e6f0" stroke-width="2.0" fill="none" opacity="0.81" stroke-linecap="round"/><path d="M1308,279 q22,1 44,-2" stroke="#22a2c4" stroke-width="2.4" fill="none" opacity="0.68" stroke-linecap="round"/><path d="M603,186 q14,-3 28,-2" stroke="#22a2c4" stroke-width="1.5" fill="none" opacity="0.67" stroke-linecap="round"/><path d="M1029,216 q10,-4 20,-2" stroke="#22a2c4" stroke-width="2.6" fill="none" opacity="0.56" stroke-linecap="round"/><path d="M372,258 q8,4 16,-0" stroke="#b8e6f0" stroke-width="3.0" fill="none" opacity="0.77" stroke-linecap="round"/><path d="M1087,189 q15,2 29,1" stroke="#b8e6f0" stroke-width="2.2" fill="none" opacity="0.76" stroke-linecap="round"/><path d="M425,328 q24,0 47,-3" stroke="#b8e6f0" stroke-width="1.8" fill="none" opacity="0.55" stroke-linecap="round"/><path d="M1151,180 q14,2 27,1" stroke="#b8e6f0" stroke-width="1.5" fill="none" opacity="0.94" stroke-linecap="round"/><path d="M582,185 q26,4 51,-1" stroke="#22a2c4" stroke-width="2.8" fill="none" opacity="0.37" stroke-linecap="round"/><path d="M331,173 q23,-3 46,-1" stroke="#b8e6f0" stroke-width="2.9" fill="none" opacity="0.77" stroke-linecap="round"/><path d="M1163,231 q25,3 50,-3" stroke="#b8e6f0" stroke-width="2.0" fill="none" opacity="0.75" stroke-linecap="round"/><path d="M409,304 q26,3 52,3" stroke="#22a2c4" stroke-width="1.5" fill="none" opacity="0.39" stroke-linecap="round"/><path d="M737,175 q14,-0 28,1" stroke="#22a2c4" stroke-width="3.1" fill="none" opacity="0.42" stroke-linecap="round"/><path d="M1127,192 q13,-1 26,-4" stroke="#b8e6f0" stroke-width="3.4" fill="none" opacity="0.74" stroke-linecap="round"/><path d="M1016,166 q18,-1 35,0" stroke="#22a2c4" stroke-width="2.7" fill="none" opacity="0.62" stroke-linecap="round"/><path d="M1001,275 q30,2 60,-3" stroke="#22a2c4" stroke-width="2.7" fill="none" opacity="0.62" stroke-linecap="round"/><path d="M730,315 q25,-4 50,-3" stroke="#b8e6f0" stroke-width="1.9" fill="none" opacity="0.60" stroke-linecap="round"/><path d="M774,297 q13,1 26,-3" stroke="#b8e6f0" stroke-width="2.5" fill="none" opacity="0.55" stroke-linecap="round"/><path d="M415,242 q17,3 35,-4" stroke="#22a2c4" stroke-width="3.1" fill="none" opacity="0.39" stroke-linecap="round"/><path d="M284,205 q24,-0 48,-1" stroke="#22a2c4" stroke-width="1.3" fill="none" opacity="0.41" stroke-linecap="round"/><path d="M931,156 q14,-2 28,3" stroke="#b8e6f0" stroke-width="2.8" fill="none" opacity="0.52" stroke-linecap="round"/><path d="M303,208 q13,-1 25,3" stroke="#b8e6f0" stroke-width="3.0" fill="none" opacity="0.76" stroke-linecap="round"/><path d="M1098,196 q8,-1 17,4" stroke="#b8e6f0" stroke-width="2.3" fill="none" opacity="0.73" stroke-linecap="round"/><path d="M1347,224 q17,-1 33,3" stroke="#b8e6f0" stroke-width="2.3" fill="none" opacity="0.56" stroke-linecap="round"/><path d="M409,235 q17,-4 34,-3" stroke="#22a2c4" stroke-width="2.2" fill="none" opacity="0.43" stroke-linecap="round"/><path d="M1045,297 q14,3 28,4" stroke="#b8e6f0" stroke-width="2.2" fill="none" opacity="0.53" stroke-linecap="round"/><path d="M734,205 q21,1 43,-0" stroke="#22a2c4" stroke-width="1.3" fill="none" opacity="0.55" stroke-linecap="round"/><path d="M632,190 q13,5 26,-0" stroke="#b8e6f0" stroke-width="1.6" fill="none" opacity="0.51" stroke-linecap="round"/><path d="M297,203 q21,2 41,1" stroke="#22a2c4" stroke-width="1.4" fill="none" opacity="0.62" stroke-linecap="round"/><path d="M408,175 q14,-3 27,-1" stroke="#b8e6f0" stroke-width="3.1" fill="none" opacity="0.65" stroke-linecap="round"/><path d="M241,260 q9,-1 18,-0" stroke="#b8e6f0" stroke-width="3.5" fill="none" opacity="0.85" stroke-linecap="round"/><path d="M804,261 q28,-2 55,1" stroke="#b8e6f0" stroke-width="1.9" fill="none" opacity="0.82" stroke-linecap="round"/><path d="M846,165 q21,-1 41,-1" stroke="#b8e6f0" stroke-width="2.4" fill="none" opacity="0.58" stroke-linecap="round"/><path d="M1132,221 q12,0 24,0" stroke="#b8e6f0" stroke-width="3.4" fill="none" opacity="0.84" stroke-linecap="round"/><path d="M716,257 q10,2 19,-1" stroke="#b8e6f0" stroke-width="2.6" fill="none" opacity="0.66" stroke-linecap="round"/><path d="M1089,263 q16,5 32,3" stroke="#b8e6f0" stroke-width="1.7" fill="none" opacity="0.50" stroke-linecap="round"/><path d="M775,156 q27,3 54,-1" stroke="#b8e6f0" stroke-width="1.9" fill="none" opacity="0.51" stroke-linecap="round"/><path d="M607,167 q21,-5 42,3" stroke="#b8e6f0" stroke-width="2.8" fill="none" opacity="0.94" stroke-linecap="round"/><path d="M1064,210 q13,-2 26,-1" stroke="#b8e6f0" stroke-width="1.5" fill="none" opacity="0.58" stroke-linecap="round"/><path d="M978,291 q25,-1 49,3" stroke="#22a2c4" stroke-width="2.3" fill="none" opacity="0.61" stroke-linecap="round"/><path d="M613,289 q27,3 54,-0" stroke="#22a2c4" stroke-width="1.7" fill="none" opacity="0.53" stroke-linecap="round"/><path d="M1140,260 q15,2 31,-1" stroke="#b8e6f0" stroke-width="1.6" fill="none" opacity="0.85" stroke-linecap="round"/><path d="M533,284 q29,-4 59,-2" stroke="#22a2c4" stroke-width="1.7" fill="none" opacity="0.40" stroke-linecap="round"/><path d="M1024,243 q16,3 31,4" stroke="#b8e6f0" stroke-width="2.2" fill="none" opacity="0.94" stroke-linecap="round"/><path d="M1282,227 q20,-2 41,-1" stroke="#b8e6f0" stroke-width="2.1" fill="none" opacity="0.81" stroke-linecap="round"/><path d="M1133,158 q25,-3 50,3" stroke="#22a2c4" stroke-width="1.4" fill="none" opacity="0.48" stroke-linecap="round"/><path d="M800,203 q29,-3 57,2" stroke="#b8e6f0" stroke-width="2.0" fill="none" opacity="0.73" stroke-linecap="round"/><path d="M545,254 q14,1 28,-0" stroke="#b8e6f0" stroke-width="1.6" fill="none" opacity="0.57" stroke-linecap="round"/><path d="M616,154 q25,-1 50,-0" stroke="#b8e6f0" stroke-width="3.1" fill="none" opacity="0.54" stroke-linecap="round"/><path d="M1127,264 q24,-1 47,0" stroke="#22a2c4" stroke-width="3.2" fill="none" opacity="0.55" stroke-linecap="round"/><path d="M1309,211 q18,-1 36,-3" stroke="#22a2c4" stroke-width="1.2" fill="none" opacity="0.60" stroke-linecap="round"/><path d="M939,231 q23,-2 46,-2" stroke="#22a2c4" stroke-width="2.9" fill="none" opacity="0.54" stroke-linecap="round"/><path d="M997,172 q26,-4 52,0" stroke="#b8e6f0" stroke-width="3.2" fill="none" opacity="0.80" stroke-linecap="round"/><path d="M1038,278 q28,-1 57,2" stroke="#b8e6f0" stroke-width="1.5" fill="none" opacity="0.94" stroke-linecap="round"/><path d="M698,244 q8,-5 16,1" stroke="#b8e6f0" stroke-width="3.3" fill="none" opacity="0.60" stroke-linecap="round"/><path d="M345,154 q18,4 35,-0" stroke="#b8e6f0" stroke-width="2.3" fill="none" opacity="0.51" stroke-linecap="round"/><path d="M1245,190 q28,-2 55,3" stroke="#b8e6f0" stroke-width="3.4" fill="none" opacity="0.71" stroke-linecap="round"/><path d="M1292,314 q16,4 32,-2" stroke="#b8e6f0" stroke-width="3.2" fill="none" opacity="0.84" stroke-linecap="round"/><path d="M257,167 q14,-3 28,-3" stroke="#b8e6f0" stroke-width="1.9" fill="none" opacity="0.76" stroke-linecap="round"/><path d="M1181,220 q20,1 41,2" stroke="#22a2c4" stroke-width="1.9" fill="none" opacity="0.50" stroke-linecap="round"/><path d="M1227,329 q26,5 53,-2" stroke="#b8e6f0" stroke-width="1.4" fill="none" opacity="0.64" stroke-linecap="round"/><path d="M391,177 q22,2 43,3" stroke="#b8e6f0" stroke-width="2.0" fill="none" opacity="0.60" stroke-linecap="round"/><path d="M527,310 q16,-3 33,-2" stroke="#b8e6f0" stroke-width="2.1" fill="none" opacity="0.81" stroke-linecap="round"/><path d="M886,188 q11,4 22,3" stroke="#b8e6f0" stroke-width="3.0" fill="none" opacity="0.72" stroke-linecap="round"/><path d="M326,311 q13,-1 25,2" stroke="#22a2c4" stroke-width="1.6" fill="none" opacity="0.52" stroke-linecap="round"/><path d="M592,216 q27,-2 53,1" stroke="#b8e6f0" stroke-width="3.1" fill="none" opacity="0.88" stroke-linecap="round"/><path d="M866,171 q24,3 49,-4" stroke="#b8e6f0" stroke-width="3.4" fill="none" opacity="0.60" stroke-linecap="round"/><path d="M747,159 q13,3 26,3" stroke="#b8e6f0" stroke-width="2.0" fill="none" opacity="0.80" stroke-linecap="round"/><path d="M481,234 q13,1 25,0" stroke="#b8e6f0" stroke-width="2.0" fill="none" opacity="0.84" stroke-linecap="round"/><path d="M347,231 q14,3 28,4" stroke="#22a2c4" stroke-width="2.5" fill="none" opacity="0.51" stroke-linecap="round"/><path d="M1358,296 q13,-3 26,-2" stroke="#22a2c4" stroke-width="1.3" fill="none" opacity="0.49" stroke-linecap="round"/><path d="M594,211 q28,0 57,2" stroke="#22a2c4" stroke-width="3.1" fill="none" opacity="0.49" stroke-linecap="round"/><path d="M1106,268 q14,4 29,2" stroke="#22a2c4" stroke-width="3.3" fill="none" opacity="0.42" stroke-linecap="round"/><path d="M801,302 q22,-3 44,1" stroke="#b8e6f0" stroke-width="3.4" fill="none" opacity="0.90" stroke-linecap="round"/><path d="M901,225 q11,5 21,3" stroke="#22a2c4" stroke-width="2.3" fill="none" opacity="0.49" stroke-linecap="round"/><path d="M914,304 q16,4 33,-2" stroke="#b8e6f0" stroke-width="1.6" fill="none" opacity="0.53" stroke-linecap="round"/><path d="M1265,247 q23,0 46,-2" stroke="#b8e6f0" stroke-width="2.9" fill="none" opacity="0.54" stroke-linecap="round"/><path d="M1323,249 q20,-4 40,2" stroke="#b8e6f0" stroke-width="1.7" fill="none" opacity="0.69" stroke-linecap="round"/><path d="M610,314 q22,-4 43,-1" stroke="#b8e6f0" stroke-width="1.8" fill="none" opacity="0.66" stroke-linecap="round"/><path d="M957,257 q18,4 35,-0" stroke="#b8e6f0" stroke-width="2.3" fill="none" opacity="0.68" stroke-linecap="round"/><path d="M1104,184 q28,-3 55,-2" stroke="#22a2c4" stroke-width="1.9" fill="none" opacity="0.46" stroke-linecap="round"/><path d="M792,257 q23,0 46,3" stroke="#b8e6f0" stroke-width="1.5" fill="none" opacity="0.60" stroke-linecap="round"/><path d="M554,252 q27,-2 55,-3" stroke="#22a2c4" stroke-width="2.8" fill="none" opacity="0.38" stroke-linecap="round"/><path d="M1252,173 q29,2 57,-3" stroke="#b8e6f0" stroke-width="1.6" fill="none" opacity="0.85" stroke-linecap="round"/><path d="M964,270 q9,-3 19,2" stroke="#22a2c4" stroke-width="1.7" fill="none" opacity="0.41" stroke-linecap="round"/><path d="M533,296 q9,-5 18,2" stroke="#b8e6f0" stroke-width="1.8" fill="none" opacity="0.93" stroke-linecap="round"/><path d="M1180,242 q17,-3 34,0" stroke="#22a2c4" stroke-width="1.4" fill="none" opacity="0.63" stroke-linecap="round"/><path d="M1157,234 q16,-2 32,2" stroke="#22a2c4" stroke-width="3.2" fill="none" opacity="0.60" stroke-linecap="round"/><path d="M839,270 q29,3 58,-4" stroke="#b8e6f0" stroke-width="3.3" fill="none" opacity="0.63" stroke-linecap="round"/><path d="M1330,307 q10,-3 21,-3" stroke="#b8e6f0" stroke-width="3.4" fill="none" opacity="0.86" stroke-linecap="round"/><path d="M888,298 q25,-3 49,1" stroke="#b8e6f0" stroke-width="3.5" fill="none" opacity="0.65" stroke-linecap="round"/><path d="M1299,288 q15,-5 29,-4" stroke="#b8e6f0" stroke-width="2.6" fill="none" opacity="0.70" stroke-linecap="round"/><path d="M435,295 q27,-4 55,-4" stroke="#22a2c4" stroke-width="2.8" fill="none" opacity="0.70" stroke-linecap="round"/><path d="M825,195 q10,1 20,4" stroke="#22a2c4" stroke-width="1.4" fill="none" opacity="0.38" stroke-linecap="round"/><path d="M353,251 q13,1 27,1" stroke="#b8e6f0" stroke-width="2.6" fill="none" opacity="0.89" stroke-linecap="round"/><path d="M858,284 q27,5 54,3" stroke="#b8e6f0" stroke-width="3.0" fill="none" opacity="0.76" stroke-linecap="round"/><path d="M866,162 q10,5 20,-3" stroke="#b8e6f0" stroke-width="2.3" fill="none" opacity="0.58" stroke-linecap="round"/><path d="M785,287 q8,-3 16,-4" stroke="#b8e6f0" stroke-width="2.3" fill="none" opacity="0.53" stroke-linecap="round"/><path d="M891,307 q11,0 22,3" stroke="#22a2c4" stroke-width="2.3" fill="none" opacity="0.65" stroke-linecap="round"/><path d="M368,238 q25,0 50,1" stroke="#b8e6f0" stroke-width="1.4" fill="none" opacity="0.86" stroke-linecap="round"/><path d="M817,213 q11,3 21,2" stroke="#b8e6f0" stroke-width="1.3" fill="none" opacity="0.76" stroke-linecap="round"/><path d="M701,243 q12,-2 24,-3" stroke="#b8e6f0" stroke-width="2.2" fill="none" opacity="0.51" stroke-linecap="round"/><path d="M405,279 q14,-4 29,3" stroke="#b8e6f0" stroke-width="1.5" fill="none" opacity="0.74" stroke-linecap="round"/><path d="M1190,214 q18,0 36,-2" stroke="#22a2c4" stroke-width="2.1" fill="none" opacity="0.63" stroke-linecap="round"/><path d="M537,254 q23,-2 47,-2" stroke="#b8e6f0" stroke-width="2.2" fill="none" opacity="0.64" stroke-linecap="round"/><path d="M847,287 q30,-2 60,-0" stroke="#b8e6f0" stroke-width="2.4" fill="none" opacity="0.68" stroke-linecap="round"/><path d="M794,158 q22,-5 43,-2" stroke="#b8e6f0" stroke-width="2.6" fill="none" opacity="0.84" stroke-linecap="round"/><path d="M955,244 q17,5 35,-4" stroke="#b8e6f0" stroke-width="3.4" fill="none" opacity="0.68" stroke-linecap="round"/><path d="M724,311 q21,-3 41,-1" stroke="#b8e6f0" stroke-width="2.5" fill="none" opacity="0.73" stroke-linecap="round"/><path d="M806,302 q11,-0 21,-3" stroke="#b8e6f0" stroke-width="1.8" fill="none" opacity="0.56" stroke-linecap="round"/><path d="M1101,284 q20,-2 41,-2" stroke="#b8e6f0" stroke-width="2.9" fill="none" opacity="0.93" stroke-linecap="round"/><path d="M616,261 q11,-1 23,-1" stroke="#b8e6f0" stroke-width="2.2" fill="none" opacity="0.76" stroke-linecap="round"/><path d="M558,232 q22,1 45,2" stroke="#b8e6f0" stroke-width="2.3" fill="none" opacity="0.65" stroke-linecap="round"/><path d="M367,210 q11,-3 21,3" stroke="#22a2c4" stroke-width="1.2" fill="none" opacity="0.63" stroke-linecap="round"/><path d="M269,259 q15,3 31,-1" stroke="#22a2c4" stroke-width="1.9" fill="none" opacity="0.36" stroke-linecap="round"/><path d="M1345,269 q29,-1 59,0" stroke="#b8e6f0" stroke-width="2.0" fill="none" opacity="0.53" stroke-linecap="round"/><path d="M378,178 q24,4 49,4" stroke="#b8e6f0" stroke-width="3.4" fill="none" opacity="0.93" stroke-linecap="round"/><path d="M1325,171 q11,-0 23,1" stroke="#b8e6f0" stroke-width="3.1" fill="none" opacity="0.68" stroke-linecap="round"/><path d="M1342,243 q21,-1 42,-1" stroke="#b8e6f0" stroke-width="2.4" fill="none" opacity="0.94" stroke-linecap="round"/><path d="M1060,186 q8,-2 16,1" stroke="#b8e6f0" stroke-width="1.5" fill="none" opacity="0.51" stroke-linecap="round"/><path d="M936,201 q11,-0 22,2" stroke="#22a2c4" stroke-width="2.4" fill="none" opacity="0.59" stroke-linecap="round"/><path d="M796,213 q9,-4 19,-1" stroke="#b8e6f0" stroke-width="2.4" fill="none" opacity="0.66" stroke-linecap="round"/><path d="M1219,197 q16,2 32,-2" stroke="#b8e6f0" stroke-width="1.3" fill="none" opacity="0.68" stroke-linecap="round"/><path d="M364,201 q19,-2 38,-2" stroke="#b8e6f0" stroke-width="3.1" fill="none" opacity="0.87" stroke-linecap="round"/><path d="M325,241 q9,-1 18,-2" stroke="#b8e6f0" stroke-width="2.3" fill="none" opacity="0.76" stroke-linecap="round"/><path d="M379,294 q19,5 38,2" stroke="#22a2c4" stroke-width="2.3" fill="none" opacity="0.62" stroke-linecap="round"/><path d="M972,323 q21,1 41,1" stroke="#22a2c4" stroke-width="2.2" fill="none" opacity="0.37" stroke-linecap="round"/><path d="M357,198 q15,4 30,-3" stroke="#b8e6f0" stroke-width="2.0" fill="none" opacity="0.64" stroke-linecap="round"/><path d="M1134,270 q21,-5 42,0" stroke="#b8e6f0" stroke-width="3.2" fill="none" opacity="0.77" stroke-linecap="round"/><path d="M877,327 q28,-0 56,-2" stroke="#b8e6f0" stroke-width="2.6" fill="none" opacity="0.55" stroke-linecap="round"/><path d="M1000,286 q23,-1 45,-3" stroke="#b8e6f0" stroke-width="2.5" fill="none" opacity="0.73" stroke-linecap="round"/><path d="M706,281 q23,0 46,0" stroke="#b8e6f0" stroke-width="1.3" fill="none" opacity="0.51" stroke-linecap="round"/><path d="M1260,275 q27,4 54,-3" stroke="#b8e6f0" stroke-width="3.4" fill="none" opacity="0.91" stroke-linecap="round"/><path d="M1245,281 q26,-3 52,-2" stroke="#22a2c4" stroke-width="2.7" fill="none" opacity="0.66" stroke-linecap="round"/><path d="M666,232 q21,-5 41,-3" stroke="#b8e6f0" stroke-width="2.2" fill="none" opacity="0.53" stroke-linecap="round"/><path d="M272,181 q20,2 41,1" stroke="#b8e6f0" stroke-width="2.0" fill="none" opacity="0.55" stroke-linecap="round"/><path d="M493,253 q25,-1 50,-0" stroke="#22a2c4" stroke-width="2.6" fill="none" opacity="0.43" stroke-linecap="round"/><path d="M640,309 q25,-2 49,-2" stroke="#b8e6f0" stroke-width="3.2" fill="none" opacity="0.69" stroke-linecap="round"/><path d="M676,213 q17,4 35,-3" stroke="#22a2c4" stroke-width="2.2" fill="none" opacity="0.38" stroke-linecap="round"/><path d="M597,209 q27,3 55,-4" stroke="#b8e6f0" stroke-width="1.5" fill="none" opacity="0.57" stroke-linecap="round"/><path d="M258,313 q19,2 38,-0" stroke="#b8e6f0" stroke-width="1.4" fill="none" opacity="0.75" stroke-linecap="round"/><path d="M417,212 q23,1 46,-3" stroke="#b8e6f0" stroke-width="1.9" fill="none" opacity="0.53" stroke-linecap="round"/><path d="M1206,223 q20,-2 41,3" stroke="#b8e6f0" stroke-width="1.9" fill="none" opacity="0.65" stroke-linecap="round"/><path d="M1162,245 q16,-4 31,-1" stroke="#22a2c4" stroke-width="2.5" fill="none" opacity="0.52" stroke-linecap="round"/><path d="M351,194 q23,4 45,-3" stroke="#b8e6f0" stroke-width="1.6" fill="none" opacity="0.88" stroke-linecap="round"/><path d="M972,316 q28,-2 57,-2" stroke="#b8e6f0" stroke-width="2.2" fill="none" opacity="0.56" stroke-linecap="round"/></g>
<clipPath id="wallc"><path d="M236.0,276.0 L244.0,278.4 L252.0,280.8 L260.0,283.2 L268.0,285.5 L276.0,287.9 L284.0,290.3 L292.0,292.7 L300.0,295.1 L308.0,297.5 L316.0,299.9 L324.0,302.2 L332.0,304.6 L340.0,307.0 L348.0,309.4 L356.0,310.7 L364.0,311.5 L372.0,312.4 L380.0,313.3 L388.0,314.2 L396.0,315.1 L404.0,316.0 L412.0,316.9 L420.0,317.7 L428.0,318.6 L436.0,319.5 L444.0,320.4 L452.0,321.3 L460.0,322.2 L468.0,323.0 L476.0,323.9 L484.0,324.8 L492.0,325.7 L500.0,326.6 L508.0,327.5 L516.0,328.3 L524.0,329.2 L532.0,330.1 L540.0,331.0 L548.0,331.5 L556.0,332.1 L564.0,332.6 L572.0,333.1 L580.0,333.7 L588.0,334.2 L596.0,334.7 L604.0,335.3 L612.0,335.8 L620.0,336.3 L628.0,336.9 L636.0,337.4 L644.0,337.9 L652.0,338.5 L660.0,339.0 L668.0,339.5 L676.0,340.1 L684.0,340.6 L692.0,341.1 L700.0,341.7 L708.0,342.2 L716.0,342.7 L724.0,343.3 L732.0,343.8 L740.0,344.3 L748.0,344.9 L756.0,344.8 L764.0,344.4 L772.0,344.1 L780.0,343.8 L788.0,343.5 L796.0,343.2 L804.0,342.8 L812.0,342.5 L820.0,342.2 L828.0,341.9 L836.0,341.6 L844.0,341.2 L852.0,340.9 L860.0,340.6 L868.0,340.3 L876.0,340.0 L884.0,339.6 L892.0,339.3 L900.0,339.0 L908.0,338.7 L916.0,338.4 L924.0,338.0 L932.0,337.7 L940.0,337.4 L948.0,337.1 L956.0,336.8 L964.0,336.4 L972.0,336.1 L980.0,335.8 L988.0,335.4 L996.0,335.1 L1004.0,334.8 L1012.0,334.4 L1020.0,334.1 L1028.0,333.8 L1036.0,333.4 L1044.0,333.1 L1052.0,332.8 L1060.0,332.4 L1068.0,332.1 L1076.0,330.9 L1084.0,329.5 L1092.0,328.0 L1100.0,326.5 L1108.0,325.1 L1116.0,323.6 L1124.0,322.2 L1132.0,320.7 L1140.0,319.3 L1148.0,317.8 L1156.0,316.4 L1164.0,314.9 L1172.0,313.5 L1180.0,312.0 L1188.0,310.9 L1196.0,309.8 L1204.0,308.7 L1212.0,307.6 L1220.0,306.5 L1228.0,305.5 L1236.0,304.4 L1244.0,303.3 L1252.0,302.2 L1260.0,301.1 L1268.0,300.0 L1276.0,298.9 L1284.0,297.8 L1292.0,296.0 L1300.0,291.8 L1308.0,287.6 L1316.0,283.5 L1324.0,279.3 L1332.0,275.2 L1340.0,271.0 L1348.0,264.3 L1356.0,257.7 L1358.0,515.0 L1350.0,534.0 L1342.0,541.6 L1334.0,549.2 L1326.0,555.5 L1318.0,560.6 L1310.0,565.7 L1302.0,570.7 L1294.0,574.5 L1286.0,578.0 L1278.0,581.4 L1270.0,584.8 L1262.0,588.1 L1254.0,590.9 L1246.0,593.4 L1238.0,596.0 L1230.0,598.5 L1222.0,601.0 L1214.0,603.6 L1206.0,606.1 L1198.0,608.6 L1190.0,611.0 L1182.0,613.4 L1174.0,615.8 L1166.0,618.2 L1158.0,620.6 L1150.0,623.0 L1142.0,625.4 L1134.0,627.8 L1126.0,630.2 L1118.0,632.6 L1110.0,635.0 L1102.0,637.4 L1094.0,638.8 L1086.0,640.0 L1078.0,641.1 L1070.0,642.2 L1062.0,643.3 L1054.0,644.4 L1046.0,645.6 L1038.0,646.7 L1030.0,647.8 L1022.0,648.9 L1014.0,650.0 L1006.0,651.2 L998.0,652.2 L990.0,653.0 L982.0,653.8 L974.0,654.6 L966.0,655.4 L958.0,656.2 L950.0,657.0 L942.0,657.8 L934.0,658.6 L926.0,659.4 L918.0,660.2 L910.0,661.0 L902.0,661.8 L894.0,662.1 L886.0,662.3 L878.0,662.4 L870.0,662.6 L862.0,662.8 L854.0,662.9 L846.0,663.1 L838.0,663.2 L830.0,663.4 L822.0,663.6 L814.0,663.7 L806.0,663.9 L798.0,663.9 L790.0,663.5 L782.0,663.1 L774.0,662.7 L766.0,662.3 L758.0,661.9 L750.0,661.5 L742.0,661.1 L734.0,660.7 L726.0,660.3 L718.0,659.9 L710.0,659.5 L702.0,659.1 L694.0,658.6 L686.0,658.0 L678.0,657.5 L670.0,656.9 L662.0,656.3 L654.0,655.8 L646.0,655.2 L638.0,654.7 L630.0,654.1 L622.0,653.5 L614.0,653.0 L606.0,652.4 L598.0,651.8 L590.0,651.0 L582.0,650.2 L574.0,649.4 L566.0,648.6 L558.0,647.8 L550.0,647.0 L542.0,646.2 L534.0,645.4 L526.0,644.6 L518.0,643.8 L510.0,643.0 L502.0,642.2 L494.0,641.0 L486.0,639.5 L478.0,638.1 L470.0,636.8 L462.0,635.4 L454.0,633.4 L446.0,631.3 L438.0,629.1 L430.0,627.0 L422.0,624.8 L414.0,622.6 L406.0,620.4 L398.0,618.1 L390.0,615.5 L382.0,613.0 L374.0,610.5 L366.0,607.9 L358.0,605.1 L350.0,602.0 L342.0,598.9 L334.0,596.0 L326.0,593.4 L318.0,590.8 L310.0,588.2 L302.0,585.6 L294.0,582.8 L286.0,579.5 L278.0,576.3 L270.0,573.0 L262.0,565.8 L254.0,558.7 L246.0,551.5 L238.0,542.8Z"/></clipPath>
<path d="M236.0,276.0 L244.0,278.4 L252.0,280.8 L260.0,283.2 L268.0,285.5 L276.0,287.9 L284.0,290.3 L292.0,292.7 L300.0,295.1 L308.0,297.5 L316.0,299.9 L324.0,302.2 L332.0,304.6 L340.0,307.0 L348.0,309.4 L356.0,310.7 L364.0,311.5 L372.0,312.4 L380.0,313.3 L388.0,314.2 L396.0,315.1 L404.0,316.0 L412.0,316.9 L420.0,317.7 L428.0,318.6 L436.0,319.5 L444.0,320.4 L452.0,321.3 L460.0,322.2 L468.0,323.0 L476.0,323.9 L484.0,324.8 L492.0,325.7 L500.0,326.6 L508.0,327.5 L516.0,328.3 L524.0,329.2 L532.0,330.1 L540.0,331.0 L548.0,331.5 L556.0,332.1 L564.0,332.6 L572.0,333.1 L580.0,333.7 L588.0,334.2 L596.0,334.7 L604.0,335.3 L612.0,335.8 L620.0,336.3 L628.0,336.9 L636.0,337.4 L644.0,337.9 L652.0,338.5 L660.0,339.0 L668.0,339.5 L676.0,340.1 L684.0,340.6 L692.0,341.1 L700.0,341.7 L708.0,342.2 L716.0,342.7 L724.0,343.3 L732.0,343.8 L740.0,344.3 L748.0,344.9 L756.0,344.8 L764.0,344.4 L772.0,344.1 L780.0,343.8 L788.0,343.5 L796.0,343.2 L804.0,342.8 L812.0,342.5 L820.0,342.2 L828.0,341.9 L836.0,341.6 L844.0,341.2 L852.0,340.9 L860.0,340.6 L868.0,340.3 L876.0,340.0 L884.0,339.6 L892.0,339.3 L900.0,339.0 L908.0,338.7 L916.0,338.4 L924.0,338.0 L932.0,337.7 L940.0,337.4 L948.0,337.1 L956.0,336.8 L964.0,336.4 L972.0,336.1 L980.0,335.8 L988.0,335.4 L996.0,335.1 L1004.0,334.8 L1012.0,334.4 L1020.0,334.1 L1028.0,333.8 L1036.0,333.4 L1044.0,333.1 L1052.0,332.8 L1060.0,332.4 L1068.0,332.1 L1076.0,330.9 L1084.0,329.5 L1092.0,328.0 L1100.0,326.5 L1108.0,325.1 L1116.0,323.6 L1124.0,322.2 L1132.0,320.7 L1140.0,319.3 L1148.0,317.8 L1156.0,316.4 L1164.0,314.9 L1172.0,313.5 L1180.0,312.0 L1188.0,310.9 L1196.0,309.8 L1204.0,308.7 L1212.0,307.6 L1220.0,306.5 L1228.0,305.5 L1236.0,304.4 L1244.0,303.3 L1252.0,302.2 L1260.0,301.1 L1268.0,300.0 L1276.0,298.9 L1284.0,297.8 L1292.0,296.0 L1300.0,291.8 L1308.0,287.6 L1316.0,283.5 L1324.0,279.3 L1332.0,275.2 L1340.0,271.0 L1348.0,264.3 L1356.0,257.7 L1358.0,515.0 L1350.0,534.0 L1342.0,541.6 L1334.0,549.2 L1326.0,555.5 L1318.0,560.6 L1310.0,565.7 L1302.0,570.7 L1294.0,574.5 L1286.0,578.0 L1278.0,581.4 L1270.0,584.8 L1262.0,588.1 L1254.0,590.9 L1246.0,593.4 L1238.0,596.0 L1230.0,598.5 L1222.0,601.0 L1214.0,603.6 L1206.0,606.1 L1198.0,608.6 L1190.0,611.0 L1182.0,613.4 L1174.0,615.8 L1166.0,618.2 L1158.0,620.6 L1150.0,623.0 L1142.0,625.4 L1134.0,627.8 L1126.0,630.2 L1118.0,632.6 L1110.0,635.0 L1102.0,637.4 L1094.0,638.8 L1086.0,640.0 L1078.0,641.1 L1070.0,642.2 L1062.0,643.3 L1054.0,644.4 L1046.0,645.6 L1038.0,646.7 L1030.0,647.8 L1022.0,648.9 L1014.0,650.0 L1006.0,651.2 L998.0,652.2 L990.0,653.0 L982.0,653.8 L974.0,654.6 L966.0,655.4 L958.0,656.2 L950.0,657.0 L942.0,657.8 L934.0,658.6 L926.0,659.4 L918.0,660.2 L910.0,661.0 L902.0,661.8 L894.0,662.1 L886.0,662.3 L878.0,662.4 L870.0,662.6 L862.0,662.8 L854.0,662.9 L846.0,663.1 L838.0,663.2 L830.0,663.4 L822.0,663.6 L814.0,663.7 L806.0,663.9 L798.0,663.9 L790.0,663.5 L782.0,663.1 L774.0,662.7 L766.0,662.3 L758.0,661.9 L750.0,661.5 L742.0,661.1 L734.0,660.7 L726.0,660.3 L718.0,659.9 L710.0,659.5 L702.0,659.1 L694.0,658.6 L686.0,658.0 L678.0,657.5 L670.0,656.9 L662.0,656.3 L654.0,655.8 L646.0,655.2 L638.0,654.7 L630.0,654.1 L622.0,653.5 L614.0,653.0 L606.0,652.4 L598.0,651.8 L590.0,651.0 L582.0,650.2 L574.0,649.4 L566.0,648.6 L558.0,647.8 L550.0,647.0 L542.0,646.2 L534.0,645.4 L526.0,644.6 L518.0,643.8 L510.0,643.0 L502.0,642.2 L494.0,641.0 L486.0,639.5 L478.0,638.1 L470.0,636.8 L462.0,635.4 L454.0,633.4 L446.0,631.3 L438.0,629.1 L430.0,627.0 L422.0,624.8 L414.0,622.6 L406.0,620.4 L398.0,618.1 L390.0,615.5 L382.0,613.0 L374.0,610.5 L366.0,607.9 L358.0,605.1 L350.0,602.0 L342.0,598.9 L334.0,596.0 L326.0,593.4 L318.0,590.8 L310.0,588.2 L302.0,585.6 L294.0,582.8 L286.0,579.5 L278.0,576.3 L270.0,573.0 L262.0,565.8 L254.0,558.7 L246.0,551.5 L238.0,542.8Z" fill="#4e4246"/>
<g clip-path="url(#wallc)"><path d="M236.0,271.8 L256.1,279.6 L256.1,286.1 L236.0,278.0Z" fill="#999ba6"/>
<path d="M239.9,277.2 L248.7,280.7" stroke="#d3d8e0" stroke-width="2.9" opacity="0.8"/>
<path d="M245.7,278.3 L250.5,280.3" stroke="#d3d8e0" stroke-width="1.3" opacity="0.8"/>
<path d="M257.4,281.6 L287.0,293.5 L316.6,304.0 L316.6,309.5 L287.0,298.9 L257.4,286.8Z" fill="#b1b3be"/>
<path d="M268.8,288.5 L286.9,295.7" stroke="#ebf0f8" stroke-width="2.5" opacity="0.8"/>
<path d="M318.9,305.4 L346.3,313.5 L373.6,318.7 L400.9,323.1 L428.3,327.0 L455.6,330.4 L482.9,333.2 L482.9,338.1 L455.6,335.3 L428.3,331.9 L400.9,327.9 L373.6,323.5 L346.3,318.2 L318.9,310.1Z" fill="#c3c5d0"/>
<path d="M376.2,321.7 L425.1,329.2" stroke="#f5faff" stroke-width="2.5" opacity="0.8"/>
<path d="M372.7,319.5 L436.6,329.1" stroke="#97898d" stroke-width="1.8" opacity="0.55"/>
<path d="M488.8,333.1 L518.0,335.5 L547.2,337.4 L547.2,344.0 L518.0,342.1 L488.8,339.6Z" fill="#91939e"/>
<path d="M552.5,336.9 L583.2,338.4 L613.9,339.6 L644.6,340.5 L675.3,341.0 L675.3,347.8 L644.6,347.2 L613.9,346.4 L583.2,345.2 L552.5,343.6Z" fill="#b2b4bf"/>
<path d="M679.1,341.3 L707.8,341.5 L736.5,341.6 L765.2,341.4 L793.8,341.0 L822.5,340.4 L851.2,339.6 L851.2,346.6 L822.5,347.5 L793.8,348.0 L765.2,348.4 L736.5,348.6 L707.8,348.6 L679.1,348.3Z" fill="#9ea0ab"/>
<path d="M765.0,344.4 L815.4,343.6" stroke="#d8dde5" stroke-width="2.6" opacity="0.8"/>
<path d="M858.7,339.5 L905.1,337.7 L905.1,344.5 L858.7,346.3Z" fill="#81838e"/>
<path d="M909.2,337.4 L934.8,336.1 L960.4,334.6 L986.0,333.0 L1011.6,331.1 L1037.2,329.1 L1062.8,326.9 L1088.4,324.4 L1114.0,321.4 L1139.6,318.1 L1139.6,326.0 L1114.0,329.3 L1088.4,332.3 L1062.8,334.9 L1037.2,337.1 L1011.6,339.2 L986.0,341.0 L960.4,342.7 L934.8,344.2 L909.2,345.5Z" fill="#b1b3be"/>
<path d="M969.1,337.3 L1059.7,330.4" stroke="#ebf0f8" stroke-width="2.5" opacity="0.8"/>
<path d="M1143.6,317.9 L1173.4,313.4 L1203.3,308.5 L1233.2,303.3 L1263.0,297.8 L1263.0,304.3 L1233.2,309.9 L1203.3,315.2 L1173.4,320.1 L1143.6,324.7Z" fill="#a7a9b4"/>
<path d="M1267.8,296.3 L1296.1,289.7 L1324.5,276.2 L1352.8,256.9 L1352.8,263.8 L1324.5,283.3 L1296.1,296.9 L1267.8,303.7Z" fill="#91939e"/>
<path d="M1281.2,298.9 L1307.8,289.4" stroke="#cbd0d8" stroke-width="1.5" opacity="0.8"/>
<path d="M1353.5,256.4 L1358.0,252.6 L1358.0,257.8 L1353.5,261.8Z" fill="#a1a3ae"/>
<path d="M236.7,282.7 L277.1,299.6 L277.1,309.8 L236.7,292.0Z" fill="#a0a2ad"/>
<path d="M240.4,286.5 L257.7,293.9" stroke="#74666a" stroke-width="1.8" opacity="0.55"/>
<path d="M280.4,302.3 L309.9,313.3 L339.5,322.6 L369.0,329.0 L398.5,334.0 L398.5,342.1 L369.0,337.0 L339.5,330.4 L309.9,321.1 L280.4,310.0Z" fill="#a5a7b2"/>
<path d="M401.0,334.4 L428.9,338.4 L456.7,341.9 L484.6,344.8 L484.6,354.8 L456.7,351.9 L428.9,348.4 L401.0,344.2Z" fill="#848691"/>
<path d="M405.1,340.0 L436.8,344.5" stroke="#584a4e" stroke-width="2.8" opacity="0.55"/>
<path d="M488.2,345.5 L514.2,347.8 L540.3,349.6 L566.4,351.1 L566.4,361.2 L540.3,359.7 L514.2,357.8 L488.2,355.6Z" fill="#a9abb6"/>
<path d="M573.6,349.7 L598.9,350.8 L624.3,351.7 L649.7,352.3 L675.0,352.8 L700.4,353.0 L725.8,353.1 L751.1,353.1 L776.5,352.8 L801.9,352.4 L801.9,364.3 L776.5,364.7 L751.1,364.9 L725.8,365.0 L700.4,364.9 L675.0,364.7 L649.7,364.2 L624.3,363.5 L598.9,362.6 L573.6,361.5Z" fill="#9d9faa"/>
<path d="M807.6,353.2 L834.7,352.5 L861.8,351.7 L888.9,350.6 L916.0,349.4 L916.0,358.5 L888.9,359.7 L861.8,360.8 L834.7,361.7 L807.6,362.3Z" fill="#91939e"/>
<path d="M841.1,354.1 L882.0,352.7" stroke="#cbd0d8" stroke-width="2.4" opacity="0.8"/>
<path d="M832.8,358.2 L875.1,356.8" stroke="#cbd0d8" stroke-width="2.5" opacity="0.8"/>
<path d="M923.8,348.1 L969.9,345.4 L969.9,356.3 L923.8,359.0Z" fill="#afb1bc"/>
<path d="M933.8,355.1 L956.2,353.8" stroke="#837579" stroke-width="1.7" opacity="0.55"/>
<path d="M943.1,353.2 L961.5,352.1" stroke="#e9eef6" stroke-width="1.9" opacity="0.8"/>
<path d="M975.1,344.7 L1001.2,342.9 L1027.4,340.9 L1053.5,338.7 L1079.7,336.2 L1079.7,347.0 L1053.5,349.5 L1027.4,351.8 L1001.2,353.8 L975.1,355.7Z" fill="#8d8f9a"/>
<path d="M1083.4,337.3 L1125.2,332.3 L1125.2,340.7 L1083.4,345.8Z" fill="#b5b7c2"/>
<path d="M1083.7,341.2 L1101.4,339.2" stroke="#eff4fc" stroke-width="1.9" opacity="0.8"/>
<path d="M1132.0,330.7 L1157.6,327.0 L1183.2,322.9 L1208.9,318.6 L1234.5,314.0 L1260.1,309.1 L1260.1,317.8 L1234.5,322.7 L1208.9,327.5 L1183.2,331.8 L1157.6,336.0 L1132.0,339.8Z" fill="#a1a3ae"/>
<path d="M1194.2,323.0 L1240.7,314.7" stroke="#75676b" stroke-width="1.3" opacity="0.55"/>
<path d="M1263.6,309.5 L1306.7,297.0 L1306.7,306.2 L1263.6,319.0Z" fill="#898b96"/>
<path d="M1281.0,312.3 L1300.3,306.1" stroke="#c3c8d0" stroke-width="2.6" opacity="0.8"/>
<path d="M1308.3,294.9 L1357.9,262.4 L1357.9,271.9 L1308.3,305.2Z" fill="#9c9ea9"/>
<path d="M1316.3,292.8 L1338.4,281.0" stroke="#706266" stroke-width="3.0" opacity="0.55"/>
<path d="M236.2,295.2 L260.5,306.3 L260.5,315.6 L236.2,304.0Z" fill="#9496a1"/>
<path d="M240.6,301.4 L246.8,304.3" stroke="#ced3db" stroke-width="1.5" opacity="0.8"/>
<path d="M262.3,307.6 L297.6,322.1 L332.9,334.0 L332.9,343.2 L297.6,331.2 L262.3,316.4Z" fill="#838590"/>
<path d="M285.3,321.0 L310.9,330.5" stroke="#bdc2ca" stroke-width="1.3" opacity="0.8"/>
<path d="M337.1,335.8 L365.5,342.5 L393.9,347.6 L422.3,352.0 L450.7,355.7 L479.1,358.9 L507.5,361.5 L507.5,368.8 L479.1,366.2 L450.7,363.0 L422.3,359.2 L393.9,354.7 L365.5,349.6 L337.1,342.8Z" fill="#8f919c"/>
<path d="M338.6,338.9 L383.9,348.6" stroke="#c9ced6" stroke-width="2.6" opacity="0.8"/>
<path d="M356.2,344.9 L396.9,352.3" stroke="#c9ced6" stroke-width="1.9" opacity="0.8"/>
<path d="M510.4,362.3 L536.9,364.3 L563.5,365.9 L590.0,367.2 L616.6,368.2 L643.1,369.0 L669.7,369.5 L696.2,369.9 L722.8,370.0 L749.3,369.9 L749.3,378.3 L722.8,378.4 L696.2,378.2 L669.7,377.9 L643.1,377.4 L616.6,376.6 L590.0,375.6 L563.5,374.2 L536.9,372.6 L510.4,370.6Z" fill="#a5a7b2"/>
<path d="M616.4,372.5 L721.0,374.3" stroke="#796b6f" stroke-width="2.9" opacity="0.55"/>
<path d="M522.7,367.1 L612.6,371.9" stroke="#dfe4ec" stroke-width="1.5" opacity="0.8"/>
<path d="M755.7,367.9 L781.6,367.6 L807.6,367.2 L833.6,366.5 L859.6,365.7 L885.5,364.7 L911.5,363.5 L937.5,362.2 L963.4,360.6 L963.4,370.8 L937.5,372.4 L911.5,373.8 L885.5,375.0 L859.6,376.1 L833.6,376.9 L807.6,377.6 L781.6,378.0 L755.7,378.3Z" fill="#b3b5c0"/>
<path d="M966.6,362.3 L993.9,360.4 L1021.3,358.2 L1048.7,355.9 L1076.1,353.3 L1103.5,350.2 L1130.9,346.6 L1158.3,342.6 L1158.3,350.9 L1130.9,355.0 L1103.5,358.6 L1076.1,361.7 L1048.7,364.4 L1021.3,366.7 L993.9,368.9 L966.6,370.8Z" fill="#7d7f8a"/>
<path d="M1057.9,360.2 L1129.5,351.9" stroke="#514347" stroke-width="1.3" opacity="0.55"/>
<path d="M1162.1,341.6 L1188.1,337.3 L1214.1,332.7 L1240.1,327.8 L1266.0,322.7 L1292.0,316.9 L1292.0,324.9 L1266.0,330.8 L1240.1,336.0 L1214.1,341.0 L1188.1,345.7 L1162.1,350.1Z" fill="#a9abb6"/>
<path d="M1183.2,339.7 L1231.1,331.1" stroke="#7d6f73" stroke-width="1.8" opacity="0.55"/>
<path d="M1178.4,341.0 L1228.3,332.1" stroke="#7d6f73" stroke-width="2.1" opacity="0.55"/>
<path d="M1294.9,314.9 L1338.6,292.6 L1338.6,300.5 L1294.9,323.0Z" fill="#787a85"/>
<path d="M1315.2,307.6 L1335.0,296.9" stroke="#4c3e42" stroke-width="2.2" opacity="0.55"/>
<path d="M1307.5,312.9 L1328.4,302.1" stroke="#4c3e42" stroke-width="1.6" opacity="0.55"/>
<path d="M1340.0,291.4 L1357.8,275.0 L1357.8,282.7 L1340.0,299.5Z" fill="#9a9ca7"/>
<path d="M1343.9,291.6 L1351.4,284.9" stroke="#d4d9e1" stroke-width="1.8" opacity="0.8"/>
<path d="M1345.2,289.0 L1350.5,284.4" stroke="#d4d9e1" stroke-width="2.8" opacity="0.8"/>
<path d="M236.0,307.4 L246.2,312.4 L246.2,322.3 L236.0,317.0Z" fill="#878994"/>
<path d="M247.8,312.3 L276.5,325.7 L276.5,336.3 L247.8,322.5Z" fill="#898b96"/>
<path d="M249.9,319.2 L264.1,326.2" stroke="#c3c8d0" stroke-width="2.6" opacity="0.8"/>
<path d="M279.5,328.4 L315.1,341.9 L350.7,352.8 L350.7,362.3 L315.1,351.2 L279.5,337.6Z" fill="#9a9ca7"/>
<path d="M313.2,343.0 L344.2,352.8" stroke="#6e6064" stroke-width="1.3" opacity="0.55"/>
<path d="M311.2,346.6 L339.3,355.7" stroke="#6e6064" stroke-width="1.4" opacity="0.55"/>
<path d="M355.6,354.0 L385.3,359.6 L415.0,364.5 L415.0,373.6 L385.3,368.6 L355.6,362.8Z" fill="#7f818c"/>
<path d="M381.1,363.7 L409.0,368.5" stroke="#b9bec6" stroke-width="3.2" opacity="0.8"/>
<path d="M368.2,359.3 L393.1,363.9" stroke="#b9bec6" stroke-width="1.4" opacity="0.8"/>
<path d="M418.4,363.7 L445.5,367.5 L472.7,370.7 L499.9,373.4 L527.1,375.6 L554.2,377.4 L581.4,378.8 L608.6,380.0 L608.6,391.0 L581.4,389.8 L554.2,388.4 L527.1,386.6 L499.9,384.3 L472.7,381.6 L445.5,378.4 L418.4,374.5Z" fill="#a5a7b2"/>
<path d="M613.0,380.2 L657.5,381.4 L657.5,393.7 L613.0,392.4Z" fill="#a3a5b0"/>
<path d="M621.7,388.7 L637.9,389.2" stroke="#dde2ea" stroke-width="1.8" opacity="0.8"/>
<path d="M615.6,386.6 L636.3,387.2" stroke="#77696d" stroke-width="1.4" opacity="0.55"/>
<path d="M662.4,382.5 L689.6,382.9 L716.8,383.1 L744.0,383.0 L771.3,382.8 L798.5,382.4 L825.7,381.8 L852.9,380.9 L880.2,379.9 L907.4,378.7 L907.4,388.2 L880.2,389.5 L852.9,390.5 L825.7,391.3 L798.5,392.0 L771.3,392.4 L744.0,392.6 L716.8,392.7 L689.6,392.5 L662.4,392.1Z" fill="#8d8f9a"/>
<path d="M778.0,387.7 L887.1,384.6" stroke="#c7ccd4" stroke-width="3.4" opacity="0.8"/>
<path d="M731.7,386.3 L819.4,385.1" stroke="#615357" stroke-width="2.4" opacity="0.55"/>
<path d="M912.5,378.3 L938.2,376.9 L963.9,375.3 L963.9,384.9 L938.2,386.6 L912.5,388.0Z" fill="#a3a5b0"/>
<path d="M917.1,382.9 L941.1,381.5" stroke="#77696d" stroke-width="1.5" opacity="0.55"/>
<path d="M916.2,384.5 L931.5,383.7" stroke="#77696d" stroke-width="2.6" opacity="0.55"/>
<path d="M968.4,374.3 L997.5,372.3 L1026.5,369.9 L1055.5,367.3 L1084.5,364.4 L1113.5,360.9 L1113.5,372.0 L1084.5,375.5 L1055.5,378.5 L1026.5,381.2 L997.5,383.6 L968.4,385.7Z" fill="#838590"/>
<path d="M1119.2,360.4 L1169.1,352.9 L1169.1,363.0 L1119.2,370.6Z" fill="#9496a1"/>
<path d="M1172.1,353.1 L1205.7,347.2 L1239.2,340.8 L1239.2,351.2 L1205.7,357.7 L1172.1,363.7Z" fill="#9b9da8"/>
<path d="M1242.5,340.1 L1272.1,334.0 L1301.7,325.1 L1331.4,309.8 L1331.4,317.7 L1301.7,333.1 L1272.1,342.1 L1242.5,348.4Z" fill="#989aa5"/>
<path d="M1333.2,307.1 L1355.8,288.2 L1355.8,298.7 L1333.2,318.1Z" fill="#7b7d88"/>
<path d="M1356.4,287.5 L1358.0,285.8 L1358.0,295.3 L1356.4,297.0Z" fill="#9fa1ac"/>
<path d="M236.0,320.9 L270.9,338.9 L270.9,349.8 L236.0,331.0Z" fill="#9597a2"/>
<path d="M273.6,339.1 L299.5,349.6 L325.4,358.7 L351.4,366.5 L351.4,377.0 L325.4,369.1 L299.5,359.9 L273.6,349.3Z" fill="#9395a0"/>
<path d="M304.8,353.3 L341.2,365.4" stroke="#67595d" stroke-width="2.1" opacity="0.55"/>
<path d="M353.8,368.1 L382.8,373.9 L411.8,378.9 L440.8,383.1 L469.8,386.7 L469.8,396.2 L440.8,392.6 L411.8,388.3 L382.8,383.2 L353.8,377.3Z" fill="#a5a7b2"/>
<path d="M392.5,381.6 L416.8,385.7" stroke="#dfe4ec" stroke-width="2.7" opacity="0.8"/>
<path d="M475.1,386.3 L502.1,389.0 L529.2,391.2 L529.2,403.7 L502.1,401.5 L475.1,398.8Z" fill="#a2a4af"/>
<path d="M535.8,391.2 L561.0,392.8 L586.2,394.1 L611.4,395.1 L611.4,407.4 L586.2,406.3 L561.0,405.0 L535.8,403.4Z" fill="#a3a5b0"/>
<path d="M546.5,394.5 L576.6,396.2" stroke="#dde2ea" stroke-width="2.3" opacity="0.8"/>
<path d="M617.3,395.3 L645.9,396.1 L674.6,396.7 L674.6,408.8 L645.9,408.2 L617.3,407.3Z" fill="#9b9da8"/>
<path d="M643.9,401.5 L660.9,401.9" stroke="#6f6165" stroke-width="2.8" opacity="0.55"/>
<path d="M682.9,398.3 L717.3,398.5 L751.7,398.5 L751.7,408.3 L717.3,408.4 L682.9,408.1Z" fill="#a7a9b4"/>
<path d="M717.2,405.4 L735.2,405.4" stroke="#e1e6ee" stroke-width="1.7" opacity="0.8"/>
<path d="M690.5,403.6 L710.8,403.8" stroke="#7b6d71" stroke-width="2.1" opacity="0.55"/>
<path d="M759.9,397.9 L787.6,397.5 L815.4,396.9 L843.2,396.2 L871.0,395.1 L898.8,393.9 L926.6,392.5 L954.4,390.8 L982.2,388.9 L982.2,400.2 L954.4,402.2 L926.6,403.9 L898.8,405.3 L871.0,406.6 L843.2,407.6 L815.4,408.4 L787.6,409.0 L759.9,409.4Z" fill="#767883"/>
<path d="M814.2,400.0 L860.3,398.6" stroke="#b0b5bd" stroke-width="2.8" opacity="0.8"/>
<path d="M989.1,387.5 L1019.4,385.1 L1049.7,382.4 L1080.0,379.3 L1110.3,375.7 L1110.3,388.1 L1080.0,391.8 L1049.7,395.0 L1019.4,397.7 L989.1,400.2Z" fill="#b0b2bd"/>
<path d="M1025.2,390.2 L1057.6,387.2" stroke="#eaeff7" stroke-width="1.7" opacity="0.8"/>
<path d="M1115.1,376.0 L1144.7,371.8 L1174.4,366.9 L1204.0,361.6 L1233.7,355.8 L1263.3,349.6 L1263.3,360.6 L1233.7,367.0 L1204.0,372.9 L1174.4,378.4 L1144.7,383.3 L1115.1,387.7Z" fill="#868893"/>
<path d="M1265.4,349.5 L1300.6,339.4 L1335.8,320.7 L1335.8,331.0 L1300.6,349.9 L1265.4,360.3Z" fill="#a1a3ae"/>
<path d="M1267.5,353.5 L1282.1,350.2" stroke="#dbe0e8" stroke-width="2.1" opacity="0.8"/>
<path d="M1337.5,319.1 L1358.0,299.7 L1358.0,309.4 L1337.5,329.4Z" fill="#6e707b"/>
<path d="M236.0,334.1 L239.8,336.4 L239.8,341.9 L236.0,339.6Z" fill="#b6b8c3"/>
<path d="M240.2,336.6 L248.9,341.3 L248.9,345.6 L240.2,340.8Z" fill="#999ba6"/>
<path d="M250.5,341.6 L276.4,354.9 L302.2,365.4 L302.2,371.6 L276.4,361.0 L250.5,347.5Z" fill="#c4c6d1"/>
<path d="M268.2,352.4 L293.5,363.3" stroke="#f5faff" stroke-width="1.2" opacity="0.8"/>
<path d="M305.3,366.8 L329.4,375.2 L329.4,381.8 L305.3,373.4Z" fill="#747681"/>
<path d="M309.3,371.1 L320.6,375.1" stroke="#483a3e" stroke-width="2.0" opacity="0.55"/>
<path d="M309.5,371.1 L319.1,374.5" stroke="#aeb3bb" stroke-width="2.9" opacity="0.8"/>
<path d="M331.4,377.6 L361.8,385.9 L392.2,391.9 L422.6,397.1 L453.0,401.3 L453.0,406.0 L422.6,401.7 L392.2,396.5 L361.8,390.4 L331.4,382.1Z" fill="#9698a3"/>
<path d="M351.7,385.3 L400.8,395.2" stroke="#6a5c60" stroke-width="1.6" opacity="0.55"/>
<path d="M376.0,391.4 L430.8,400.9" stroke="#d0d5dd" stroke-width="3.3" opacity="0.8"/>
<path d="M457.2,400.1 L482.8,403.0 L508.4,405.5 L534.0,407.5 L559.5,409.2 L559.5,414.2 L534.0,412.5 L508.4,410.5 L482.8,408.0 L457.2,405.1Z" fill="#9a9ca7"/>
<path d="M483.1,406.1 L526.7,410.0" stroke="#6e6064" stroke-width="2.8" opacity="0.55"/>
<path d="M564.5,409.3 L591.4,410.7 L618.2,411.8 L645.1,412.6 L671.9,413.2 L698.8,413.5 L725.6,413.6 L752.5,413.5 L779.3,413.2 L806.2,412.7 L806.2,418.0 L779.3,418.5 L752.5,418.8 L725.6,418.9 L698.8,418.8 L671.9,418.4 L645.1,417.8 L618.2,417.0 L591.4,415.9 L564.5,414.5Z" fill="#aeb0bb"/>
<path d="M809.4,412.5 L834.6,411.8 L859.8,410.9 L884.9,409.9 L910.1,408.6 L935.3,407.2 L960.4,405.6 L985.6,403.8 L1010.8,401.8 L1010.8,408.4 L985.6,410.4 L960.4,412.2 L935.3,413.9 L910.1,415.3 L884.9,416.6 L859.8,417.6 L834.6,418.5 L809.4,419.2Z" fill="#b0b2bd"/>
<path d="M871.1,411.7 L914.2,409.6" stroke="#eaeff7" stroke-width="3.2" opacity="0.8"/>
<path d="M909.8,412.0 L950.2,409.7" stroke="#eaeff7" stroke-width="3.0" opacity="0.8"/>
<path d="M1017.3,401.8 L1045.2,399.2 L1073.0,396.4 L1100.9,393.1 L1128.8,389.3 L1156.7,385.0 L1184.6,380.1 L1212.5,374.8 L1212.5,380.2 L1184.6,385.5 L1156.7,390.4 L1128.8,394.8 L1100.9,398.6 L1073.0,401.9 L1045.2,404.7 L1017.3,407.3Z" fill="#aeb0bb"/>
<path d="M1215.8,373.8 L1243.7,368.0 L1271.6,361.8 L1271.6,366.9 L1243.7,373.2 L1215.8,379.0Z" fill="#a0a2ad"/>
<path d="M1273.4,361.5 L1304.3,351.2 L1304.3,355.6 L1273.4,366.0Z" fill="#9c9ea9"/>
<path d="M1282.7,361.8 L1296.2,357.5" stroke="#d6dbe3" stroke-width="1.6" opacity="0.8"/>
<path d="M1274.6,362.3 L1288.4,359.0" stroke="#d6dbe3" stroke-width="1.3" opacity="0.8"/>
<path d="M1306.3,351.7 L1332.1,337.8 L1358.0,314.1 L1358.0,318.4 L1332.1,342.3 L1306.3,356.3Z" fill="#999ba6"/>
<path d="M236.0,342.9 L263.3,358.8 L263.3,362.5 L236.0,346.4Z" fill="#a6a8b3"/>
<path d="M242.1,348.5 L248.5,352.1" stroke="#7a6c70" stroke-width="2.6" opacity="0.55"/>
<path d="M264.5,359.5 L291.3,371.6 L318.1,381.7 L345.0,390.4 L371.8,396.7 L371.8,401.0 L345.0,394.6 L318.1,385.9 L291.3,375.8 L264.5,363.6Z" fill="#a8aab5"/>
<path d="M374.6,397.7 L402.6,403.1 L430.7,407.6 L458.7,411.5 L458.7,414.2 L430.7,410.4 L402.6,405.8 L374.6,400.4Z" fill="#a5a7b2"/>
<path d="M401.8,404.0 L434.0,409.2" stroke="#dfe4ec" stroke-width="2.0" opacity="0.8"/>
<path d="M462.0,411.1 L488.2,414.0 L514.4,416.4 L540.5,418.4 L566.7,420.1 L592.9,421.4 L619.1,422.5 L645.2,423.3 L671.4,423.8 L697.6,424.2 L697.6,429.9 L671.4,429.5 L645.2,429.0 L619.1,428.1 L592.9,427.1 L566.7,425.7 L540.5,424.1 L514.4,422.0 L488.2,419.6 L462.0,416.7Z" fill="#878994"/>
<path d="M702.5,423.7 L728.0,423.8 L753.5,423.7 L778.9,423.4 L804.4,422.9 L829.9,422.2 L855.3,421.4 L880.8,420.3 L906.3,419.1 L906.3,423.3 L880.8,424.6 L855.3,425.6 L829.9,426.5 L804.4,427.2 L778.9,427.6 L753.5,427.9 L728.0,428.0 L702.5,427.9Z" fill="#a8aab5"/>
<path d="M757.1,426.5 L823.4,425.2" stroke="#7c6e72" stroke-width="3.3" opacity="0.55"/>
<path d="M910.4,420.3 L938.5,418.6 L966.6,416.8 L994.8,414.6 L1022.9,412.2 L1051.0,409.6 L1079.1,406.6 L1107.2,403.2 L1135.3,399.1 L1135.3,403.0 L1107.2,407.1 L1079.1,410.5 L1051.0,413.5 L1022.9,416.2 L994.8,418.6 L966.6,420.7 L938.5,422.6 L910.4,424.3Z" fill="#c6c8d3"/>
<path d="M1140.0,397.0 L1165.4,392.8 L1190.7,388.2 L1216.1,383.3 L1216.1,389.2 L1190.7,394.2 L1165.4,398.8 L1140.0,403.0Z" fill="#a7a9b4"/>
<path d="M1142.3,399.2 L1168.3,394.9" stroke="#e1e6ee" stroke-width="1.7" opacity="0.8"/>
<path d="M1221.8,382.8 L1248.8,377.0 L1275.7,370.7 L1302.7,361.5 L1302.7,366.3 L1275.7,375.5 L1248.8,381.9 L1221.8,387.8Z" fill="#abadb8"/>
<path d="M1304.1,360.7 L1327.7,348.3 L1327.7,353.4 L1304.1,365.9Z" fill="#81838e"/>
<path d="M1308.5,360.1 L1319.0,354.7" stroke="#bbc0c8" stroke-width="3.4" opacity="0.8"/>
<path d="M1315.2,357.1 L1323.3,352.7" stroke="#55474b" stroke-width="1.7" opacity="0.55"/>
<path d="M1329.3,346.6 L1358.0,320.7 L1358.0,325.7 L1329.3,351.9Z" fill="#92949f"/>
<path d="M1342.6,340.3 L1352.9,330.1" stroke="#ccd1d9" stroke-width="2.6" opacity="0.8"/>
<path d="M237.1,352.7 L263.7,368.7 L290.4,381.0 L290.4,392.8 L263.7,380.2 L237.1,363.5Z" fill="#9ea0ab"/>
<path d="M237.4,355.7 L255.0,366.5" stroke="#d8dde5" stroke-width="1.3" opacity="0.8"/>
<path d="M292.6,380.5 L322.4,391.5 L352.3,400.8 L382.1,407.3 L382.1,421.4 L352.3,414.7 L322.4,405.2 L292.6,394.0Z" fill="#adafba"/>
<path d="M307.8,393.8 L326.5,400.4" stroke="#e7ecf4" stroke-width="3.5" opacity="0.8"/>
<path d="M384.6,408.4 L412.3,413.5 L440.0,417.8 L440.0,429.7 L412.3,425.3 L384.6,420.2Z" fill="#a9abb6"/>
<path d="M407.6,417.8 L427.9,421.1" stroke="#e3e8f0" stroke-width="1.6" opacity="0.8"/>
<path d="M445.9,419.4 L481.1,423.7 L481.1,435.0 L445.9,430.7Z" fill="#999ba6"/>
<path d="M461.0,427.8 L478.4,429.8" stroke="#d3d8e0" stroke-width="2.1" opacity="0.8"/>
<path d="M451.1,425.7 L458.9,426.8" stroke="#d3d8e0" stroke-width="3.1" opacity="0.8"/>
<path d="M486.7,423.2 L513.6,425.7 L540.5,427.8 L540.5,441.9 L513.6,439.7 L486.7,437.2Z" fill="#8a8c97"/>
<path d="M490.9,433.1 L506.7,434.6" stroke="#c4c9d1" stroke-width="2.1" opacity="0.8"/>
<path d="M547.3,429.5 L574.6,431.1 L601.9,432.5 L629.1,433.5 L656.4,434.2 L683.7,434.7 L710.9,435.0 L738.2,435.0 L765.5,434.8 L765.5,446.9 L738.2,447.1 L710.9,447.1 L683.7,446.8 L656.4,446.3 L629.1,445.6 L601.9,444.5 L574.6,443.2 L547.3,441.5Z" fill="#6f717c"/>
<path d="M560.0,436.1 L611.8,438.7" stroke="#433539" stroke-width="2.9" opacity="0.55"/>
<path d="M594.8,435.7 L643.4,437.5" stroke="#a9aeb6" stroke-width="2.3" opacity="0.8"/>
<path d="M773.4,433.5 L798.7,433.1 L824.0,432.4 L849.3,431.6 L874.6,430.6 L899.9,429.4 L925.2,428.0 L950.5,426.4 L975.8,424.6 L975.8,438.5 L950.5,440.3 L925.2,441.9 L899.9,443.4 L874.6,444.6 L849.3,445.6 L824.0,446.5 L798.7,447.1 L773.4,447.5Z" fill="#91939e"/>
<path d="M857.2,436.4 L916.9,433.5" stroke="#cbd0d8" stroke-width="3.4" opacity="0.8"/>
<path d="M805.6,442.3 L869.9,440.2" stroke="#cbd0d8" stroke-width="1.5" opacity="0.8"/>
<path d="M983.3,423.1 L1012.2,420.8 L1041.0,418.1 L1069.9,415.2 L1069.9,430.0 L1041.0,432.9 L1012.2,435.7 L983.3,438.1Z" fill="#858792"/>
<path d="M1077.6,415.6 L1107.2,412.0 L1136.7,407.7 L1166.3,402.8 L1195.9,397.3 L1225.4,391.3 L1225.4,404.4 L1195.9,410.6 L1166.3,416.2 L1136.7,421.2 L1107.2,425.6 L1077.6,429.3Z" fill="#afb1bc"/>
<path d="M1227.8,390.9 L1255.8,384.7 L1283.9,377.8 L1311.9,365.9 L1339.9,349.5 L1339.9,361.0 L1311.9,377.7 L1283.9,389.7 L1255.8,396.8 L1227.8,403.2Z" fill="#c1c3ce"/>
<path d="M1258.4,387.7 L1282.4,381.7" stroke="#f5faff" stroke-width="3.4" opacity="0.8"/>
<path d="M1342.1,346.5 L1354.6,333.4 L1354.6,344.5 L1342.1,357.9Z" fill="#a5a7b2"/>
<path d="M1344.5,346.1 L1347.7,343.2" stroke="#dfe4ec" stroke-width="1.9" opacity="0.8"/>
<path d="M1342.9,351.5 L1345.9,348.8" stroke="#dfe4ec" stroke-width="1.5" opacity="0.8"/>
<path d="M1355.4,332.8 L1358.0,329.4 L1358.0,341.5 L1355.4,345.0Z" fill="#6e707b"/>
<path d="M236.0,365.8 L249.6,374.8 L249.6,382.8 L236.0,373.4Z" fill="#babcc7"/>
<path d="M251.5,376.6 L279.8,392.2 L308.2,403.8 L336.5,413.6 L364.8,421.4 L364.8,427.6 L336.5,419.7 L308.2,409.8 L279.8,398.2 L251.5,382.3Z" fill="#9a9ca7"/>
<path d="M278.3,395.2 L326.1,413.9" stroke="#d4d9e1" stroke-width="3.2" opacity="0.8"/>
<path d="M274.6,392.2 L315.5,408.9" stroke="#d4d9e1" stroke-width="1.5" opacity="0.8"/>
<path d="M367.7,423.0 L393.4,428.4 L419.1,433.0 L444.8,437.0 L470.5,440.3 L470.5,447.3 L444.8,443.9 L419.1,439.9 L393.4,435.2 L367.7,429.8Z" fill="#a9abb6"/>
<path d="M417.2,434.4 L463.6,441.2" stroke="#e3e8f0" stroke-width="1.8" opacity="0.8"/>
<path d="M370.4,425.4 L421.1,435.2" stroke="#e3e8f0" stroke-width="3.2" opacity="0.8"/>
<path d="M474.8,441.1 L502.5,444.0 L530.2,446.4 L530.2,451.9 L502.5,449.5 L474.8,446.6Z" fill="#c4c6d1"/>
<path d="M494.1,445.1 L509.8,446.6" stroke="#f5faff" stroke-width="2.5" opacity="0.8"/>
<path d="M491.1,444.7 L505.9,446.1" stroke="#f5faff" stroke-width="2.5" opacity="0.8"/>
<path d="M532.9,446.2 L561.2,448.1 L589.5,449.7 L617.8,450.9 L646.0,451.8 L674.3,452.4 L702.6,452.8 L702.6,458.8 L674.3,458.4 L646.0,457.8 L617.8,456.9 L589.5,455.7 L561.2,454.1 L532.9,452.1Z" fill="#a7a9b4"/>
<path d="M603.8,454.1 L652.3,455.7" stroke="#7b6d71" stroke-width="1.8" opacity="0.55"/>
<path d="M709.0,452.9 L742.4,452.9 L775.8,452.6 L775.8,459.6 L742.4,459.9 L709.0,459.9Z" fill="#a3a5b0"/>
<path d="M717.9,455.7 L733.9,455.7" stroke="#dde2ea" stroke-width="3.0" opacity="0.8"/>
<path d="M781.8,452.0 L808.0,451.4 L834.2,450.7 L860.3,449.7 L860.3,455.6 L834.2,456.6 L808.0,457.3 L781.8,457.9Z" fill="#737580"/>
<path d="M815.1,453.5 L849.1,452.4" stroke="#adb2ba" stroke-width="3.2" opacity="0.8"/>
<path d="M867.0,449.1 L897.2,447.7 L927.4,446.0 L957.6,444.0 L987.8,441.6 L987.8,449.7 L957.6,452.1 L927.4,454.1 L897.2,455.8 L867.0,457.3Z" fill="#9ea0ab"/>
<path d="M996.1,441.8 L1025.9,439.1 L1055.7,436.2 L1085.5,432.8 L1115.3,428.9 L1115.3,435.6 L1085.5,439.6 L1055.7,443.0 L1025.9,446.0 L996.1,448.7Z" fill="#8e909b"/>
<path d="M1022.3,441.9 L1078.6,436.0" stroke="#625458" stroke-width="1.4" opacity="0.55"/>
<path d="M1015.4,443.0 L1039.2,440.7" stroke="#c8cdd5" stroke-width="1.2" opacity="0.8"/>
<path d="M1122.0,427.2 L1148.3,423.1 L1174.6,418.4 L1200.9,413.3 L1227.2,407.7 L1253.5,401.7 L1279.8,395.0 L1279.8,402.3 L1253.5,409.2 L1227.2,415.3 L1200.9,420.9 L1174.6,426.1 L1148.3,430.8 L1122.0,435.0Z" fill="#6e707b"/>
<path d="M1164.1,425.4 L1230.6,411.9" stroke="#423438" stroke-width="3.1" opacity="0.55"/>
<path d="M1156.8,426.7 L1220.7,414.1" stroke="#a8adb5" stroke-width="3.2" opacity="0.8"/>
<path d="M1281.9,395.4 L1331.7,371.7 L1331.7,377.7 L1281.9,401.5Z" fill="#858792"/>
<path d="M1333.5,368.6 L1358.0,344.0 L1358.0,351.2 L1333.5,376.3Z" fill="#686a75"/>
<path d="M237.0,378.7 L275.8,403.0 L275.8,408.9 L237.0,384.0Z" fill="#8d8f9a"/>
<path d="M250.4,391.9 L259.1,397.6" stroke="#c7ccd4" stroke-width="2.9" opacity="0.8"/>
<path d="M238.2,383.5 L246.1,389.1" stroke="#c7ccd4" stroke-width="2.2" opacity="0.8"/>
<path d="M278.3,402.7 L304.9,413.9 L331.5,423.4 L358.1,431.4 L384.7,437.4 L411.3,442.5 L411.3,449.8 L384.7,444.6 L358.1,438.6 L331.5,430.5 L304.9,420.9 L278.3,409.7Z" fill="#a0a2ad"/>
<path d="M304.4,415.5 L334.5,426.3" stroke="#dadfe7" stroke-width="1.3" opacity="0.8"/>
<path d="M417.2,444.1 L443.5,448.3 L469.9,451.8 L496.3,454.7 L522.6,457.1 L549.0,459.1 L575.4,460.7 L601.7,462.0 L628.1,463.1 L628.1,470.8 L601.7,469.8 L575.4,468.4 L549.0,466.8 L522.6,464.8 L496.3,462.3 L469.9,459.4 L443.5,455.9 L417.2,451.7Z" fill="#888a95"/>
<path d="M514.0,461.0 L581.3,465.7" stroke="#c2c7cf" stroke-width="2.2" opacity="0.8"/>
<path d="M634.0,463.3 L661.6,464.0 L689.2,464.5 L716.8,464.7 L744.5,464.7 L772.1,464.4 L799.7,463.9 L827.3,463.2 L855.0,462.2 L882.6,461.0 L882.6,468.0 L855.0,469.3 L827.3,470.2 L799.7,471.0 L772.1,471.5 L744.5,471.8 L716.8,471.8 L689.2,471.6 L661.6,471.1 L634.0,470.4Z" fill="#a0a2ad"/>
<path d="M711.0,467.8 L787.2,467.3" stroke="#74666a" stroke-width="3.3" opacity="0.55"/>
<path d="M725.7,469.1 L790.6,468.5" stroke="#dadfe7" stroke-width="2.2" opacity="0.8"/>
<path d="M886.9,461.5 L913.1,460.1 L939.3,458.5 L965.6,456.6 L991.8,454.5 L991.8,461.1 L965.6,463.2 L939.3,465.1 L913.1,466.7 L886.9,468.1Z" fill="#aeb0bb"/>
<path d="M934.8,460.2 L968.3,457.8" stroke="#e8edf5" stroke-width="1.6" opacity="0.8"/>
<path d="M995.7,453.0 L1040.1,448.8 L1040.1,455.0 L995.7,459.2Z" fill="#afb1bc"/>
<path d="M1045.5,447.9 L1071.7,445.1 L1098.0,441.8 L1124.3,438.1 L1124.3,445.9 L1098.0,449.7 L1071.7,453.0 L1045.5,455.8Z" fill="#91939e"/>
<path d="M1128.5,437.2 L1155.1,432.8 L1181.7,427.8 L1208.3,422.4 L1235.0,416.5 L1261.6,410.2 L1261.6,418.1 L1235.0,424.5 L1208.3,430.5 L1181.7,436.0 L1155.1,441.0 L1128.5,445.4Z" fill="#9799a4"/>
<path d="M1160.6,433.8 L1195.6,427.1" stroke="#6b5d61" stroke-width="2.0" opacity="0.55"/>
<path d="M1174.0,431.6 L1221.8,421.8" stroke="#d1d6de" stroke-width="2.2" opacity="0.8"/>
<path d="M1264.4,410.0 L1303.3,397.1 L1303.3,404.5 L1264.4,417.6Z" fill="#9d9faa"/>
<path d="M1275.6,410.2 L1286.6,407.1" stroke="#716367" stroke-width="2.8" opacity="0.55"/>
<path d="M1305.4,397.4 L1336.4,379.4 L1336.4,384.7 L1305.4,402.9Z" fill="#c5c7d2"/>
<path d="M1307.1,399.6 L1317.2,394.2" stroke="#998b8f" stroke-width="1.5" opacity="0.55"/>
<path d="M1338.5,376.1 L1356.7,356.2 L1356.7,363.1 L1338.5,383.3Z" fill="#a2a4af"/>
<path d="M236.0,386.4 L250.5,396.9 L250.5,412.0 L236.0,400.8Z" fill="#aaacb7"/>
<path d="M240.2,397.0 L246.1,401.1" stroke="#e4e9f1" stroke-width="1.9" opacity="0.8"/>
<path d="M242.7,397.3 L248.4,401.2" stroke="#7e7074" stroke-width="2.2" opacity="0.55"/>
<path d="M252.3,398.7 L282.9,416.0 L313.5,428.5 L313.5,443.2 L282.9,430.6 L252.3,412.6Z" fill="#848691"/>
<path d="M269.5,417.6 L288.9,426.4" stroke="#bec3cb" stroke-width="2.5" opacity="0.8"/>
<path d="M317.4,429.3 L350.5,440.4 L383.6,448.2 L383.6,463.9 L350.5,455.8 L317.4,444.6Z" fill="#858792"/>
<path d="M329.5,440.5 L357.1,449.1" stroke="#bfc4cc" stroke-width="2.8" opacity="0.8"/>
<path d="M388.6,449.1 L416.6,454.5 L444.6,459.0 L444.6,474.7 L416.6,470.1 L388.6,464.6Z" fill="#7d7f8a"/>
<path d="M403.0,461.8 L420.9,465.0" stroke="#b7bcc4" stroke-width="1.8" opacity="0.8"/>
<path d="M450.1,459.8 L480.7,463.6 L511.3,466.7 L541.9,469.2 L541.9,484.1 L511.3,481.6 L480.7,478.4 L450.1,474.5Z" fill="#9a9ca7"/>
<path d="M467.0,465.4 L504.2,469.5" stroke="#d4d9e1" stroke-width="3.0" opacity="0.8"/>
<path d="M549.6,470.1 L576.2,471.8 L602.8,473.1 L629.5,474.2 L656.1,474.9 L682.7,475.4 L709.3,475.7 L735.9,475.8 L762.6,475.6 L789.2,475.2 L789.2,491.6 L762.6,492.0 L735.9,492.2 L709.3,492.1 L682.7,491.8 L656.1,491.3 L629.5,490.5 L602.8,489.5 L576.2,488.1 L549.6,486.4Z" fill="#91939e"/>
<path d="M561.4,481.4 L659.9,485.6" stroke="#65575b" stroke-width="1.7" opacity="0.55"/>
<path d="M796.2,475.2 L824.0,474.5 L851.8,473.5 L879.7,472.3 L907.5,470.9 L935.3,469.1 L935.3,484.0 L907.5,485.7 L879.7,487.2 L851.8,488.4 L824.0,489.4 L796.2,490.2Z" fill="#82848f"/>
<path d="M865.4,479.2 L898.8,477.6" stroke="#56484c" stroke-width="2.2" opacity="0.55"/>
<path d="M835.5,479.9 L887.3,477.7" stroke="#56484c" stroke-width="2.2" opacity="0.55"/>
<path d="M943.9,470.0 L976.6,467.5 L1009.3,464.7 L1042.0,461.5 L1042.0,476.2 L1009.3,479.5 L976.6,482.4 L943.9,484.9Z" fill="#6f717c"/>
<path d="M954.2,476.7 L996.2,473.3" stroke="#a9aeb6" stroke-width="3.4" opacity="0.8"/>
<path d="M1046.2,459.8 L1071.5,457.0 L1096.9,453.9 L1122.2,450.2 L1147.6,446.1 L1172.9,441.5 L1198.3,436.4 L1223.6,430.9 L1223.6,446.5 L1198.3,452.2 L1172.9,457.3 L1147.6,462.1 L1122.2,466.3 L1096.9,470.0 L1071.5,473.2 L1046.2,476.0Z" fill="#9ea0ab"/>
<path d="M1077.9,467.3 L1119.7,461.5" stroke="#d8dde5" stroke-width="3.4" opacity="0.8"/>
<path d="M1084.1,458.6 L1135.0,451.3" stroke="#d8dde5" stroke-width="2.0" opacity="0.8"/>
<path d="M1228.4,429.5 L1254.4,423.3 L1280.4,416.2 L1306.5,405.9 L1332.5,391.0 L1332.5,405.9 L1306.5,421.0 L1280.4,431.5 L1254.4,438.8 L1228.4,445.3Z" fill="#787a85"/>
<path d="M1228.7,433.0 L1252.1,427.4" stroke="#4c3e42" stroke-width="2.1" opacity="0.55"/>
<path d="M1280.1,422.4 L1320.0,404.5" stroke="#b2b7bf" stroke-width="2.8" opacity="0.8"/>
<path d="M1334.6,390.5 L1344.8,382.3 L1344.8,395.9 L1334.6,404.2Z" fill="#6f717c"/>
<path d="M1338.9,394.9 L1342.0,392.3" stroke="#a9aeb6" stroke-width="1.7" opacity="0.8"/>
<path d="M1337.4,390.7 L1342.2,386.7" stroke="#433539" stroke-width="2.6" opacity="0.55"/>
<path d="M1345.8,379.9 L1358.0,363.9 L1358.0,378.2 L1345.8,394.9Z" fill="#81838e"/>
<path d="M1347.7,381.2 L1352.3,375.6" stroke="#bbc0c8" stroke-width="2.6" opacity="0.8"/>
<path d="M236.0,404.3 L246.1,412.5 L246.1,421.2 L236.0,412.7Z" fill="#aaacb7"/>
<path d="M240.5,411.6 L243.2,413.5" stroke="#e4e9f1" stroke-width="2.7" opacity="0.8"/>
<path d="M236.9,410.1 L240.3,413.3" stroke="#e4e9f1" stroke-width="1.9" opacity="0.8"/>
<path d="M246.9,412.2 L279.9,432.7 L312.9,446.5 L345.9,458.0 L345.9,467.7 L312.9,456.1 L279.9,442.2 L246.9,421.2Z" fill="#8e909b"/>
<path d="M265.0,427.0 L314.5,449.4" stroke="#c8cdd5" stroke-width="2.3" opacity="0.8"/>
<path d="M259.1,424.6 L306.4,448.0" stroke="#c8cdd5" stroke-width="1.2" opacity="0.8"/>
<path d="M351.1,460.9 L376.4,467.3 L401.7,472.8 L427.0,477.4 L452.3,481.3 L452.3,489.2 L427.0,485.2 L401.7,480.6 L376.4,475.0 L351.1,468.5Z" fill="#b6b8c3"/>
<path d="M454.7,481.9 L487.5,486.0 L520.2,489.2 L553.0,491.8 L553.0,500.4 L520.2,497.8 L487.5,494.6 L454.7,490.5Z" fill="#abadb8"/>
<path d="M557.3,491.0 L582.7,492.6 L608.1,493.8 L633.4,494.8 L658.8,495.5 L658.8,504.8 L633.4,504.1 L608.1,503.1 L582.7,501.9 L557.3,500.3Z" fill="#7c7e89"/>
<path d="M561.6,493.7 L604.5,496.0" stroke="#b6bbc3" stroke-width="3.0" opacity="0.8"/>
<path d="M589.3,496.9 L612.1,498.0" stroke="#504246" stroke-width="2.4" opacity="0.55"/>
<path d="M665.0,494.8 L692.7,495.3 L720.4,495.5 L748.2,495.4 L775.9,495.1 L803.6,494.5 L831.4,493.7 L859.1,492.7 L886.8,491.4 L914.5,489.8 L914.5,499.8 L886.8,501.4 L859.1,502.7 L831.4,503.8 L803.6,504.6 L775.9,505.2 L748.2,505.5 L720.4,505.6 L692.7,505.4 L665.0,504.9Z" fill="#b8bac5"/>
<path d="M706.5,500.6 L815.0,499.4" stroke="#f2f7ff" stroke-width="2.0" opacity="0.8"/>
<path d="M917.5,490.6 L945.2,488.8 L972.9,486.7 L1000.6,484.3 L1028.3,481.6 L1056.0,478.7 L1083.7,475.4 L1111.3,471.6 L1139.0,467.2 L1139.0,476.0 L1111.3,480.5 L1083.7,484.3 L1056.0,487.6 L1028.3,490.6 L1000.6,493.3 L972.9,495.7 L945.2,497.9 L917.5,499.7Z" fill="#acaeb9"/>
<path d="M957.1,490.6 L1044.7,482.5" stroke="#807276" stroke-width="3.4" opacity="0.55"/>
<path d="M940.0,492.9 L1006.7,487.4" stroke="#e6ebf3" stroke-width="1.8" opacity="0.8"/>
<path d="M1142.9,465.9 L1171.7,460.6 L1200.5,454.7 L1229.4,448.1 L1258.2,440.9 L1258.2,451.0 L1229.4,458.3 L1200.5,465.0 L1171.7,471.0 L1142.9,476.4Z" fill="#7a7c87"/>
<path d="M1261.9,440.3 L1291.4,431.5 L1320.9,416.4 L1350.4,393.8 L1350.4,402.4 L1320.9,425.2 L1291.4,440.3 L1261.9,449.4Z" fill="#9fa1ac"/>
<path d="M1263.7,443.3 L1300.9,430.7" stroke="#736569" stroke-width="2.0" opacity="0.55"/>
<path d="M1351.3,391.9 L1358.0,381.2 L1358.0,390.2 L1351.3,401.3Z" fill="#858792"/>
<path d="M236.0,416.7 L238.5,419.1 L238.5,430.7 L236.0,428.1Z" fill="#9a9ca7"/>
<path d="M239.4,419.1 L275.6,444.2 L275.6,457.5 L239.4,431.5Z" fill="#a3a5b0"/>
<path d="M239.8,422.4 L253.2,432.7" stroke="#77696d" stroke-width="3.4" opacity="0.55"/>
<path d="M254.2,433.0 L265.7,441.3" stroke="#dde2ea" stroke-width="1.5" opacity="0.8"/>
<path d="M277.7,446.8 L304.8,458.7 L304.8,470.1 L277.7,458.2Z" fill="#7e808b"/>
<path d="M279.7,452.2 L286.8,455.5" stroke="#524448" stroke-width="2.2" opacity="0.55"/>
<path d="M306.8,459.5 L337.9,470.8 L369.0,479.9 L369.0,492.4 L337.9,483.1 L306.8,471.6Z" fill="#6c6e79"/>
<path d="M318.8,468.0 L349.5,478.7" stroke="#a6abb3" stroke-width="1.4" opacity="0.8"/>
<path d="M372.7,479.1 L399.3,485.1 L425.9,490.1 L452.5,494.3 L479.1,497.8 L505.7,500.7 L532.3,503.1 L558.9,505.0 L558.9,518.0 L532.3,516.0 L505.7,513.6 L479.1,510.7 L452.5,507.2 L425.9,502.9 L399.3,497.8 L372.7,491.7Z" fill="#888a95"/>
<path d="M563.0,505.3 L589.7,506.9 L616.5,508.1 L643.2,509.0 L670.0,509.7 L670.0,523.8 L643.2,523.1 L616.5,522.1 L589.7,520.8 L563.0,519.2Z" fill="#9ea0ab"/>
<path d="M597.5,509.4 L645.1,511.2" stroke="#d8dde5" stroke-width="1.5" opacity="0.8"/>
<path d="M674.7,511.2 L699.7,511.6 L724.8,511.7 L749.8,511.6 L774.8,511.3 L774.8,524.5 L749.8,524.7 L724.8,524.8 L699.7,524.7 L674.7,524.3Z" fill="#8d8f9a"/>
<path d="M720.0,520.7 L767.5,520.4" stroke="#c7ccd4" stroke-width="1.5" opacity="0.8"/>
<path d="M781.3,511.5 L808.0,510.9 L834.6,510.1 L861.2,509.0 L887.8,507.7 L914.4,506.2 L914.4,519.1 L887.8,520.7 L861.2,522.0 L834.6,523.1 L808.0,523.9 L781.3,524.5Z" fill="#8d8f9a"/>
<path d="M842.7,513.2 L881.8,511.4" stroke="#615357" stroke-width="1.4" opacity="0.55"/>
<path d="M807.9,519.3 L848.3,517.9" stroke="#615357" stroke-width="2.6" opacity="0.55"/>
<path d="M917.7,505.2 L948.0,503.1 L978.2,500.7 L1008.5,498.0 L1008.5,512.2 L978.2,514.9 L948.0,517.4 L917.7,519.5Z" fill="#b2b4bf"/>
<path d="M927.8,511.4 L947.3,510.0" stroke="#86787c" stroke-width="2.6" opacity="0.55"/>
<path d="M1012.0,497.6 L1061.6,492.3 L1061.6,506.4 L1012.0,511.8Z" fill="#9799a4"/>
<path d="M1031.0,501.2 L1048.2,499.4" stroke="#d1d6de" stroke-width="1.6" opacity="0.8"/>
<path d="M1023.9,505.2 L1039.5,503.5" stroke="#d1d6de" stroke-width="3.1" opacity="0.8"/>
<path d="M1069.0,491.0 L1102.3,486.6 L1135.6,481.4 L1168.8,475.3 L1168.8,489.6 L1135.6,495.8 L1102.3,501.2 L1069.0,505.6Z" fill="#9d9faa"/>
<path d="M1095.7,494.2 L1116.0,491.2" stroke="#d7dce4" stroke-width="1.9" opacity="0.8"/>
<path d="M1172.7,475.2 L1204.0,468.6 L1235.3,461.1 L1235.3,474.1 L1204.0,481.7 L1172.7,488.4Z" fill="#a8aab5"/>
<path d="M1184.1,477.1 L1196.7,474.4" stroke="#e2e7ef" stroke-width="2.0" opacity="0.8"/>
<path d="M1239.1,460.9 L1264.4,454.2 L1264.4,466.2 L1239.1,473.1Z" fill="#a3a5b0"/>
<path d="M1248.6,463.3 L1259.6,460.4" stroke="#77696d" stroke-width="2.8" opacity="0.55"/>
<path d="M1246.1,466.8 L1251.7,465.3" stroke="#77696d" stroke-width="1.4" opacity="0.55"/>
<path d="M1268.1,451.5 L1297.4,441.6 L1297.4,453.8 L1268.1,464.0Z" fill="#6e707b"/>
<path d="M1301.0,439.6 L1321.2,428.4 L1321.2,440.4 L1301.0,451.6Z" fill="#a7a9b4"/>
<path d="M1308.5,442.0 L1316.3,437.7" stroke="#7b6d71" stroke-width="2.8" opacity="0.55"/>
<path d="M1323.2,428.2 L1336.6,419.2 L1336.6,429.9 L1323.2,439.1Z" fill="#878994"/>
<path d="M1327.9,429.6 L1332.0,426.9" stroke="#c1c6ce" stroke-width="2.1" opacity="0.8"/>
<path d="M1327.3,430.2 L1333.7,425.8" stroke="#c1c6ce" stroke-width="2.6" opacity="0.8"/>
<path d="M1337.7,418.4 L1350.1,407.2 L1350.1,419.2 L1337.7,430.5Z" fill="#adafba"/>
<path d="M1351.3,404.7 L1358.0,393.4 L1358.0,405.3 L1351.3,417.1Z" fill="#aaacb7"/>
<path d="M236.1,432.0 L274.5,461.1 L274.5,469.1 L236.1,439.3Z" fill="#9799a4"/>
<path d="M276.9,461.4 L304.1,473.5 L331.3,483.7 L358.6,492.6 L385.8,499.5 L413.0,505.2 L413.0,515.1 L385.8,509.3 L358.6,502.3 L331.3,493.3 L304.1,483.0 L276.9,470.8Z" fill="#9799a4"/>
<path d="M417.9,507.7 L443.4,512.1 L468.8,515.7 L494.2,518.8 L519.6,521.3 L545.0,523.4 L570.4,525.2 L570.4,534.0 L545.0,532.2 L519.6,530.1 L494.2,527.5 L468.8,524.5 L443.4,520.8 L417.9,516.4Z" fill="#a1a3ae"/>
<path d="M474.7,520.4 L540.7,527.0" stroke="#75676b" stroke-width="3.1" opacity="0.55"/>
<path d="M575.7,525.6 L601.0,526.9 L626.4,528.0 L651.7,528.9 L677.1,529.4 L702.4,529.8 L727.8,529.9 L753.1,529.8 L778.5,529.4 L803.8,528.9 L829.2,528.1 L829.2,536.4 L803.8,537.2 L778.5,537.7 L753.1,538.1 L727.8,538.2 L702.4,538.1 L677.1,537.7 L651.7,537.1 L626.4,536.3 L601.0,535.2 L575.7,533.8Z" fill="#abadb8"/>
<path d="M601.3,531.4 L672.0,533.8" stroke="#e5eaf2" stroke-width="2.5" opacity="0.8"/>
<path d="M832.7,526.7 L859.8,525.6 L886.8,524.3 L913.9,522.7 L941.0,520.9 L968.1,518.8 L995.2,516.4 L995.2,527.3 L968.1,529.7 L941.0,531.8 L913.9,533.7 L886.8,535.3 L859.8,536.7 L832.7,537.8Z" fill="#bcbec9"/>
<path d="M842.3,532.1 L892.7,529.7" stroke="#f5faff" stroke-width="2.4" opacity="0.8"/>
<path d="M998.0,516.4 L1026.4,513.6 L1054.7,510.4 L1054.7,520.0 L1026.4,523.2 L998.0,526.0Z" fill="#b6b8c3"/>
<path d="M1006.3,518.7 L1028.3,516.5" stroke="#f0f5fd" stroke-width="2.3" opacity="0.8"/>
<path d="M1012.7,521.0 L1029.9,519.2" stroke="#f0f5fd" stroke-width="2.5" opacity="0.8"/>
<path d="M1059.1,510.0 L1092.2,505.8 L1125.3,500.8 L1158.4,494.9 L1158.4,505.5 L1125.3,511.6 L1092.2,516.6 L1059.1,520.9Z" fill="#71737e"/>
<path d="M1163.1,494.0 L1188.8,488.7 L1214.4,482.8 L1240.1,476.4 L1240.1,484.8 L1214.4,491.4 L1188.8,497.3 L1163.1,502.7Z" fill="#9a9ca7"/>
<path d="M1165.5,497.8 L1198.3,490.9" stroke="#d4d9e1" stroke-width="3.5" opacity="0.8"/>
<path d="M1174.1,493.7 L1195.3,489.2" stroke="#6e6064" stroke-width="3.1" opacity="0.55"/>
<path d="M1242.5,475.9 L1269.4,468.3 L1296.2,459.0 L1323.1,444.4 L1323.1,452.6 L1296.2,467.3 L1269.4,476.8 L1242.5,484.5Z" fill="#747681"/>
<path d="M1280.1,470.1 L1313.1,455.3" stroke="#aeb3bb" stroke-width="3.4" opacity="0.8"/>
<path d="M1324.4,443.0 L1349.8,422.7 L1349.8,432.6 L1324.4,453.0Z" fill="#acaeb9"/>
<path d="M1350.6,422.8 L1358.0,409.5 L1358.0,417.2 L1350.6,430.8Z" fill="#8a8c97"/>
<path d="M237.5,446.4 L259.4,464.9 L259.4,473.9 L237.5,454.9Z" fill="#a8aab5"/>
<path d="M261.0,465.8 L290.2,482.2 L319.3,494.2 L348.4,504.5 L348.4,514.6 L319.3,504.2 L290.2,492.1 L261.0,475.5Z" fill="#aeb0bb"/>
<path d="M273.6,479.6 L295.2,489.8" stroke="#e8edf5" stroke-width="2.9" opacity="0.8"/>
<path d="M351.5,505.0 L383.0,513.4 L414.5,520.2 L414.5,532.7 L383.0,525.7 L351.5,517.1Z" fill="#b2b4bf"/>
<path d="M378.9,518.2 L408.2,524.9" stroke="#ecf1f9" stroke-width="3.1" opacity="0.8"/>
<path d="M382.7,520.8 L409.7,526.9" stroke="#ecf1f9" stroke-width="1.7" opacity="0.8"/>
<path d="M417.4,522.0 L442.9,526.5 L468.4,530.2 L493.9,533.3 L519.4,535.9 L544.9,538.0 L570.3,539.8 L570.3,550.2 L544.9,548.4 L519.4,546.2 L493.9,543.6 L468.4,540.5 L442.9,536.7 L417.4,532.2Z" fill="#aeb0bb"/>
<path d="M481.7,534.9 L544.3,541.0" stroke="#e8edf5" stroke-width="2.7" opacity="0.8"/>
<path d="M574.3,539.0 L599.7,540.5 L625.2,541.6 L650.7,542.5 L676.2,543.1 L701.7,543.4 L727.2,543.5 L752.6,543.4 L778.1,543.1 L778.1,555.8 L752.6,556.2 L727.2,556.3 L701.7,556.2 L676.2,555.8 L650.7,555.2 L625.2,554.3 L599.7,553.2 L574.3,551.7Z" fill="#c2c4cf"/>
<path d="M651.6,550.6 L709.4,551.6" stroke="#f5faff" stroke-width="2.9" opacity="0.8"/>
<path d="M782.1,542.7 L809.1,542.1 L836.1,541.2 L863.2,540.0 L890.2,538.6 L917.3,537.0 L944.3,535.1 L971.3,532.9 L998.4,530.4 L998.4,541.7 L971.3,544.2 L944.3,546.4 L917.3,548.4 L890.2,550.0 L863.2,551.4 L836.1,552.6 L809.1,553.5 L782.1,554.2Z" fill="#9c9ea9"/>
<path d="M810.6,549.2 L869.8,546.9" stroke="#706266" stroke-width="1.5" opacity="0.55"/>
<path d="M1004.8,531.6 L1033.4,528.6 L1062.1,525.3 L1090.7,521.6 L1119.3,517.3 L1147.9,512.2 L1176.5,506.5 L1176.5,517.3 L1147.9,523.1 L1119.3,528.2 L1090.7,532.6 L1062.1,536.4 L1033.4,539.7 L1004.8,542.8Z" fill="#b3b5c0"/>
<path d="M1007.5,538.3 L1082.7,529.5" stroke="#edf2fa" stroke-width="2.5" opacity="0.8"/>
<path d="M1181.0,503.6 L1216.7,495.4 L1252.4,486.0 L1252.4,497.3 L1216.7,506.8 L1181.0,515.2Z" fill="#8a8c97"/>
<path d="M1256.2,486.4 L1285.5,477.0 L1314.7,463.0 L1343.9,442.3 L1343.9,451.9 L1314.7,472.8 L1285.5,487.0 L1256.2,496.5Z" fill="#9c9ea9"/>
<path d="M1345.1,441.2 L1358.0,421.8 L1358.0,430.7 L1345.1,450.5Z" fill="#858792"/>
<path d="M1348.8,439.2 L1353.2,432.1" stroke="#bfc4cc" stroke-width="2.2" opacity="0.8"/>
<path d="M236.0,458.9 L261.1,481.3 L261.1,486.4 L236.0,463.6Z" fill="#b5b7c2"/>
<path d="M241.8,468.4 L248.3,473.9" stroke="#897b7f" stroke-width="2.2" opacity="0.55"/>
<path d="M262.5,480.8 L293.7,498.0 L324.9,510.5 L356.1,521.4 L356.1,528.7 L324.9,517.8 L293.7,505.2 L262.5,487.8Z" fill="#9d9faa"/>
<path d="M301.2,505.3 L336.2,518.7" stroke="#d7dce4" stroke-width="1.9" opacity="0.8"/>
<path d="M359.0,524.4 L389.6,532.4 L420.3,538.9 L450.9,544.2 L450.9,550.2 L420.3,544.8 L389.6,538.3 L359.0,530.1Z" fill="#858792"/>
<path d="M458.0,543.8 L485.0,547.4 L512.0,550.3 L539.0,552.7 L566.0,554.7 L593.0,556.4 L620.0,557.7 L620.0,563.9 L593.0,562.6 L566.0,560.9 L539.0,558.9 L512.0,556.5 L485.0,553.5 L458.0,550.0Z" fill="#797b86"/>
<path d="M494.9,552.8 L571.0,559.3" stroke="#4d3f43" stroke-width="1.7" opacity="0.55"/>
<path d="M623.5,557.5 L649.7,558.4 L675.9,559.0 L702.2,559.4 L728.4,559.5 L754.7,559.4 L780.9,559.0 L807.1,558.4 L833.4,557.5 L833.4,565.3 L807.1,566.2 L780.9,566.8 L754.7,567.2 L728.4,567.3 L702.2,567.2 L675.9,566.8 L649.7,566.2 L623.5,565.3Z" fill="#a6a8b3"/>
<path d="M694.1,563.6 L789.5,563.1" stroke="#e0e5ed" stroke-width="1.6" opacity="0.8"/>
<path d="M631.1,561.9 L703.7,563.5" stroke="#7a6c70" stroke-width="1.5" opacity="0.55"/>
<path d="M838.9,557.8 L868.3,556.5 L897.8,554.8 L927.3,552.9 L927.3,558.6 L897.8,560.6 L868.3,562.2 L838.9,563.6Z" fill="#b3b5c0"/>
<path d="M933.0,552.4 L960.1,550.2 L987.1,547.9 L1014.1,545.2 L1041.1,542.2 L1068.1,538.9 L1095.1,535.3 L1095.1,542.5 L1068.1,546.2 L1041.1,549.5 L1014.1,552.5 L987.1,555.2 L960.1,557.6 L933.0,559.7Z" fill="#838590"/>
<path d="M969.4,553.0 L1039.2,546.0" stroke="#bdc2ca" stroke-width="1.4" opacity="0.8"/>
<path d="M943.9,553.3 L1022.8,546.0" stroke="#bdc2ca" stroke-width="1.7" opacity="0.8"/>
<path d="M1101.8,534.2 L1127.0,530.1 L1152.3,525.4 L1177.5,520.2 L1202.8,514.5 L1228.0,508.2 L1253.3,501.2 L1253.3,507.4 L1228.0,514.4 L1202.8,520.8 L1177.5,526.6 L1152.3,531.8 L1127.0,536.5 L1101.8,540.6Z" fill="#9b9da8"/>
<path d="M1258.2,500.5 L1292.8,488.6 L1292.8,493.2 L1258.2,505.3Z" fill="#b4b6c1"/>
<path d="M1296.9,486.7 L1324.7,471.1 L1352.5,445.5 L1352.5,451.5 L1324.7,477.3 L1296.9,492.9Z" fill="#999ba6"/>
<path d="M1307.6,482.1 L1332.6,466.8" stroke="#d3d8e0" stroke-width="3.2" opacity="0.8"/>
<path d="M1353.6,443.3 L1358.0,434.7 L1358.0,439.1 L1353.6,447.8Z" fill="#838590"/>
<path d="M236.0,467.5 L273.2,499.2 L273.2,509.2 L236.0,476.7Z" fill="#8d8f9a"/>
<path d="M276.4,501.0 L305.6,514.4 L334.8,525.6 L363.9,535.4 L393.1,542.9 L393.1,554.7 L363.9,547.1 L334.8,537.2 L305.6,525.9 L276.4,512.4Z" fill="#92949f"/>
<path d="M396.7,542.4 L437.1,550.4 L437.1,563.1 L396.7,555.0Z" fill="#a7a9b4"/>
<path d="M414.0,552.4 L432.0,555.8" stroke="#7b6d71" stroke-width="2.1" opacity="0.55"/>
<path d="M440.6,552.3 L466.8,556.3 L492.9,559.6 L519.1,562.3 L519.1,574.0 L492.9,571.3 L466.8,568.0 L440.6,563.9Z" fill="#a8aab5"/>
<path d="M452.4,561.0 L485.6,565.5" stroke="#e2e7ef" stroke-width="2.1" opacity="0.8"/>
<path d="M522.5,562.5 L548.5,564.7 L574.6,566.5 L574.6,577.7 L548.5,575.8 L522.5,573.6Z" fill="#797b86"/>
<path d="M538.5,571.4 L563.7,573.4" stroke="#b3b8c0" stroke-width="2.9" opacity="0.8"/>
<path d="M580.6,567.0 L606.9,568.4 L633.3,569.5 L659.6,570.3 L686.0,570.9 L712.3,571.2 L738.7,571.2 L765.0,571.0 L765.0,582.0 L738.7,582.2 L712.3,582.2 L686.0,581.9 L659.6,581.3 L633.3,580.5 L606.9,579.4 L580.6,577.9Z" fill="#999ba6"/>
<path d="M607.4,573.9 L682.7,576.3" stroke="#6d5f63" stroke-width="1.6" opacity="0.55"/>
<path d="M641.6,575.6 L709.7,577.0" stroke="#d3d8e0" stroke-width="2.4" opacity="0.8"/>
<path d="M769.2,570.6 L797.0,570.1 L824.8,569.3 L852.6,568.1 L880.3,566.8 L908.1,565.1 L908.1,575.7 L880.3,577.4 L852.6,578.8 L824.8,579.9 L797.0,580.8 L769.2,581.3Z" fill="#a9abb6"/>
<path d="M837.6,573.7 L887.7,571.2" stroke="#7d6f73" stroke-width="1.9" opacity="0.55"/>
<path d="M811.2,575.5 L870.0,573.1" stroke="#7d6f73" stroke-width="1.4" opacity="0.55"/>
<path d="M915.4,564.2 L940.6,562.4 L965.8,560.3 L991.1,558.0 L1016.3,555.5 L1041.5,552.6 L1066.7,549.6 L1091.9,546.2 L1117.2,542.2 L1142.4,537.8 L1142.4,549.2 L1117.2,553.8 L1091.9,557.7 L1066.7,561.2 L1041.5,564.3 L1016.3,567.2 L991.1,569.8 L965.8,572.1 L940.6,574.2 L915.4,576.1Z" fill="#7a7c87"/>
<path d="M1147.6,537.6 L1180.0,530.9 L1212.4,523.2 L1244.8,514.5 L1244.8,524.8 L1212.4,533.6 L1180.0,541.4 L1147.6,548.2Z" fill="#b2b4bf"/>
<path d="M1171.7,536.5 L1211.9,527.1" stroke="#ecf1f9" stroke-width="2.9" opacity="0.8"/>
<path d="M1161.6,539.8 L1204.1,530.2" stroke="#ecf1f9" stroke-width="2.6" opacity="0.8"/>
<path d="M1248.7,513.1 L1292.0,498.6 L1292.0,508.7 L1248.7,523.6Z" fill="#a1a3ae"/>
<path d="M1258.0,516.9 L1266.8,514.0" stroke="#75676b" stroke-width="2.1" opacity="0.55"/>
<path d="M1293.5,497.4 L1325.0,480.1 L1356.5,446.3 L1356.5,455.6 L1325.0,489.9 L1293.5,507.4Z" fill="#a5a7b2"/>
<path d="M1314.8,489.7 L1334.1,477.1" stroke="#796b6f" stroke-width="3.4" opacity="0.55"/>
<path d="M1313.3,492.9 L1337.7,476.3" stroke="#dfe4ec" stroke-width="2.7" opacity="0.8"/>
<path d="M236.0,481.8 L260.0,504.8 L260.0,515.7 L236.0,492.1Z" fill="#70727d"/>
<path d="M236.1,488.8 L242.7,496.6" stroke="#aaafb7" stroke-width="2.3" opacity="0.8"/>
<path d="M261.2,505.1 L291.4,522.9 L321.6,535.6 L321.6,549.9 L291.4,537.2 L261.2,519.0Z" fill="#989aa5"/>
<path d="M273.4,517.2 L288.2,524.6" stroke="#6c5e62" stroke-width="1.4" opacity="0.55"/>
<path d="M264.7,510.7 L292.4,526.1" stroke="#d2d7df" stroke-width="1.9" opacity="0.8"/>
<path d="M324.5,536.8 L353.9,547.3 L383.2,555.7 L412.5,562.5 L412.5,575.1 L383.2,568.2 L353.9,559.6 L324.5,548.9Z" fill="#91939e"/>
<path d="M355.4,554.1 L383.1,562.0" stroke="#65575b" stroke-width="3.1" opacity="0.55"/>
<path d="M417.1,563.3 L447.5,568.9 L477.8,573.3 L477.8,587.1 L447.5,582.6 L417.1,577.0Z" fill="#b5b7c2"/>
<path d="M485.0,573.7 L515.5,577.1 L546.1,579.8 L576.7,582.0 L607.3,583.7 L607.3,599.0 L576.7,597.2 L546.1,595.0 L515.5,592.2 L485.0,588.8Z" fill="#b2b4bf"/>
<path d="M612.0,584.7 L640.0,585.8 L668.0,586.6 L695.9,587.1 L723.9,587.3 L751.9,587.2 L751.9,601.6 L723.9,601.7 L695.9,601.5 L668.0,601.0 L640.0,600.2 L612.0,599.0Z" fill="#7b7d88"/>
<path d="M756.7,588.2 L784.1,587.8 L811.4,587.1 L838.8,586.1 L838.8,598.7 L811.4,599.7 L784.1,600.4 L756.7,600.9Z" fill="#8a8c97"/>
<path d="M763.7,591.4 L795.5,590.8" stroke="#5e5054" stroke-width="2.5" opacity="0.55"/>
<path d="M796.9,590.2 L817.1,589.6" stroke="#c4c9d1" stroke-width="3.5" opacity="0.8"/>
<path d="M846.7,583.7 L872.3,582.5 L897.9,581.0 L923.4,579.3 L949.0,577.3 L974.6,575.1 L1000.2,572.6 L1025.8,569.9 L1051.4,566.9 L1051.4,580.5 L1025.8,583.6 L1000.2,586.4 L974.6,588.9 L949.0,591.2 L923.4,593.2 L897.9,594.9 L872.3,596.4 L846.7,597.7Z" fill="#9597a2"/>
<path d="M1058.1,566.6 L1084.5,563.1 L1110.9,559.1 L1137.3,554.4 L1137.3,568.5 L1110.9,573.2 L1084.5,577.2 L1058.1,580.8Z" fill="#c5c7d2"/>
<path d="M1070.1,569.8 L1104.4,564.9" stroke="#f5faff" stroke-width="3.5" opacity="0.8"/>
<path d="M1141.0,554.7 L1170.5,548.7 L1199.9,541.9 L1229.4,534.2 L1258.9,525.7 L1288.3,515.2 L1288.3,527.9 L1258.9,538.7 L1229.4,547.3 L1199.9,555.2 L1170.5,562.1 L1141.0,568.2Z" fill="#a5a7b2"/>
<path d="M1157.7,560.3 L1206.9,549.0" stroke="#796b6f" stroke-width="2.8" opacity="0.55"/>
<path d="M1200.7,550.8 L1251.2,536.9" stroke="#dfe4ec" stroke-width="2.3" opacity="0.8"/>
<path d="M1292.2,512.1 L1324.7,494.3 L1324.7,508.5 L1292.2,526.6Z" fill="#a1a3ae"/>
<path d="M1327.0,494.7 L1358.0,458.3 L1358.0,469.6 L1327.0,506.8Z" fill="#989aa5"/>
<path d="M236.0,497.5 L246.5,509.2 L246.5,517.8 L236.0,505.8Z" fill="#a6a8b3"/>
<path d="M239.7,505.6 L244.3,510.5" stroke="#e0e5ed" stroke-width="3.5" opacity="0.8"/>
<path d="M248.3,511.3 L266.2,527.4 L266.2,535.1 L248.3,518.8Z" fill="#9c9ea9"/>
<path d="M256.0,521.3 L261.1,525.9" stroke="#d6dbe3" stroke-width="3.0" opacity="0.8"/>
<path d="M268.3,528.9 L290.1,540.4 L290.1,550.3 L268.3,538.7Z" fill="#9c9ea9"/>
<path d="M291.4,540.7 L320.4,553.0 L349.3,563.9 L378.3,572.7 L407.3,579.9 L407.3,590.3 L378.3,583.0 L349.3,574.0 L320.4,563.0 L291.4,550.6Z" fill="#90929d"/>
<path d="M294.7,547.6 L326.2,560.6" stroke="#cacfd7" stroke-width="2.4" opacity="0.8"/>
<path d="M410.1,579.9 L436.2,585.1 L462.3,589.4 L488.4,592.9 L488.4,602.4 L462.3,598.9 L436.2,594.5 L410.1,589.3Z" fill="#91939e"/>
<path d="M494.3,594.9 L520.9,597.7 L547.5,600.1 L574.2,602.0 L600.8,603.6 L627.5,604.9 L654.1,605.8 L680.7,606.5 L680.7,615.5 L654.1,614.9 L627.5,613.9 L600.8,612.7 L574.2,611.0 L547.5,609.1 L520.9,606.7 L494.3,603.8Z" fill="#777984"/>
<path d="M684.7,607.0 L712.0,607.3 L739.4,607.3 L766.7,607.0 L794.0,606.5 L821.4,605.7 L821.4,613.9 L794.0,614.7 L766.7,615.3 L739.4,615.5 L712.0,615.5 L684.7,615.2Z" fill="#898b96"/>
<path d="M728.3,612.0 L776.8,611.6" stroke="#c3c8d0" stroke-width="2.5" opacity="0.8"/>
<path d="M830.1,604.4 L856.7,603.3 L883.2,601.9 L909.8,600.2 L936.3,598.2 L962.9,596.0 L989.4,593.5 L989.4,602.9 L962.9,605.4 L936.3,607.7 L909.8,609.7 L883.2,611.4 L856.7,612.8 L830.1,614.0Z" fill="#a3a5b0"/>
<path d="M831.9,609.4 L904.1,605.6" stroke="#dde2ea" stroke-width="2.0" opacity="0.8"/>
<path d="M890.4,607.9 L939.0,604.4" stroke="#dde2ea" stroke-width="2.2" opacity="0.8"/>
<path d="M996.8,591.5 L1027.0,588.2 L1057.1,584.5 L1087.3,580.4 L1117.4,575.6 L1117.4,586.1 L1087.3,590.9 L1057.1,595.1 L1027.0,598.8 L996.8,602.2Z" fill="#8a8c97"/>
<path d="M1023.6,590.7 L1058.4,586.5" stroke="#c4c9d1" stroke-width="2.4" opacity="0.8"/>
<path d="M1018.4,592.5 L1052.5,588.4" stroke="#c4c9d1" stroke-width="3.5" opacity="0.8"/>
<path d="M1121.7,575.8 L1150.6,570.3 L1179.4,564.0 L1208.3,557.0 L1208.3,566.4 L1179.4,573.5 L1150.6,579.8 L1121.7,585.4Z" fill="#757782"/>
<path d="M1213.9,555.4 L1242.6,547.3 L1242.6,556.5 L1213.9,564.6Z" fill="#afb1bc"/>
<path d="M1219.3,558.9 L1228.2,556.4" stroke="#837579" stroke-width="2.6" opacity="0.55"/>
<path d="M1246.1,545.5 L1277.9,534.8 L1309.7,520.2 L1341.5,497.6 L1341.5,507.1 L1309.7,529.9 L1277.9,544.6 L1246.1,555.6Z" fill="#81838e"/>
<path d="M1255.3,546.2 L1282.5,536.4" stroke="#bbc0c8" stroke-width="2.1" opacity="0.8"/>
<path d="M1342.8,496.6 L1357.8,472.9 L1357.8,481.8 L1342.8,506.0Z" fill="#a0a2ad"/>
<path d="M236.0,510.2 L249.1,524.9 L249.1,536.5 L236.0,521.4Z" fill="#aeb0bb"/>
<path d="M249.9,526.1 L282.1,550.6 L314.2,565.3 L346.3,577.7 L346.3,588.4 L314.2,575.9 L282.1,561.2 L249.9,536.2Z" fill="#c0c2cd"/>
<path d="M272.1,548.2 L315.6,568.6" stroke="#94868a" stroke-width="2.3" opacity="0.55"/>
<path d="M282.2,557.5 L310.6,570.7" stroke="#f5faff" stroke-width="2.7" opacity="0.8"/>
<path d="M351.4,579.0 L377.7,587.2 L404.0,593.9 L430.2,599.4 L456.5,604.1 L482.8,607.8 L509.0,610.8 L509.0,622.6 L482.8,619.5 L456.5,615.7 L430.2,611.0 L404.0,605.4 L377.7,598.6 L351.4,590.3Z" fill="#a9abb6"/>
<path d="M361.4,589.1 L435.7,607.4" stroke="#e3e8f0" stroke-width="1.8" opacity="0.8"/>
<path d="M513.4,611.0 L550.2,614.4 L586.9,617.0 L586.9,628.9 L550.2,626.3 L513.4,622.9Z" fill="#7a7c87"/>
<path d="M593.0,618.0 L619.0,619.4 L644.9,620.4 L670.9,621.1 L696.9,621.6 L722.8,621.8 L722.8,633.3 L696.9,633.1 L670.9,632.7 L644.9,631.9 L619.0,630.9 L593.0,629.5Z" fill="#989aa5"/>
<path d="M616.3,626.8 L671.4,628.8" stroke="#d2d7df" stroke-width="3.3" opacity="0.8"/>
<path d="M728.4,620.6 L753.8,620.5 L779.2,620.1 L779.2,633.2 L753.8,633.6 L728.4,633.7Z" fill="#999ba6"/>
<path d="M728.5,627.9 L751.4,627.8" stroke="#6d5f63" stroke-width="1.7" opacity="0.55"/>
<path d="M740.0,626.8 L764.1,626.5" stroke="#d3d8e0" stroke-width="1.7" opacity="0.8"/>
<path d="M782.5,620.3 L809.1,619.6 L835.6,618.6 L862.1,617.4 L888.6,615.9 L915.2,614.1 L941.7,612.1 L968.2,609.7 L994.8,607.1 L994.8,618.9 L968.2,621.6 L941.7,623.9 L915.2,626.0 L888.6,627.8 L862.1,629.3 L835.6,630.6 L809.1,631.5 L782.5,632.2Z" fill="#a3a5b0"/>
<path d="M807.7,627.6 L862.3,625.4" stroke="#77696d" stroke-width="3.4" opacity="0.55"/>
<path d="M999.8,608.0 L1030.9,604.5 L1062.1,600.5 L1062.1,612.1 L1030.9,616.1 L999.8,619.7Z" fill="#abadb8"/>
<path d="M1003.9,613.5 L1031.8,610.3" stroke="#7f7175" stroke-width="2.2" opacity="0.55"/>
<path d="M1068.8,597.9 L1093.9,594.3 L1119.0,590.2 L1144.1,585.4 L1169.2,580.1 L1169.2,592.6 L1144.1,598.0 L1119.0,602.8 L1093.9,607.0 L1068.8,610.7Z" fill="#b4b6c1"/>
<path d="M1173.5,580.7 L1202.7,573.6 L1231.9,565.6 L1261.1,556.6 L1290.2,545.3 L1319.4,529.6 L1319.4,539.2 L1290.2,555.1 L1261.1,566.6 L1231.9,575.7 L1202.7,583.8 L1173.5,591.0Z" fill="#7f818c"/>
<path d="M1222.5,575.1 L1282.6,555.0" stroke="#b9bec6" stroke-width="1.5" opacity="0.8"/>
<path d="M1322.1,527.3 L1355.6,491.3 L1355.6,501.9 L1322.1,538.5Z" fill="#a0a2ad"/>
<path d="M1356.1,490.1 L1358.0,485.8 L1358.0,496.4 L1356.1,500.8Z" fill="#8a8c97"/>
<path d="M236.0,525.6 L269.6,560.3 L269.6,569.3 L236.0,533.9Z" fill="#999ba6"/>
<path d="M251.6,545.1 L264.7,557.6" stroke="#6d5f63" stroke-width="3.1" opacity="0.55"/>
<path d="M251.2,544.3 L261.2,554.0" stroke="#d3d8e0" stroke-width="2.1" opacity="0.8"/>
<path d="M272.1,560.4 L298.3,573.6 L324.5,584.6 L350.7,594.5 L376.9,603.0 L376.9,615.3 L350.7,606.7 L324.5,596.6 L298.3,585.6 L272.1,572.3Z" fill="#a7a9b4"/>
<path d="M298.9,576.4 L345.4,595.2" stroke="#e1e6ee" stroke-width="3.1" opacity="0.8"/>
<path d="M380.1,604.1 L421.7,614.2 L421.7,626.6 L380.1,616.3Z" fill="#a8aab5"/>
<path d="M426.5,614.5 L452.6,619.3 L478.6,623.2 L504.7,626.4 L530.8,629.0 L556.8,631.2 L556.8,643.2 L530.8,640.9 L504.7,638.3 L478.6,635.0 L452.6,631.1 L426.5,626.3Z" fill="#b2b4bf"/>
<path d="M452.0,624.6 L501.9,631.5" stroke="#86787c" stroke-width="1.3" opacity="0.55"/>
<path d="M462.7,627.2 L508.0,633.0" stroke="#ecf1f9" stroke-width="2.6" opacity="0.8"/>
<path d="M559.7,633.4 L588.1,635.3 L616.4,636.9 L644.8,638.0 L673.2,638.9 L673.2,648.6 L644.8,647.8 L616.4,646.6 L588.1,645.1 L559.7,643.1Z" fill="#9fa1ac"/>
<path d="M680.4,637.8 L705.7,638.2 L731.1,638.3 L756.4,638.1 L781.7,637.7 L807.1,637.0 L832.4,636.1 L857.7,635.0 L883.0,633.6 L883.0,644.8 L857.7,646.3 L832.4,647.4 L807.1,648.3 L781.7,649.0 L756.4,649.4 L731.1,649.6 L705.7,649.5 L680.4,649.1Z" fill="#9496a1"/>
<path d="M890.8,633.1 L918.4,631.2 L946.0,628.9 L973.6,626.4 L1001.1,623.6 L1028.7,620.4 L1056.3,616.9 L1083.9,613.0 L1083.9,623.8 L1056.3,627.7 L1028.7,631.3 L1001.1,634.5 L973.6,637.4 L946.0,640.0 L918.4,642.2 L890.8,644.1Z" fill="#abadb8"/>
<path d="M910.9,635.3 L991.9,628.1" stroke="#e5eaf2" stroke-width="2.5" opacity="0.8"/>
<path d="M1088.4,613.5 L1119.3,608.4 L1150.3,602.3 L1181.3,595.3 L1212.3,587.4 L1212.3,597.7 L1181.3,605.8 L1150.3,612.8 L1119.3,618.9 L1088.4,624.1Z" fill="#9c9ea9"/>
<path d="M1148.1,607.8 L1186.8,599.0" stroke="#d6dbe3" stroke-width="2.9" opacity="0.8"/>
<path d="M1131.7,609.9 L1190.3,597.0" stroke="#d6dbe3" stroke-width="2.2" opacity="0.8"/>
<path d="M1215.7,584.7 L1245.1,576.0 L1274.5,565.7 L1303.9,552.7 L1303.9,563.3 L1274.5,576.4 L1245.1,586.9 L1215.7,595.7Z" fill="#9a9ca7"/>
<path d="M1227.7,587.5 L1251.0,580.4" stroke="#6e6064" stroke-width="3.5" opacity="0.55"/>
<path d="M1305.4,552.8 L1331.4,536.3 L1357.3,501.8 L1357.3,510.8 L1331.4,545.9 L1305.4,562.6Z" fill="#aeb0bb"/>
<path d="M1326.9,542.5 L1352.1,516.7" stroke="#e8edf5" stroke-width="1.2" opacity="0.8"/>
<path d="M1322.3,544.9 L1339.3,531.4" stroke="#827478" stroke-width="2.7" opacity="0.55"/>
<path d="M236.0,539.8 L258.2,564.8 L258.2,569.0 L236.0,543.7Z" fill="#9b9da8"/>
<path d="M260.6,566.0 L287.1,583.8 L313.5,596.0 L340.0,606.5 L366.5,616.1 L366.5,620.4 L340.0,610.8 L313.5,600.3 L287.1,588.1 L260.6,570.2Z" fill="#888a95"/>
<path d="M262.7,570.6 L305.8,595.2" stroke="#5c4e52" stroke-width="2.8" opacity="0.55"/>
<path d="M370.8,617.9 L396.6,625.2 L422.4,631.2 L448.2,636.2 L474.1,640.2 L499.9,643.6 L525.7,646.3 L551.5,648.6 L551.5,652.4 L525.7,650.1 L499.9,647.4 L474.1,644.0 L448.2,639.9 L422.4,634.9 L396.6,628.9 L370.8,621.6Z" fill="#9d9faa"/>
<path d="M558.7,649.5 L584.8,651.4 L611.0,652.9 L611.0,658.0 L584.8,656.5 L558.7,654.6Z" fill="#bdbfca"/>
<path d="M582.1,652.3 L596.8,653.2" stroke="#918387" stroke-width="3.1" opacity="0.55"/>
<path d="M564.3,650.8 L584.2,652.2" stroke="#f5faff" stroke-width="3.5" opacity="0.8"/>
<path d="M617.3,652.5 L642.7,653.5 L668.1,654.3 L693.5,654.8 L718.9,655.0 L744.4,655.0 L769.8,654.7 L795.2,654.1 L795.2,659.9 L769.8,660.5 L744.4,660.8 L718.9,660.8 L693.5,660.6 L668.1,660.1 L642.7,659.3 L617.3,658.2Z" fill="#888a95"/>
<path d="M649.5,657.6 L729.3,658.9" stroke="#c2c7cf" stroke-width="2.0" opacity="0.8"/>
<path d="M641.7,657.0 L704.8,658.5" stroke="#c2c7cf" stroke-width="3.5" opacity="0.8"/>
<path d="M798.4,654.1 L825.7,653.2 L852.9,652.0 L880.2,650.5 L907.4,648.7 L934.7,646.6 L962.0,644.1 L989.2,641.4 L989.2,645.4 L962.0,648.1 L934.7,650.6 L907.4,652.7 L880.2,654.5 L852.9,656.0 L825.7,657.2 L798.4,658.1Z" fill="#b1b3be"/>
<path d="M800.5,656.8 L885.3,652.9" stroke="#ebf0f8" stroke-width="1.4" opacity="0.8"/>
<path d="M992.3,640.3 L1017.4,637.5 L1042.5,634.4 L1067.6,631.0 L1092.6,627.3 L1117.7,623.0 L1142.8,618.1 L1167.8,612.7 L1192.9,606.6 L1192.9,612.3 L1167.8,618.4 L1142.8,623.9 L1117.7,628.8 L1092.6,633.1 L1067.6,636.8 L1042.5,640.2 L1017.4,643.4 L992.3,646.2Z" fill="#c1c3ce"/>
<path d="M1019.3,640.2 L1091.5,630.3" stroke="#f5faff" stroke-width="3.4" opacity="0.8"/>
<path d="M1009.8,640.2 L1080.4,630.9" stroke="#f5faff" stroke-width="2.3" opacity="0.8"/>
<path d="M1199.1,605.8 L1224.4,598.7 L1249.6,590.9 L1274.9,581.6 L1300.2,570.8 L1325.4,555.2 L1325.4,559.8 L1300.2,575.4 L1274.9,586.2 L1249.6,595.6 L1224.4,603.5 L1199.1,610.7Z" fill="#858792"/>
<path d="M1262.1,587.6 L1298.6,572.4" stroke="#bfc4cc" stroke-width="2.3" opacity="0.8"/>
<path d="M1326.8,553.4 L1357.1,515.3 L1357.1,520.9 L1326.8,559.4Z" fill="#a8aab5"/>
<path d="M1341.4,541.7 L1352.0,528.6" stroke="#e2e7ef" stroke-width="1.4" opacity="0.8"/>
<path d="M1341.9,543.9 L1354.2,526.0" stroke="#7c6e72" stroke-width="2.5" opacity="0.55"/><rect x="230" y="240" width="1140" height="440" fill="url(#wshade)"/><path d="M236.0,534.0 L241.0,541.0 L270.0,567.0 L297.0,578.0 L337.0,591.0 L363.0,601.0 L401.0,613.0 L430.0,621.0 L460.0,629.0 L500.0,636.0 L600.0,646.0 L700.0,653.0 L800.0,658.0 L900.0,656.0 L1000.0,646.0 L1100.0,632.0 L1200.0,602.0 L1260.0,583.0 L1300.0,566.0 L1330.0,547.0 L1350.0,528.0 L1358.0,509.0 L1358,700 L236,700Z" fill="#3e3a40" opacity="0.55"/></g>
<defs><linearGradient id="wshade" x1="0" x2="1" y1="0" y2="0"><stop offset="0" stop-color="#2a2630" stop-opacity="0.3"/><stop offset="0.08" stop-color="#2a2630" stop-opacity="0.05"/><stop offset="0.5" stop-color="#2a2630" stop-opacity="0"/><stop offset="0.92" stop-color="#2a2630" stop-opacity="0.05"/><stop offset="1" stop-color="#2a2630" stop-opacity="0.3"/></linearGradient></defs>
<clipPath id="rimc"><path d="M222.0,262.0 L245.0,266.0 L300.0,280.0 L350.0,290.0 L440.0,307.0 L540.0,314.0 L650.0,323.0 L750.0,326.0 L850.0,326.0 L950.0,320.0 L1070.0,309.0 L1180.0,296.0 L1250.0,286.0 L1290.0,273.0 L1340.0,250.0 L1374.0,233.0 L1374.0,243.0 L1340.0,267.0 L1290.0,293.0 L1180.0,308.0 L1070.0,328.0 L950.0,333.0 L750.0,342.0 L540.0,327.0 L350.0,307.0 L240.0,276.0 L222.0,270.0Z"/></clipPath>
<path d="M222.0,262.0 L245.0,266.0 L300.0,280.0 L350.0,290.0 L440.0,307.0 L540.0,314.0 L650.0,323.0 L750.0,326.0 L850.0,326.0 L950.0,320.0 L1070.0,309.0 L1180.0,296.0 L1250.0,286.0 L1290.0,273.0 L1340.0,250.0 L1374.0,233.0 L1374.0,243.0 L1340.0,267.0 L1290.0,293.0 L1180.0,308.0 L1070.0,328.0 L950.0,333.0 L750.0,342.0 L540.0,327.0 L350.0,307.0 L240.0,276.0 L222.0,270.0Z" fill="#8e8c92"/>
<g clip-path="url(#rimc)"><rect x="222" y="225" width="40" height="125" fill="#858287"/><rect x="265" y="225" width="56" height="125" fill="#838085"/><rect x="321" y="225" width="3" height="125" fill="#4f4549"/><rect x="324" y="225" width="51" height="125" fill="#9d9a9f"/><rect x="379" y="225" width="75" height="125" fill="#949196"/><rect x="456" y="225" width="48" height="125" fill="#8e8b90"/><rect x="508" y="225" width="42" height="125" fill="#7b787d"/><rect x="553" y="225" width="77" height="125" fill="#9a979c"/><rect x="630" y="225" width="3" height="125" fill="#4f4549"/><rect x="633" y="225" width="45" height="125" fill="#a7a4a9"/><rect x="678" y="225" width="3" height="125" fill="#4f4549"/><rect x="681" y="225" width="64" height="125" fill="#a9a6ab"/><rect x="749" y="225" width="37" height="125" fill="#b4b1b6"/><rect x="785" y="225" width="3" height="125" fill="#4f4549"/><rect x="788" y="225" width="86" height="125" fill="#9e9ba0"/><rect x="875" y="225" width="3" height="125" fill="#4f4549"/><rect x="878" y="225" width="44" height="125" fill="#9f9ca1"/><rect x="925" y="225" width="58" height="125" fill="#aca9ae"/><rect x="983" y="225" width="3" height="125" fill="#4f4549"/><rect x="986" y="225" width="44" height="125" fill="#b1aeb3"/><rect x="1029" y="225" width="3" height="125" fill="#4f4549"/><rect x="1032" y="225" width="45" height="125" fill="#7d7a7f"/><rect x="1077" y="225" width="3" height="125" fill="#4f4549"/><rect x="1080" y="225" width="55" height="125" fill="#9b989d"/><rect x="1138" y="225" width="67" height="125" fill="#a3a0a5"/><rect x="1205" y="225" width="3" height="125" fill="#4f4549"/><rect x="1208" y="225" width="69" height="125" fill="#807d82"/><rect x="1277" y="225" width="3" height="125" fill="#4f4549"/><rect x="1280" y="225" width="38" height="125" fill="#b0adb2"/><rect x="1318" y="225" width="3" height="125" fill="#4f4549"/><rect x="1321" y="225" width="48" height="125" fill="#a19ea3"/><rect x="1373" y="225" width="38" height="125" fill="#a19ea3"/><rect x="1410" y="225" width="3" height="125" fill="#4f4549"/><path d="M222.0,265.0 L245.0,269.0 L300.0,283.0 L350.0,293.0 L440.0,310.0 L540.0,317.0 L650.0,326.0 L750.0,329.0 L850.0,329.0 L950.0,323.0 L1070.0,312.0 L1180.0,299.0 L1250.0,289.0 L1290.0,276.0 L1340.0,253.0 L1374.0,236.0" stroke="#c9c8cc" stroke-width="2.5" fill="none" opacity="0.7"/><path d="M222.0,261.0 L232.0,262.7 L242.0,264.5 L252.0,266.8 L262.0,269.3 L272.0,271.9 L278.0,287.7 L268.0,284.9 L258.0,282.1 L248.0,279.3 L238.0,276.3 L228.0,273.0Z" fill="#7b7e82"/><path d="M222.0,265.5 L232.0,267.2 L242.0,269.0 L252.0,271.3 L262.0,273.8 L272.0,276.4" stroke="#9a9da1" stroke-width="2.5" fill="none"/><path d="M364.0,291.6 L374.0,293.5 L384.0,295.4 L394.0,297.3 L404.0,299.2 L414.0,301.1 L424.0,303.0 L434.0,304.9 L444.0,306.3 L454.0,307.0 L454.0,318.9 L444.0,317.9 L434.0,316.8 L424.0,315.8 L414.0,314.7 L404.0,313.7 L394.0,312.6 L384.0,311.6 L374.0,310.5 L364.0,309.5Z" fill="#7b7e82"/><path d="M364.0,296.1 L374.0,298.0 L384.0,299.9 L394.0,301.8 L404.0,303.7 L414.0,305.6 L424.0,307.5 L434.0,309.4 L444.0,310.8 L454.0,311.5" stroke="#9a9da1" stroke-width="2.5" fill="none"/><path d="M661.0,322.3 L671.0,322.6 L681.0,322.9 L691.0,323.2 L701.0,323.5 L711.0,323.8 L721.0,324.1 L731.0,324.4 L741.0,324.7 L751.0,325.0 L751.0,343.0 L741.0,342.4 L731.0,341.6 L721.0,340.9 L711.0,340.2 L701.0,339.5 L691.0,338.8 L681.0,338.1 L671.0,337.4 L661.0,336.6Z" fill="#7b7e82"/><path d="M661.0,326.8 L671.0,327.1 L681.0,327.4 L691.0,327.7 L701.0,328.0 L711.0,328.3 L721.0,328.6 L731.0,328.9 L741.0,329.2 L751.0,329.5" stroke="#9a9da1" stroke-width="2.5" fill="none"/><path d="M985.0,315.8 L995.0,314.9 L1005.0,314.0 L1015.0,313.0 L1025.0,312.1 L1035.0,311.2 L1045.0,310.3 L1055.0,309.4 L1065.0,308.5 L1075.0,307.4 L1075.0,328.1 L1065.0,329.2 L1055.0,329.6 L1045.0,330.0 L1035.0,330.5 L1025.0,330.9 L1015.0,331.3 L1005.0,331.7 L995.0,332.1 L985.0,332.5Z" fill="#7b7e82"/><path d="M985.0,320.3 L995.0,319.4 L1005.0,318.5 L1015.0,317.5 L1025.0,316.6 L1035.0,315.7 L1045.0,314.8 L1055.0,313.9 L1065.0,313.0 L1075.0,311.9" stroke="#9a9da1" stroke-width="2.5" fill="none"/><path d="M1223.0,288.9 L1233.0,287.4 L1243.0,286.0 L1253.0,284.0 L1263.0,280.8 L1273.0,277.5 L1283.0,274.3 L1293.0,270.6 L1303.0,266.0 L1313.0,261.4 L1313.0,282.0 L1303.0,287.2 L1293.0,292.4 L1283.0,295.0 L1273.0,296.3 L1263.0,297.7 L1253.0,299.0 L1243.0,300.4 L1233.0,301.8 L1223.0,303.1Z" fill="#7b7e82"/><path d="M1223.0,293.4 L1233.0,291.9 L1243.0,290.5 L1253.0,288.5 L1263.0,285.3 L1273.0,282.0 L1283.0,278.8 L1293.0,275.1 L1303.0,270.5 L1313.0,265.9" stroke="#9a9da1" stroke-width="2.5" fill="none"/><path d="M1318.0,259.1 L1328.0,254.5 L1338.0,249.9 L1348.0,245.0 L1358.0,240.0 L1368.0,235.0 L1374.0,244.0 L1364.0,251.1 L1354.0,258.1 L1344.0,265.2 L1334.0,271.1 L1324.0,276.3Z" fill="#7b7e82"/><path d="M1318.0,263.6 L1328.0,259.0 L1338.0,254.4 L1348.0,249.5 L1358.0,244.5 L1368.0,239.5" stroke="#9a9da1" stroke-width="2.5" fill="none"/></g>
<path d="M222.0,272.0 L240.0,278.0 L350.0,309.0 L540.0,329.0 L750.0,344.0 L950.0,335.0 L1070.0,330.0 L1180.0,310.0 L1290.0,295.0 L1340.0,269.0 L1374.0,245.0" stroke="#3f3a40" stroke-width="4" fill="none" opacity="0.8"/>
<text x="773.8" y="458.7" font-family="Liberation Sans" font-size="53" font-weight="bold" fill="#f2f2f2" textLength="76" lengthAdjust="spacingAndGlyphs">Fun</text>
<text x="889" y="458.7" font-family="Liberation Sans" font-size="53" font-weight="bold" fill="#f2f2f2" textLength="81" lengthAdjust="spacingAndGlyphs">icle</text>
<path d="M887,435 C883,428 869,425 863,431 C857,438 860,446 868,449 C879,453 886,458 886,466 C886,474 877,476 871,475 C863,474 859,467 860,461 C861,456 864,454 868,453" stroke="#f2f2f2" stroke-width="7" fill="none" stroke-linecap="round"/>
<rect x="227" y="258" width="12" height="303" fill="#5e686e"/>
<rect x="229.4" y="258" width="4.2" height="303" fill="#6c767c"/>
<rect x="226" y="300" width="14" height="3" fill="#4e575c"/>
<rect x="226" y="470" width="14" height="3" fill="#4e575c"/>
<path d="M227,559 L239,559 Q245,563 245,569 Q233.0,574 221,569 Q221,563 227,559Z" fill="#5b656b"/>
<ellipse cx="234.8" cy="565" rx="3.0" ry="2.5" fill="#7e888e"/>
<rect x="401" y="316" width="17" height="316" fill="#5e686e"/>
<rect x="404.4" y="316" width="5.9" height="316" fill="#6c767c"/>
<rect x="400" y="365" width="19" height="3" fill="#4e575c"/>
<rect x="400" y="535" width="19" height="3" fill="#4e575c"/>
<path d="M401,630 L418,630 Q425,634 425,641 Q409.5,646 394,641 Q394,634 401,630Z" fill="#5b656b"/>
<ellipse cx="412.1" cy="637" rx="4.2" ry="2.5" fill="#7e888e"/>
<rect x="697" y="333" width="19" height="335" fill="#5e686e"/>
<rect x="700.8" y="333" width="6.6" height="335" fill="#6c767c"/>
<rect x="696" y="385" width="21" height="3" fill="#4e575c"/>
<rect x="696" y="564" width="21" height="3" fill="#4e575c"/>
<path d="M697,666 L716,666 Q724,670 724,677 Q706.5,682 689,677 Q689,670 697,666Z" fill="#5b656b"/>
<ellipse cx="709.4" cy="673" rx="4.8" ry="2.5" fill="#7e888e"/>
<rect x="1021" y="330" width="19" height="332" fill="#5e686e"/>
<rect x="1024.8" y="330" width="6.6" height="332" fill="#6c767c"/>
<rect x="1020" y="381" width="21" height="3" fill="#4e575c"/>
<rect x="1020" y="562" width="21" height="3" fill="#4e575c"/>
<path d="M1021,660 L1040,660 Q1047,664 1047,670 Q1030.5,675 1014,670 Q1014,664 1021,660Z" fill="#5b656b"/>
<ellipse cx="1033.3" cy="666" rx="4.8" ry="2.5" fill="#7e888e"/>
<rect x="1261" y="286" width="14" height="313" fill="#5e686e"/>
<rect x="1263.8" y="286" width="4.9" height="313" fill="#6c767c"/>
<rect x="1260" y="340" width="16" height="3" fill="#4e575c"/>
<rect x="1260" y="517" width="16" height="3" fill="#4e575c"/>
<path d="M1261,597 L1275,597 Q1281,601 1281,607 Q1267.5,612 1254,607 Q1254,601 1261,597Z" fill="#5b656b"/>
<ellipse cx="1269.6" cy="603" rx="3.5" ry="2.5" fill="#7e888e"/>
<rect x="1358" y="236" width="11" height="293" fill="#5e686e"/>
<rect x="1360.2" y="236" width="3.8" height="293" fill="#6c767c"/>
<rect x="1357" y="280" width="13" height="3" fill="#4e575c"/>
<rect x="1357" y="457" width="13" height="3" fill="#4e575c"/>
<path d="M1358,527 L1369,527 Q1374,531 1374,537 Q1363.5,542 1353,537 Q1353,531 1358,527Z" fill="#5b656b"/>
<ellipse cx="1365.2" cy="533" rx="2.8" ry="2.5" fill="#7e888e"/>
<circle cx="410" cy="520" r="74" fill="none" stroke="#fab505" stroke-width="10"/>
<clipPath id="bc"><circle cx="471" cy="1137" r="318"/></clipPath>
<g clip-path="url(#bc)"><rect x="140" y="805" width="665" height="665" fill="#3f4449"/>
<path d="M65.6,798.2 L331.7,801.0 L340.8,814.2 L339.1,824.5 L62.1,821.7Z" fill="#7a8c93"/>
<path d="M66,799.7 L333,802.5" stroke="#b1c2c8" stroke-width="2" opacity="0.7"/>
<path d="M84,810.7 L120,812.4" stroke="#bbcacf" stroke-width="1.2" opacity="0.55"/>
<path d="M234,808.1 L331,808.7" stroke="#bbcacf" stroke-width="3.0" opacity="0.55"/>
<path d="M346.7,802.0 L441.2,803.0 L446.9,815.3 L442.4,825.6 L343.4,824.6Z" fill="#6a7c83"/>
<path d="M347,803.5 L439,804.5" stroke="#a1b2b8" stroke-width="2" opacity="0.7"/>
<path d="M356,808.0 L390,809.2" stroke="#abbabf" stroke-width="2.1" opacity="0.55"/>
<path d="M382,818.2 L413,818.4" stroke="#4c565b" stroke-width="2.8" opacity="0.5"/>
<path d="M358,813.0 L379,811.6" stroke="#4c565b" stroke-width="1.6" opacity="0.5"/>
<path d="M461.7,802.7 L688.2,805.1 L689.4,817.7 L686.0,828.0 L455.8,825.7Z" fill="#74868d"/>
<path d="M460,804.2 L681,806.6" stroke="#abbcc2" stroke-width="2" opacity="0.7"/>
<path d="M462,809.6 L531,811.4" stroke="#566065" stroke-width="2.1" opacity="0.5"/>
<path d="M582,824.8 L634,825.7" stroke="#b5c4c9" stroke-width="1.9" opacity="0.55"/>
<path d="M514,823.4 L625,822.8" stroke="#566065" stroke-width="2.4" opacity="0.5"/>
<path d="M552,820.1 L668,820.8" stroke="#b5c4c9" stroke-width="2.3" opacity="0.55"/>
<path d="M697.1,806.1 L788.5,807.0 L790.7,818.7 L788.4,829.0 L694.1,828.1Z" fill="#62747b"/>
<path d="M698,807.6 L783,808.5" stroke="#99aab0" stroke-width="2" opacity="0.7"/>
<path d="M720,817.9 L765,818.0" stroke="#a3b2b7" stroke-width="1.6" opacity="0.55"/>
<path d="M733,813.0 L759,815.2" stroke="#444e53" stroke-width="2.4" opacity="0.5"/>
<path d="M701,817.4 L719,818.2" stroke="#a3b2b7" stroke-width="1.0" opacity="0.55"/>
<path d="M798.9,805.3 L1123.7,808.6 L1127.4,822.1 L1122.8,832.4 L796.4,829.1Z" fill="#6a7c83"/>
<path d="M800,806.8 L1119,810.1" stroke="#a1b2b8" stroke-width="2" opacity="0.7"/>
<path d="M938,823.9 L1040,823.2" stroke="#4c565b" stroke-width="2.8" opacity="0.5"/>
<path d="M942,825.7 L1091,826.8" stroke="#abbabf" stroke-width="1.2" opacity="0.55"/>
<path d="M816,821.6 L857,820.7" stroke="#abbabf" stroke-width="1.7" opacity="0.55"/>
<path d="M50.4,824.0 L181.8,825.8 L183.9,834.6 L180.9,842.9 L50.0,841.1Z" fill="#6f8188"/>
<path d="M54,825.5 L176,827.3" stroke="#a6b7bd" stroke-width="2" opacity="0.7"/>
<path d="M92,842.7 L137,843.3" stroke="#b0bfc4" stroke-width="3.0" opacity="0.55"/>
<path d="M65,834.9 L95,836.3" stroke="#515b60" stroke-width="2.0" opacity="0.5"/>
<path d="M69,838.3 L110,838.3" stroke="#515b60" stroke-width="2.4" opacity="0.5"/>
<path d="M74,841.9 L128,840.9" stroke="#515b60" stroke-width="2.7" opacity="0.5"/>
<path d="M189.9,826.3 L419.2,829.6 L427.0,837.8 L424.4,846.2 L186.7,843.0Z" fill="#6e8087"/>
<path d="M191,827.8 L419,831.1" stroke="#a5b6bc" stroke-width="2" opacity="0.7"/>
<path d="M293,840.5 L393,840.8" stroke="#afbec3" stroke-width="1.8" opacity="0.55"/>
<path d="M284,843.4 L327,845.9" stroke="#505a5f" stroke-width="2.6" opacity="0.5"/>
<path d="M306,838.5 L349,840.3" stroke="#afbec3" stroke-width="2.4" opacity="0.55"/>
<path d="M437.7,828.0 L625.7,830.6 L627.7,840.5 L626.0,848.9 L436.3,846.3Z" fill="#5d6f76"/>
<path d="M440,829.5 L620,832.1" stroke="#94a5ab" stroke-width="2" opacity="0.7"/>
<path d="M534,840.0 L603,841.6" stroke="#9eadb2" stroke-width="2.8" opacity="0.55"/>
<path d="M491,844.2 L568,846.4" stroke="#9eadb2" stroke-width="1.7" opacity="0.55"/>
<path d="M641.9,831.5 L958.8,835.8 L959.7,845.0 L958.4,853.3 L637.5,849.0Z" fill="#71838a"/>
<path d="M641,833.0 L952,837.3" stroke="#a8b9bf" stroke-width="2" opacity="0.7"/>
<path d="M737,836.4 L845,838.3" stroke="#535d62" stroke-width="2.2" opacity="0.5"/>
<path d="M664,842.4 L817,842.6" stroke="#b2c1c6" stroke-width="2.6" opacity="0.55"/>
<path d="M845,848.8 L890,851.4" stroke="#b2c1c6" stroke-width="1.4" opacity="0.55"/>
<path d="M55.5,843.0 L195.6,845.4 L203.9,863.9 L203.5,878.2 L52.2,875.7Z" fill="#7d8f96"/>
<path d="M56,844.5 L196,846.9" stroke="#b4c5cb" stroke-width="2" opacity="0.7"/>
<path d="M131,873.7 L186,875.9" stroke="#becdd2" stroke-width="2.8" opacity="0.55"/>
<path d="M117,852.9 L142,854.4" stroke="#5f696e" stroke-width="2.2" opacity="0.5"/>
<path d="M70,869.4 L95,868.3" stroke="#5f696e" stroke-width="1.1" opacity="0.5"/>
<path d="M103,867.4 L150,869.7" stroke="#5f696e" stroke-width="1.1" opacity="0.5"/>
<path d="M213.3,846.1 L347.8,848.4 L355.4,866.4 L348.1,880.7 L210.0,878.3Z" fill="#5e7077"/>
<path d="M214,847.6 L347,849.9" stroke="#95a6ac" stroke-width="2" opacity="0.7"/>
<path d="M255,860.9 L326,861.2" stroke="#9faeb3" stroke-width="2.0" opacity="0.55"/>
<path d="M235,873.5 L279,875.7" stroke="#9faeb3" stroke-width="2.9" opacity="0.55"/>
<path d="M226,876.4 L292,877.2" stroke="#9faeb3" stroke-width="1.8" opacity="0.55"/>
<path d="M249,860.6 L303,860.6" stroke="#9faeb3" stroke-width="1.2" opacity="0.55"/>
<path d="M259,873.1 L328,873.2" stroke="#9faeb3" stroke-width="1.3" opacity="0.55"/>
<path d="M360.7,848.2 L573.5,851.8 L583.4,870.0 L576.8,884.3 L357.8,880.7Z" fill="#5e7077"/>
<path d="M362,849.7 L575,853.3" stroke="#95a6ac" stroke-width="2" opacity="0.7"/>
<path d="M404,873.2 L516,874.4" stroke="#9faeb3" stroke-width="1.2" opacity="0.55"/>
<path d="M437,864.6 L490,865.0" stroke="#404a4f" stroke-width="2.0" opacity="0.5"/>
<path d="M371,861.6 L480,862.3" stroke="#404a4f" stroke-width="2.8" opacity="0.5"/>
<path d="M592.2,851.6 L701.5,853.4 L705.8,872.0 L698.5,886.3 L591.4,884.5Z" fill="#63757c"/>
<path d="M595,853.1 L698,854.9" stroke="#9aabb1" stroke-width="2" opacity="0.7"/>
<path d="M632,868.4 L668,868.3" stroke="#a4b3b8" stroke-width="1.6" opacity="0.55"/>
<path d="M676,879.7 L696,878.1" stroke="#a4b3b8" stroke-width="1.2" opacity="0.55"/>
<path d="M608,864.2 L647,863.3" stroke="#a4b3b8" stroke-width="1.0" opacity="0.55"/>
<path d="M668,884.8 L699,883.5" stroke="#454f54" stroke-width="2.4" opacity="0.5"/>
<path d="M711.2,852.8 L1068.9,858.7 L1072.0,878.0 L1069.6,892.3 L709.9,886.4Z" fill="#687a81"/>
<path d="M714,854.3 L1064,860.2" stroke="#9fb0b6" stroke-width="2" opacity="0.7"/>
<path d="M755,866.7 L864,866.5" stroke="#a9b8bd" stroke-width="1.5" opacity="0.55"/>
<path d="M831,860.5 L973,862.7" stroke="#a9b8bd" stroke-width="2.9" opacity="0.55"/>
<path d="M800,862.5 L954,866.3" stroke="#a9b8bd" stroke-width="1.8" opacity="0.55"/>
<path d="M105.9,879.1 L470.0,886.9 L479.9,900.2 L472.1,911.8 L105.0,904.0Z" fill="#85979e"/>
<path d="M109,880.6 L472,888.4" stroke="#bccdd3" stroke-width="2" opacity="0.7"/>
<path d="M319,888.2 L451,889.2" stroke="#c6d5da" stroke-width="2.3" opacity="0.55"/>
<path d="M359,897.1 L472,900.2" stroke="#c6d5da" stroke-width="1.1" opacity="0.55"/>
<path d="M106,887.5 L184,888.4" stroke="#c6d5da" stroke-width="3.0" opacity="0.55"/>
<path d="M485.8,885.5 L665.1,889.3 L668.5,904.1 L667.8,915.8 L484.7,911.9Z" fill="#6b7d84"/>
<path d="M489,887.0 L660,890.8" stroke="#a2b3b9" stroke-width="2" opacity="0.7"/>
<path d="M561,902.4 L594,902.2" stroke="#acbbc0" stroke-width="1.2" opacity="0.55"/>
<path d="M488,898.6 L510,898.0" stroke="#acbbc0" stroke-width="2.2" opacity="0.55"/>
<path d="M557,902.9 L631,906.0" stroke="#4d575c" stroke-width="1.8" opacity="0.5"/>
<path d="M499,897.2 L589,899.7" stroke="#4d575c" stroke-width="1.1" opacity="0.5"/>
<path d="M675.0,890.0 L997.9,896.9 L1003.0,911.1 L995.7,922.8 L670.8,915.8Z" fill="#809299"/>
<path d="M675,891.5 L995,898.4" stroke="#b7c8ce" stroke-width="2" opacity="0.7"/>
<path d="M868,916.5 L979,919.6" stroke="#626c71" stroke-width="1.5" opacity="0.5"/>
<path d="M772,897.2 L823,899.6" stroke="#c1d0d5" stroke-width="2.1" opacity="0.55"/>
<path d="M100.5,905.8 L378.2,913.0 L387.5,928.4 L380.3,940.9 L100.1,933.8Z" fill="#586a71"/>
<path d="M104,907.3 L379,914.5" stroke="#8fa0a6" stroke-width="2" opacity="0.7"/>
<path d="M285,930.6 L321,929.8" stroke="#99a8ad" stroke-width="1.5" opacity="0.55"/>
<path d="M274,932.0 L326,933.2" stroke="#3a4449" stroke-width="1.8" opacity="0.5"/>
<path d="M397.3,913.6 L621.5,919.3 L622.3,934.2 L621.1,946.7 L393.4,941.0Z" fill="#5a6c73"/>
<path d="M397,915.1 L614,920.8" stroke="#91a2a8" stroke-width="2" opacity="0.7"/>
<path d="M482,935.8 L568,937.8" stroke="#9baaaf" stroke-width="2.0" opacity="0.55"/>
<path d="M436,942.2 L468,943.8" stroke="#9baaaf" stroke-width="1.6" opacity="0.55"/>
<path d="M528,932.6 L621,934.1" stroke="#9baaaf" stroke-width="1.2" opacity="0.55"/>
<path d="M407,929.7 L457,932.9" stroke="#9baaaf" stroke-width="3.0" opacity="0.55"/>
<path d="M630.3,917.8 L824.5,922.8 L832.0,939.4 L829.9,951.9 L629.8,946.9Z" fill="#65777e"/>
<path d="M634,919.3 L824,924.3" stroke="#9cadb3" stroke-width="2" opacity="0.7"/>
<path d="M689,927.1 L775,930.0" stroke="#475156" stroke-width="1.5" opacity="0.5"/>
<path d="M633,943.7 L693,945.1" stroke="#a6b5ba" stroke-width="1.9" opacity="0.55"/>
<path d="M688,931.0 L720,933.2" stroke="#a6b5ba" stroke-width="1.0" opacity="0.55"/>
<path d="M643,940.5 L732,943.5" stroke="#475156" stroke-width="2.8" opacity="0.5"/>
<path d="M85.3,933.9 L276.2,939.8 L283.7,952.7 L276.9,962.8 L79.8,956.9Z" fill="#7d8f96"/>
<path d="M84,935.4 L276,941.3" stroke="#b4c5cb" stroke-width="2" opacity="0.7"/>
<path d="M113,940.5 L201,942.1" stroke="#5f696e" stroke-width="1.5" opacity="0.5"/>
<path d="M143,949.1 L178,951.7" stroke="#5f696e" stroke-width="2.6" opacity="0.5"/>
<path d="M182,952.6 L277,956.2" stroke="#becdd2" stroke-width="1.1" opacity="0.55"/>
<path d="M190,954.7 L247,955.5" stroke="#5f696e" stroke-width="1.1" opacity="0.5"/>
<path d="M295.4,941.1 L649.9,951.4 L652.5,963.3 L646.6,973.4 L293.7,963.0Z" fill="#76888f"/>
<path d="M298,942.6 L644,952.9" stroke="#adbec4" stroke-width="2" opacity="0.7"/>
<path d="M433,956.6 L503,957.1" stroke="#586267" stroke-width="2.3" opacity="0.5"/>
<path d="M498,952.2 L605,955.1" stroke="#b7c6cb" stroke-width="1.7" opacity="0.55"/>
<path d="M437,963.4 L534,964.9" stroke="#b7c6cb" stroke-width="2.1" opacity="0.55"/>
<path d="M512,957.2 L601,957.9" stroke="#b7c6cb" stroke-width="2.7" opacity="0.55"/>
<path d="M657.5,951.4 L855.9,957.2 L856.5,969.2 L854.3,979.3 L655.5,973.5Z" fill="#65777e"/>
<path d="M659,952.9 L849,958.7" stroke="#9cadb3" stroke-width="2" opacity="0.7"/>
<path d="M744,960.1 L804,960.8" stroke="#475156" stroke-width="1.5" opacity="0.5"/>
<path d="M722,961.8 L774,964.7" stroke="#475156" stroke-width="2.7" opacity="0.5"/>
<path d="M782,959.3 L805,959.8" stroke="#475156" stroke-width="2.2" opacity="0.5"/>
<path d="M794,959.2 L846,962.1" stroke="#475156" stroke-width="2.9" opacity="0.5"/>
<path d="M63.7,957.2 L186.5,961.6 L193.5,973.9 L186.7,983.7 L58.7,979.3Z" fill="#83959c"/>
<path d="M63,958.7 L185,963.1" stroke="#bacbd1" stroke-width="2" opacity="0.7"/>
<path d="M59,962.4 L114,964.5" stroke="#c4d3d8" stroke-width="1.1" opacity="0.55"/>
<path d="M102,975.4 L168,977.3" stroke="#c4d3d8" stroke-width="2.5" opacity="0.55"/>
<path d="M158,965.9 L188,965.9" stroke="#c4d3d8" stroke-width="2.6" opacity="0.55"/>
<path d="M151,963.9 L193,964.5" stroke="#c4d3d8" stroke-width="2.7" opacity="0.55"/>
<path d="M110,967.0 L151,968.0" stroke="#c4d3d8" stroke-width="2.3" opacity="0.55"/>
<path d="M200.2,963.4 L303.4,966.8 L305.7,977.5 L302.3,987.3 L199.7,983.9Z" fill="#83959c"/>
<path d="M204,964.9 L298,968.3" stroke="#bacbd1" stroke-width="2" opacity="0.7"/>
<path d="M231,972.2 L243,973.3" stroke="#c4d3d8" stroke-width="1.4" opacity="0.55"/>
<path d="M232,982.7 L274,985.9" stroke="#c4d3d8" stroke-width="1.6" opacity="0.55"/>
<path d="M219,982.7 L239,982.5" stroke="#656f74" stroke-width="2.9" opacity="0.5"/>
<path d="M219,976.8 L238,978.0" stroke="#c4d3d8" stroke-width="2.9" opacity="0.55"/>
<path d="M312.8,965.0 L437.6,969.3 L441.7,981.9 L436.0,991.7 L309.3,987.4Z" fill="#65777e"/>
<path d="M313,966.5 L434,970.8" stroke="#9cadb3" stroke-width="2" opacity="0.7"/>
<path d="M373,978.0 L433,981.9" stroke="#475156" stroke-width="2.9" opacity="0.5"/>
<path d="M412,978.0 L435,976.9" stroke="#475156" stroke-width="2.3" opacity="0.5"/>
<path d="M342,976.7 L375,975.8" stroke="#a6b5ba" stroke-width="1.6" opacity="0.55"/>
<path d="M451.4,971.1 L635.0,977.3 L638.8,988.3 L632.6,998.1 L446.9,991.9Z" fill="#5f7178"/>
<path d="M451,972.6 L631,978.8" stroke="#96a7ad" stroke-width="2" opacity="0.7"/>
<path d="M454,990.1 L506,991.2" stroke="#a0afb4" stroke-width="2.8" opacity="0.55"/>
<path d="M577,982.5 L624,983.6" stroke="#a0afb4" stroke-width="2.6" opacity="0.55"/>
<path d="M453,989.0 L475,991.4" stroke="#a0afb4" stroke-width="1.5" opacity="0.55"/>
<path d="M482,989.6 L570,994.3" stroke="#a0afb4" stroke-width="2.2" opacity="0.55"/>
<path d="M650.2,978.7 L807.2,984.0 L814.5,993.9 L809.7,1003.7 L648.4,998.4Z" fill="#6c7e85"/>
<path d="M652,980.2 L806,985.5" stroke="#a3b4ba" stroke-width="2" opacity="0.7"/>
<path d="M712,984.8 L744,987.7" stroke="#4e585d" stroke-width="1.8" opacity="0.5"/>
<path d="M708,988.9 L753,989.1" stroke="#4e585d" stroke-width="2.6" opacity="0.5"/>
<path d="M118.6,984.6 L422.1,995.8 L429.9,1011.2 L425.2,1024.5 L115.8,1013.3Z" fill="#6c7e85"/>
<path d="M120,986.1 L422,997.3" stroke="#a3b4ba" stroke-width="2" opacity="0.7"/>
<path d="M223,1003.2 L274,1005.0" stroke="#4e585d" stroke-width="2.1" opacity="0.5"/>
<path d="M140,994.5 L225,998.0" stroke="#adbcc1" stroke-width="1.4" opacity="0.55"/>
<path d="M270,1005.6 L426,1009.7" stroke="#adbcc1" stroke-width="1.9" opacity="0.55"/>
<path d="M440.8,996.0 L784.0,1008.3 L785.3,1023.8 L778.5,1037.1 L436.8,1024.7Z" fill="#7a8c93"/>
<path d="M441,997.5 L777,1009.8" stroke="#b1c2c8" stroke-width="2" opacity="0.7"/>
<path d="M507,1010.4 L579,1012.8" stroke="#bbcacf" stroke-width="1.4" opacity="0.55"/>
<path d="M686,1015.7 L760,1016.6" stroke="#bbcacf" stroke-width="1.5" opacity="0.55"/>
<path d="M593,1012.7 L701,1016.3" stroke="#bbcacf" stroke-width="1.1" opacity="0.55"/>
<path d="M481,1002.6 L639,1007.7" stroke="#bbcacf" stroke-width="2.8" opacity="0.55"/>
<path d="M792.6,1008.9 L937.4,1014.5 L946.7,1029.5 L943.7,1042.8 L789.1,1037.2Z" fill="#7e9097"/>
<path d="M793,1010.4 L939,1016.0" stroke="#b5c6cc" stroke-width="2" opacity="0.7"/>
<path d="M887,1028.5 L919,1028.1" stroke="#606a6f" stroke-width="2.2" opacity="0.5"/>
<path d="M836,1031.0 L866,1030.9" stroke="#bfced3" stroke-width="1.5" opacity="0.55"/>
<path d="M810,1029.5 L866,1030.9" stroke="#bfced3" stroke-width="2.4" opacity="0.55"/>
<path d="M77.4,1013.6 L216.0,1019.5 L224.0,1030.1 L218.7,1039.4 L75.0,1033.5Z" fill="#7b8d94"/>
<path d="M79,1015.1 L216,1021.0" stroke="#b2c3c9" stroke-width="2" opacity="0.7"/>
<path d="M96,1029.1 L116,1029.6" stroke="#5d676c" stroke-width="1.6" opacity="0.5"/>
<path d="M99,1023.4 L171,1025.7" stroke="#bccbd0" stroke-width="1.8" opacity="0.55"/>
<path d="M102,1033.3 L176,1037.2" stroke="#bccbd0" stroke-width="1.4" opacity="0.55"/>
<path d="M232.9,1018.8 L318.3,1022.4 L324.0,1034.1 L321.1,1043.4 L232.3,1039.8Z" fill="#73858c"/>
<path d="M236,1020.3 L316,1023.9" stroke="#aabbc1" stroke-width="2" opacity="0.7"/>
<path d="M244,1025.0 L255,1025.0" stroke="#555f64" stroke-width="2.1" opacity="0.5"/>
<path d="M242,1038.9 L278,1039.0" stroke="#b4c3c8" stroke-width="1.3" opacity="0.55"/>
<path d="M284,1025.5 L307,1027.6" stroke="#555f64" stroke-width="1.6" opacity="0.5"/>
<path d="M336.9,1023.4 L659.7,1036.7 L666.1,1047.7 L665.4,1057.1 L333.2,1043.8Z" fill="#76888f"/>
<path d="M337,1024.9 L658,1038.2" stroke="#adbec4" stroke-width="2" opacity="0.7"/>
<path d="M448,1042.7 L596,1047.4" stroke="#586267" stroke-width="1.9" opacity="0.5"/>
<path d="M609,1047.8 L648,1048.8" stroke="#b7c6cb" stroke-width="1.3" opacity="0.55"/>
<path d="M370,1045.3 L512,1052.4" stroke="#586267" stroke-width="2.3" opacity="0.5"/>
<path d="M671.7,1037.6 L945.8,1048.9 L952.1,1059.1 L949.6,1068.5 L668.4,1057.2Z" fill="#708289"/>
<path d="M672,1039.1 L944,1050.4" stroke="#a7b8be" stroke-width="2" opacity="0.7"/>
<path d="M757,1050.0 L813,1052.3" stroke="#b1c0c5" stroke-width="1.4" opacity="0.55"/>
<path d="M735,1043.8 L875,1049.9" stroke="#b1c0c5" stroke-width="2.6" opacity="0.55"/>
<path d="M734,1058.4 L854,1062.6" stroke="#b1c0c5" stroke-width="1.7" opacity="0.55"/>
<path d="M799,1060.4 L884,1062.3" stroke="#b1c0c5" stroke-width="2.8" opacity="0.55"/>
<path d="M682,1047.2 L792,1053.1" stroke="#525c61" stroke-width="2.3" opacity="0.5"/>
<path d="M53.2,1035.7 L151.5,1040.4 L161.3,1056.4 L157.4,1070.1 L52.1,1065.4Z" fill="#84969d"/>
<path d="M56,1037.2 L153,1041.9" stroke="#bbccd2" stroke-width="2" opacity="0.7"/>
<path d="M67,1059.0 L109,1061.3" stroke="#667075" stroke-width="1.5" opacity="0.5"/>
<path d="M117,1051.9 L155,1052.5" stroke="#c5d4d9" stroke-width="2.9" opacity="0.55"/>
<path d="M97,1055.0 L133,1056.1" stroke="#c5d4d9" stroke-width="1.4" opacity="0.55"/>
<path d="M173.6,1040.3 L373.5,1049.2 L375.2,1065.6 L369.0,1079.3 L168.2,1070.4Z" fill="#697b82"/>
<path d="M172,1041.8 L367,1050.7" stroke="#a0b1b7" stroke-width="2" opacity="0.7"/>
<path d="M325,1071.8 L349,1072.7" stroke="#4b555a" stroke-width="2.0" opacity="0.5"/>
<path d="M196,1064.3 L291,1069.8" stroke="#aab9be" stroke-width="2.5" opacity="0.55"/>
<path d="M384.5,1049.2 L572.4,1057.7 L580.1,1074.4 L576.5,1088.1 L382.3,1079.6Z" fill="#6f8188"/>
<path d="M386,1050.7 L572,1059.2" stroke="#a6b7bd" stroke-width="2" opacity="0.7"/>
<path d="M413,1071.4 L508,1074.7" stroke="#b0bfc4" stroke-width="2.9" opacity="0.55"/>
<path d="M476,1080.6 L569,1085.6" stroke="#515b60" stroke-width="1.4" opacity="0.5"/>
<path d="M436,1064.1 L505,1065.2" stroke="#b0bfc4" stroke-width="2.0" opacity="0.55"/>
<path d="M587.2,1056.2 L851.6,1067.7 L852.7,1086.2 L849.8,1099.8 L585.1,1088.3Z" fill="#5b6d74"/>
<path d="M589,1057.7 L845,1069.2" stroke="#92a3a9" stroke-width="2" opacity="0.7"/>
<path d="M613,1073.1 L672,1076.9" stroke="#9cabb0" stroke-width="1.3" opacity="0.55"/>
<path d="M695,1066.4 L807,1069.5" stroke="#9cabb0" stroke-width="1.3" opacity="0.55"/>
<path d="M757,1085.7 L813,1086.4" stroke="#3d474c" stroke-width="2.6" opacity="0.5"/>
<path d="M99.1,1069.9 L346.3,1082.1 L355.3,1099.6 L355.0,1114.0 L97.6,1101.7Z" fill="#798b92"/>
<path d="M102,1071.4 L347,1083.6" stroke="#b0c1c7" stroke-width="2" opacity="0.7"/>
<path d="M110,1086.8 L160,1087.3" stroke="#5b656a" stroke-width="2.1" opacity="0.5"/>
<path d="M141,1102.8 L181,1104.7" stroke="#5b656a" stroke-width="2.3" opacity="0.5"/>
<path d="M365.9,1080.4 L678.1,1095.9 L688.0,1115.4 L682.2,1129.8 L362.2,1114.3Z" fill="#6b7d84"/>
<path d="M366,1081.9 L680,1097.4" stroke="#a2b3b9" stroke-width="2" opacity="0.7"/>
<path d="M609,1116.9 L643,1118.4" stroke="#4d575c" stroke-width="2.5" opacity="0.5"/>
<path d="M390,1099.4 L452,1100.5" stroke="#acbbc0" stroke-width="1.7" opacity="0.55"/>
<path d="M533,1114.3 L657,1119.2" stroke="#4d575c" stroke-width="2.1" opacity="0.5"/>
<path d="M462,1102.4 L597,1109.4" stroke="#acbbc0" stroke-width="2.9" opacity="0.55"/>
<path d="M365,1091.8 L512,1097.8" stroke="#acbbc0" stroke-width="2.5" opacity="0.55"/>
<path d="M693.8,1096.5 L1049.4,1113.7 L1055.4,1132.8 L1052.4,1147.2 L691.4,1129.9Z" fill="#6c7e85"/>
<path d="M695,1098.0 L1047,1115.2" stroke="#a3b4ba" stroke-width="2" opacity="0.7"/>
<path d="M693,1114.7 L807,1121.9" stroke="#adbcc1" stroke-width="1.5" opacity="0.55"/>
<path d="M775,1129.8 L926,1137.2" stroke="#adbcc1" stroke-width="1.3" opacity="0.55"/>
<path d="M885,1111.9 L938,1116.4" stroke="#adbcc1" stroke-width="2.4" opacity="0.55"/>
<path d="M889,1112.1 L946,1113.1" stroke="#adbcc1" stroke-width="1.1" opacity="0.55"/>
<path d="M735,1127.1 L882,1134.2" stroke="#4e585d" stroke-width="2.3" opacity="0.5"/>
<path d="M111.1,1103.2 L406.4,1118.7 L406.7,1137.6 L399.9,1152.0 L110.5,1136.5Z" fill="#677980"/>
<path d="M114,1104.7 L399,1120.2" stroke="#9eafb5" stroke-width="2" opacity="0.7"/>
<path d="M166,1133.7 L270,1137.5" stroke="#a8b7bc" stroke-width="2.5" opacity="0.55"/>
<path d="M207,1119.2 L275,1121.8" stroke="#a8b7bc" stroke-width="1.6" opacity="0.55"/>
<path d="M415.4,1120.7 L704.6,1136.2 L709.4,1153.4 L707.1,1167.8 L411.8,1152.2Z" fill="#6c7e85"/>
<path d="M416,1122.2 L701,1137.7" stroke="#a3b4ba" stroke-width="2" opacity="0.7"/>
<path d="M549,1154.4 L582,1156.1" stroke="#adbcc1" stroke-width="1.1" opacity="0.55"/>
<path d="M563,1149.2 L678,1154.3" stroke="#adbcc1" stroke-width="1.9" opacity="0.55"/>
<path d="M717.3,1134.2 L951.2,1146.9 L956.1,1166.3 L949.8,1180.7 L714.3,1168.0Z" fill="#5b6d74"/>
<path d="M718,1135.7 L948,1148.4" stroke="#92a3a9" stroke-width="2" opacity="0.7"/>
<path d="M868,1173.6 L949,1178.2" stroke="#9cabb0" stroke-width="1.3" opacity="0.55"/>
<path d="M744,1163.0 L859,1170.8" stroke="#9cabb0" stroke-width="2.5" opacity="0.55"/>
<path d="M783,1156.3 L903,1161.9" stroke="#9cabb0" stroke-width="1.2" opacity="0.55"/>
<path d="M122.6,1137.5 L424.8,1154.9 L427.5,1174.9 L420.3,1189.5 L121.3,1172.1Z" fill="#81939a"/>
<path d="M125,1139.0 L419,1156.4" stroke="#b8c9cf" stroke-width="2" opacity="0.7"/>
<path d="M160,1155.6 L299,1163.7" stroke="#c2d1d6" stroke-width="2.5" opacity="0.55"/>
<path d="M190,1167.6 L300,1172.5" stroke="#c2d1d6" stroke-width="2.7" opacity="0.55"/>
<path d="M153,1163.0 L274,1171.0" stroke="#c2d1d6" stroke-width="2.2" opacity="0.55"/>
<path d="M434.0,1155.9 L556.4,1163.1 L559.4,1182.4 L553.8,1197.1 L432.8,1189.9Z" fill="#84969d"/>
<path d="M437,1157.4 L551,1164.6" stroke="#bbccd2" stroke-width="2" opacity="0.7"/>
<path d="M480,1183.9 L542,1186.9" stroke="#667075" stroke-width="1.5" opacity="0.5"/>
<path d="M529,1193.2 L555,1193.3" stroke="#667075" stroke-width="2.3" opacity="0.5"/>
<path d="M449,1167.6 L469,1168.0" stroke="#c5d4d9" stroke-width="1.5" opacity="0.55"/>
<path d="M567.4,1163.3 L686.4,1170.2 L686.8,1189.6 L683.6,1204.3 L565.1,1197.4Z" fill="#697b82"/>
<path d="M569,1164.8 L679,1171.7" stroke="#a0b1b7" stroke-width="2" opacity="0.7"/>
<path d="M619,1191.0 L655,1191.6" stroke="#aab9be" stroke-width="2.2" opacity="0.55"/>
<path d="M632,1183.8 L680,1186.8" stroke="#aab9be" stroke-width="2.5" opacity="0.55"/>
<path d="M636,1184.5 L659,1186.9" stroke="#4b555a" stroke-width="2.4" opacity="0.5"/>
<path d="M614,1195.1 L659,1196.9" stroke="#aab9be" stroke-width="2.3" opacity="0.55"/>
<path d="M635,1175.5 L667,1177.9" stroke="#4b555a" stroke-width="1.5" opacity="0.5"/>
<path d="M699.2,1172.7 L902.3,1184.9 L908.9,1202.3 L901.9,1217.0 L696.1,1204.9Z" fill="#7f9198"/>
<path d="M700,1174.2 L901,1186.4" stroke="#b6c7cd" stroke-width="2" opacity="0.7"/>
<path d="M774,1204.1 L828,1205.3" stroke="#616b70" stroke-width="2.1" opacity="0.5"/>
<path d="M814,1189.4 L901,1192.8" stroke="#c0cfd4" stroke-width="2.1" opacity="0.55"/>
<path d="M763,1196.9 L845,1203.0" stroke="#616b70" stroke-width="2.0" opacity="0.5"/>
<path d="M719,1190.9 L821,1196.2" stroke="#616b70" stroke-width="2.5" opacity="0.5"/>
<path d="M129.1,1174.0 L321.1,1186.0 L321.8,1196.1 L314.5,1205.0 L128.8,1193.1Z" fill="#697b82"/>
<path d="M133,1175.5 L314,1187.5" stroke="#a0b1b7" stroke-width="2" opacity="0.7"/>
<path d="M179,1190.1 L207,1193.6" stroke="#aab9be" stroke-width="2.9" opacity="0.55"/>
<path d="M175,1196.7 L268,1204.2" stroke="#aab9be" stroke-width="1.1" opacity="0.55"/>
<path d="M231,1196.9 L265,1200.3" stroke="#4b555a" stroke-width="1.3" opacity="0.5"/>
<path d="M216,1193.8 L299,1201.0" stroke="#aab9be" stroke-width="2.5" opacity="0.55"/>
<path d="M329.4,1186.0 L600.0,1203.2 L602.7,1213.5 L599.7,1222.4 L324.3,1205.2Z" fill="#76888f"/>
<path d="M328,1187.5 L595,1204.7" stroke="#adbec4" stroke-width="2" opacity="0.7"/>
<path d="M409,1210.9 L512,1218.5" stroke="#586267" stroke-width="1.7" opacity="0.5"/>
<path d="M428,1206.7 L492,1209.0" stroke="#586267" stroke-width="2.8" opacity="0.5"/>
<path d="M408,1197.1 L469,1201.1" stroke="#b7c6cb" stroke-width="1.6" opacity="0.55"/>
<path d="M390,1209.1 L477,1215.1" stroke="#b7c6cb" stroke-width="1.4" opacity="0.55"/>
<path d="M611.8,1203.0 L719.5,1209.9 L721.8,1220.9 L715.6,1229.8 L610.9,1222.9Z" fill="#7e9097"/>
<path d="M615,1204.5 L714,1211.4" stroke="#b5c6cc" stroke-width="2" opacity="0.7"/>
<path d="M647,1221.7 L668,1223.3" stroke="#bfced3" stroke-width="2.4" opacity="0.55"/>
<path d="M697,1227.9 L712,1229.4" stroke="#bfced3" stroke-width="1.6" opacity="0.55"/>
<path d="M618,1215.0 L639,1217.0" stroke="#606a6f" stroke-width="1.2" opacity="0.5"/>
<path d="M678,1212.5 L708,1214.5" stroke="#bfced3" stroke-width="2.0" opacity="0.55"/>
<path d="M729.4,1211.3 L1070.1,1233.1 L1078.7,1243.0 L1078.7,1251.8 L726.1,1230.0Z" fill="#677980"/>
<path d="M730,1212.8 L1071,1234.6" stroke="#9eafb5" stroke-width="2" opacity="0.7"/>
<path d="M884,1232.2 L999,1238.8" stroke="#495358" stroke-width="1.8" opacity="0.5"/>
<path d="M922,1242.7 L967,1243.7" stroke="#495358" stroke-width="2.2" opacity="0.5"/>
<path d="M788,1229.8 L954,1240.2" stroke="#495358" stroke-width="2.0" opacity="0.5"/>
<path d="M951,1243.5 L991,1245.3" stroke="#495358" stroke-width="2.7" opacity="0.5"/>
<path d="M90.0,1192.3 L327.9,1208.0 L330.4,1221.1 L329.9,1231.7 L88.0,1216.0Z" fill="#65777e"/>
<path d="M92,1193.8 L322,1209.5" stroke="#9cadb3" stroke-width="2" opacity="0.7"/>
<path d="M144,1205.7 L248,1211.6" stroke="#a6b5ba" stroke-width="2.0" opacity="0.55"/>
<path d="M210,1223.6 L298,1228.6" stroke="#a6b5ba" stroke-width="1.6" opacity="0.55"/>
<path d="M211,1215.9 L297,1222.4" stroke="#a6b5ba" stroke-width="2.8" opacity="0.55"/>
<path d="M152,1211.3 L181,1211.9" stroke="#a6b5ba" stroke-width="2.8" opacity="0.55"/>
<path d="M342.2,1210.4 L598.9,1227.7 L605.1,1238.9 L600.0,1249.5 L338.5,1232.2Z" fill="#788a91"/>
<path d="M343,1211.9 L597,1229.2" stroke="#afc0c6" stroke-width="2" opacity="0.7"/>
<path d="M416,1223.6 L514,1228.4" stroke="#5a6469" stroke-width="1.4" opacity="0.5"/>
<path d="M482,1224.4 L592,1231.0" stroke="#5a6469" stroke-width="2.6" opacity="0.5"/>
<path d="M613.4,1228.0 L930.1,1248.6 L930.4,1260.0 L930.2,1270.6 L612.3,1250.0Z" fill="#687a81"/>
<path d="M616,1229.5 L922,1250.1" stroke="#9fb0b6" stroke-width="2" opacity="0.7"/>
<path d="M794,1253.7 L892,1259.7" stroke="#4a5459" stroke-width="2.4" opacity="0.5"/>
<path d="M801,1252.3 L842,1256.9" stroke="#a9b8bd" stroke-width="2.3" opacity="0.55"/>
<path d="M112.5,1218.9 L360.6,1235.9 L360.7,1247.0 L360.7,1256.1 L111.6,1239.1Z" fill="#76888f"/>
<path d="M116,1220.4 L353,1237.4" stroke="#adbec4" stroke-width="2" opacity="0.7"/>
<path d="M142,1241.3 L252,1248.7" stroke="#b7c6cb" stroke-width="1.6" opacity="0.55"/>
<path d="M245,1241.2 L315,1245.4" stroke="#586267" stroke-width="2.5" opacity="0.5"/>
<path d="M366.8,1236.4 L649.9,1256.3 L654.9,1267.1 L649.6,1276.2 L363.4,1256.3Z" fill="#5d6f76"/>
<path d="M367,1237.9 L647,1257.8" stroke="#94a5ab" stroke-width="2" opacity="0.7"/>
<path d="M372,1256.0 L407,1259.9" stroke="#9eadb2" stroke-width="2.4" opacity="0.55"/>
<path d="M431,1255.0 L506,1261.9" stroke="#3f494e" stroke-width="2.7" opacity="0.5"/>
<path d="M577,1264.8 L643,1269.2" stroke="#3f494e" stroke-width="1.3" opacity="0.5"/>
<path d="M601,1272.5 L643,1276.6" stroke="#9eadb2" stroke-width="2.0" opacity="0.55"/>
<path d="M661.5,1258.0 L970.8,1279.5 L973.7,1288.9 L973.2,1298.0 L658.1,1276.4Z" fill="#697b82"/>
<path d="M662,1259.5 L966,1281.0" stroke="#a0b1b7" stroke-width="2" opacity="0.7"/>
<path d="M661,1276.5 L784,1286.2" stroke="#aab9be" stroke-width="2.2" opacity="0.55"/>
<path d="M756,1284.8 L819,1290.1" stroke="#aab9be" stroke-width="1.5" opacity="0.55"/>
<path d="M721,1273.4 L840,1280.2" stroke="#aab9be" stroke-width="2.8" opacity="0.55"/>
<path d="M712,1278.1 L842,1288.6" stroke="#aab9be" stroke-width="3.0" opacity="0.55"/>
<path d="M128.5,1242.2 L443.7,1265.1 L449.2,1275.7 L442.9,1284.7 L128.0,1261.8Z" fill="#778990"/>
<path d="M132,1243.7 L441,1266.6" stroke="#aebfc5" stroke-width="2" opacity="0.7"/>
<path d="M321,1272.7 L446,1279.9" stroke="#b8c7cc" stroke-width="1.8" opacity="0.55"/>
<path d="M228,1264.7 L379,1275.1" stroke="#b8c7cc" stroke-width="2.1" opacity="0.55"/>
<path d="M143,1255.8 L221,1261.4" stroke="#b8c7cc" stroke-width="1.5" opacity="0.55"/>
<path d="M456.8,1266.3 L785.4,1290.0 L787.3,1299.8 L785.8,1308.8 L455.6,1285.2Z" fill="#788a91"/>
<path d="M460,1267.8 L779,1291.5" stroke="#afc0c6" stroke-width="2" opacity="0.7"/>
<path d="M546,1282.3 L654,1288.6" stroke="#b9c8cd" stroke-width="1.1" opacity="0.55"/>
<path d="M482,1288.5 L565,1295.6" stroke="#5a6469" stroke-width="1.3" opacity="0.5"/>
<path d="M587,1289.2 L666,1293.0" stroke="#b9c8cd" stroke-width="3.0" opacity="0.55"/>
<path d="M588,1293.9 L686,1302.0" stroke="#b9c8cd" stroke-width="1.9" opacity="0.55"/>
<path d="M793.4,1291.4 L1156.0,1317.4 L1156.3,1326.1 L1154.7,1335.2 L791.9,1309.2Z" fill="#7e9097"/>
<path d="M796,1292.9 L1148,1318.9" stroke="#b5c6cc" stroke-width="2" opacity="0.7"/>
<path d="M803,1302.0 L844,1305.8" stroke="#bfced3" stroke-width="2.0" opacity="0.55"/>
<path d="M962,1321.3 L1129,1334.9" stroke="#606a6f" stroke-width="2.4" opacity="0.5"/>
<path d="M858,1301.0 L940,1308.6" stroke="#bfced3" stroke-width="2.0" opacity="0.55"/>
<path d="M118.2,1262.7 L313.0,1277.4 L315.5,1288.7 L312.7,1298.0 L118.0,1283.3Z" fill="#86989f"/>
<path d="M122,1264.2 L308,1278.9" stroke="#bdced4" stroke-width="2" opacity="0.7"/>
<path d="M255,1291.0 L278,1293.3" stroke="#687277" stroke-width="3.0" opacity="0.5"/>
<path d="M244,1276.5 L275,1279.5" stroke="#687277" stroke-width="1.6" opacity="0.5"/>
<path d="M321.7,1278.4 L577.0,1297.9 L580.9,1308.4 L577.9,1317.7 L319.4,1298.3Z" fill="#5e7077"/>
<path d="M323,1279.9 L573,1299.4" stroke="#95a6ac" stroke-width="2" opacity="0.7"/>
<path d="M350,1287.1 L401,1289.0" stroke="#404a4f" stroke-width="2.4" opacity="0.5"/>
<path d="M534,1301.3 L564,1305.3" stroke="#9faeb3" stroke-width="2.7" opacity="0.55"/>
<path d="M418,1304.8 L459,1309.5" stroke="#9faeb3" stroke-width="2.7" opacity="0.55"/>
<path d="M383,1297.6 L457,1303.0" stroke="#404a4f" stroke-width="2.3" opacity="0.5"/>
<path d="M331,1285.3 L381,1289.2" stroke="#404a4f" stroke-width="1.3" opacity="0.5"/>
<path d="M589.2,1297.8 L925.8,1323.3 L931.5,1334.5 L929.1,1343.8 L589.0,1318.3Z" fill="#72848b"/>
<path d="M593,1299.3 L924,1324.8" stroke="#a9bac0" stroke-width="2" opacity="0.7"/>
<path d="M723,1315.8 L772,1318.1" stroke="#b3c2c7" stroke-width="2.0" opacity="0.55"/>
<path d="M774,1326.1 L917,1338.0" stroke="#b3c2c7" stroke-width="1.2" opacity="0.55"/>
<path d="M665,1320.1 L832,1331.5" stroke="#b3c2c7" stroke-width="1.5" opacity="0.55"/>
<path d="M87.1,1282.0 L215.9,1292.6 L220.3,1306.4 L216.2,1317.2 L83.3,1306.6Z" fill="#6a7c83"/>
<path d="M87,1283.5 L212,1294.1" stroke="#a1b2b8" stroke-width="2" opacity="0.7"/>
<path d="M159,1300.9 L216,1304.7" stroke="#abbabf" stroke-width="1.1" opacity="0.55"/>
<path d="M103,1295.8 L132,1298.2" stroke="#4c565b" stroke-width="1.5" opacity="0.5"/>
<path d="M158,1295.4 L205,1299.9" stroke="#4c565b" stroke-width="2.5" opacity="0.5"/>
<path d="M233.8,1295.0 L364.0,1305.9 L369.8,1318.0 L368.2,1328.8 L228.9,1317.9Z" fill="#82949b"/>
<path d="M233,1296.5 L362,1307.4" stroke="#b9cad0" stroke-width="2" opacity="0.7"/>
<path d="M311,1319.4 L354,1322.8" stroke="#646e73" stroke-width="1.7" opacity="0.5"/>
<path d="M315,1311.4 L365,1314.9" stroke="#c3d2d7" stroke-width="2.5" opacity="0.55"/>
<path d="M377.9,1304.5 L497.9,1314.5 L501.5,1328.2 L500.2,1339.0 L372.9,1329.0Z" fill="#677980"/>
<path d="M377,1306.0 L494,1316.0" stroke="#9eafb5" stroke-width="2" opacity="0.7"/>
<path d="M398,1322.2 L455,1328.5" stroke="#495358" stroke-width="1.1" opacity="0.5"/>
<path d="M459,1322.5 L484,1325.5" stroke="#495358" stroke-width="2.7" opacity="0.5"/>
<path d="M393,1321.8 L452,1327.3" stroke="#a8b7bc" stroke-width="1.9" opacity="0.55"/>
<path d="M383,1309.9 L437,1312.4" stroke="#a8b7bc" stroke-width="2.2" opacity="0.55"/>
<path d="M509.0,1317.0 L646.6,1327.7 L647.5,1339.5 L642.0,1350.3 L508.9,1339.5Z" fill="#7b8d94"/>
<path d="M513,1318.5 L640,1329.2" stroke="#b2c3c9" stroke-width="2" opacity="0.7"/>
<path d="M559,1330.2 L619,1333.8" stroke="#bccbd0" stroke-width="1.9" opacity="0.55"/>
<path d="M530,1329.8 L549,1331.1" stroke="#bccbd0" stroke-width="2.2" opacity="0.55"/>
<path d="M523,1337.6 L543,1339.3" stroke="#5d676c" stroke-width="1.5" opacity="0.5"/>
<path d="M653.0,1327.8 L799.6,1339.9 L807.9,1351.9 L800.4,1362.7 L652.0,1350.6Z" fill="#75878e"/>
<path d="M656,1329.3 L800,1341.4" stroke="#acbdc3" stroke-width="2" opacity="0.7"/>
<path d="M714,1350.8 L767,1356.7" stroke="#b6c5ca" stroke-width="1.1" opacity="0.55"/>
<path d="M749,1346.7 L789,1351.2" stroke="#576166" stroke-width="2.1" opacity="0.5"/>
<path d="M700,1355.6 L736,1357.6" stroke="#b6c5ca" stroke-width="1.3" opacity="0.55"/>
<path d="M755,1353.6 L793,1354.6" stroke="#576166" stroke-width="1.2" opacity="0.5"/>
<path d="M676,1337.6 L712,1339.2" stroke="#576166" stroke-width="1.8" opacity="0.5"/>
<path d="M820.1,1340.1 L1011.5,1356.0 L1020.4,1368.3 L1013.3,1379.1 L815.2,1363.3Z" fill="#75878e"/>
<path d="M819,1341.6 L1012,1357.5" stroke="#acbdc3" stroke-width="2" opacity="0.7"/>
<path d="M938,1371.2 L1009,1377.3" stroke="#576166" stroke-width="2.6" opacity="0.5"/>
<path d="M837,1346.6 L865,1347.7" stroke="#b6c5ca" stroke-width="1.1" opacity="0.55"/>
<path d="M78.3,1309.5 L210.3,1320.7 L216.2,1329.2 L208.8,1338.0 L77.8,1326.8Z" fill="#788a91"/>
<path d="M82,1311.0 L208,1322.2" stroke="#afc0c6" stroke-width="2" opacity="0.7"/>
<path d="M112,1317.6 L133,1318.5" stroke="#b9c8cd" stroke-width="1.5" opacity="0.55"/>
<path d="M157,1320.6 L201,1324.5" stroke="#5a6469" stroke-width="2.3" opacity="0.5"/>
<path d="M117,1319.3 L170,1324.0" stroke="#b9c8cd" stroke-width="1.9" opacity="0.55"/>
<path d="M102,1319.9 L130,1321.6" stroke="#b9c8cd" stroke-width="2.2" opacity="0.55"/>
<path d="M168,1320.3 L202,1323.2" stroke="#b9c8cd" stroke-width="2.0" opacity="0.55"/>
<path d="M218.8,1318.3 L385.8,1332.3 L391.3,1343.4 L386.5,1352.2 L218.7,1338.2Z" fill="#6a7c83"/>
<path d="M223,1319.8 L383,1333.8" stroke="#a1b2b8" stroke-width="2" opacity="0.7"/>
<path d="M277,1333.7 L299,1336.3" stroke="#abbabf" stroke-width="1.2" opacity="0.55"/>
<path d="M285,1330.7 L368,1336.8" stroke="#abbabf" stroke-width="1.7" opacity="0.55"/>
<path d="M315,1340.6 L374,1345.5" stroke="#4c565b" stroke-width="2.5" opacity="0.5"/>
<path d="M268,1337.9 L337,1344.4" stroke="#4c565b" stroke-width="2.8" opacity="0.5"/>
<path d="M404.5,1334.2 L526.9,1344.5 L528.1,1354.4 L524.9,1363.3 L401.2,1353.0Z" fill="#586a71"/>
<path d="M405,1335.7 L520,1346.0" stroke="#8fa0a6" stroke-width="2" opacity="0.7"/>
<path d="M466,1349.7 L519,1353.4" stroke="#3a4449" stroke-width="1.9" opacity="0.5"/>
<path d="M424,1346.9 L473,1351.1" stroke="#99a8ad" stroke-width="1.8" opacity="0.55"/>
<path d="M464,1347.9 L517,1352.0" stroke="#99a8ad" stroke-width="1.4" opacity="0.55"/>
<path d="M538.5,1345.1 L707.0,1359.5 L715.3,1369.6 L712.6,1378.4 L537.1,1364.0Z" fill="#7c8e95"/>
<path d="M541,1346.6 L707,1361.0" stroke="#b3c4ca" stroke-width="2" opacity="0.7"/>
<path d="M599,1369.3 L632,1369.9" stroke="#5e686d" stroke-width="1.1" opacity="0.5"/>
<path d="M652,1367.0 L705,1371.5" stroke="#5e686d" stroke-width="3.0" opacity="0.5"/>
<path d="M622,1363.8 L676,1367.7" stroke="#bdccd1" stroke-width="2.2" opacity="0.55"/>
<path d="M719.8,1358.8 L906.1,1374.4 L910.2,1385.4 L906.2,1394.2 L718.4,1378.7Z" fill="#83959c"/>
<path d="M722,1360.3 L902,1375.9" stroke="#bacbd1" stroke-width="2" opacity="0.7"/>
<path d="M766,1380.6 L860,1388.6" stroke="#c4d3d8" stroke-width="3.0" opacity="0.55"/>
<path d="M826,1376.5 L886,1380.7" stroke="#c4d3d8" stroke-width="3.0" opacity="0.55"/>
<path d="M733,1377.0 L792,1382.5" stroke="#656f74" stroke-width="2.6" opacity="0.5"/>
<path d="M122.3,1333.7 L324.2,1351.5 L333.1,1369.8 L329.8,1384.9 L121.1,1367.1Z" fill="#6a7c83"/>
<path d="M125,1335.2 L325,1353.0" stroke="#a1b2b8" stroke-width="2" opacity="0.7"/>
<path d="M170,1361.4 L243,1368.0" stroke="#4c565b" stroke-width="1.1" opacity="0.5"/>
<path d="M159,1354.3 L247,1359.7" stroke="#4c565b" stroke-width="1.6" opacity="0.5"/>
<path d="M337.4,1349.4 L662.9,1377.5 L670.6,1398.1 L666.0,1413.2 L336.4,1385.2Z" fill="#82949b"/>
<path d="M340,1350.9 L663,1379.0" stroke="#b9cad0" stroke-width="2" opacity="0.7"/>
<path d="M366,1373.9 L455,1382.4" stroke="#c3d2d7" stroke-width="1.2" opacity="0.55"/>
<path d="M482,1370.1 L538,1375.3" stroke="#646e73" stroke-width="2.6" opacity="0.5"/>
<path d="M567,1376.2 L602,1380.0" stroke="#c3d2d7" stroke-width="1.7" opacity="0.55"/>
<path d="M683.0,1380.5 L815.8,1392.2 L816.4,1410.3 L814.9,1425.5 L677.3,1413.8Z" fill="#5e7077"/>
<path d="M681,1382.0 L808,1393.7" stroke="#95a6ac" stroke-width="2" opacity="0.7"/>
<path d="M722,1390.5 L748,1390.9" stroke="#404a4f" stroke-width="1.1" opacity="0.5"/>
<path d="M695,1394.5 L722,1395.4" stroke="#9faeb3" stroke-width="1.0" opacity="0.55"/>
<path d="M719,1414.3 L758,1419.1" stroke="#9faeb3" stroke-width="3.0" opacity="0.55"/>
<path d="M736,1393.1 L788,1397.1" stroke="#9faeb3" stroke-width="1.8" opacity="0.55"/>
<path d="M785,1415.4 L800,1415.4" stroke="#9faeb3" stroke-width="1.8" opacity="0.55"/>
<path d="M122.9,1368.9 L321.4,1387.1 L325.4,1395.6 L324.9,1403.7 L120.6,1385.4Z" fill="#6d7f86"/>
<path d="M125,1370.4 L317,1388.6" stroke="#a4b5bb" stroke-width="2" opacity="0.7"/>
<path d="M181,1383.7 L277,1392.0" stroke="#aebdc2" stroke-width="1.7" opacity="0.55"/>
<path d="M125,1378.9 L168,1381.7" stroke="#4f595e" stroke-width="1.3" opacity="0.5"/>
<path d="M333.1,1387.6 L469.3,1400.7 L477.3,1409.1 L475.3,1417.2 L330.3,1404.1Z" fill="#607279"/>
<path d="M334,1389.1 L469,1402.2" stroke="#97a8ae" stroke-width="2" opacity="0.7"/>
<path d="M364,1399.0 L421,1402.9" stroke="#424c51" stroke-width="2.9" opacity="0.5"/>
<path d="M384,1403.1 L412,1406.4" stroke="#a1b0b5" stroke-width="1.5" opacity="0.55"/>
<path d="M366,1407.4 L416,1412.2" stroke="#a1b0b5" stroke-width="1.4" opacity="0.55"/>
<path d="M394,1409.5 L416,1410.6" stroke="#a1b0b5" stroke-width="2.5" opacity="0.55"/>
<path d="M483.7,1400.0 L678.1,1418.0 L685.2,1427.6 L679.7,1435.7 L483.6,1417.7Z" fill="#7c8e95"/>
<path d="M488,1401.5 L677,1419.5" stroke="#b3c4ca" stroke-width="2" opacity="0.7"/>
<path d="M498,1409.1 L571,1415.1" stroke="#bdccd1" stroke-width="2.0" opacity="0.55"/>
<path d="M538,1412.4 L564,1413.2" stroke="#bdccd1" stroke-width="2.4" opacity="0.55"/>
<path d="M619,1419.3 L672,1425.6" stroke="#5e686d" stroke-width="2.7" opacity="0.5"/>
<path d="M697.3,1419.3 L813.9,1430.7 L820.8,1439.7 L813.6,1447.7 L692.5,1436.3Z" fill="#596b72"/>
<path d="M696,1420.8 L813,1432.2" stroke="#90a1a7" stroke-width="2" opacity="0.7"/>
<path d="M712,1434.0 L761,1437.7" stroke="#3b454a" stroke-width="2.3" opacity="0.5"/>
<path d="M792,1433.9 L811,1436.4" stroke="#3b454a" stroke-width="1.1" opacity="0.5"/>
<path d="M66.3,1383.4 L204.1,1397.0 L210.4,1405.2 L202.9,1413.5 L63.0,1400.0Z" fill="#708289"/>
<path d="M67,1384.9 L202,1398.5" stroke="#a7b8be" stroke-width="2" opacity="0.7"/>
<path d="M86,1397.5 L143,1403.5" stroke="#b1c0c5" stroke-width="1.7" opacity="0.55"/>
<path d="M128,1392.5 L192,1396.5" stroke="#b1c0c5" stroke-width="2.7" opacity="0.55"/>
<path d="M95,1398.9 L112,1401.7" stroke="#b1c0c5" stroke-width="1.4" opacity="0.55"/>
<path d="M219.3,1396.4 L560.0,1428.9 L570.0,1438.1 L565.1,1446.4 L214.8,1413.9Z" fill="#5d6f76"/>
<path d="M219,1397.9 L562,1430.4" stroke="#94a5ab" stroke-width="2" opacity="0.7"/>
<path d="M505,1430.5 L554,1436.6" stroke="#9eadb2" stroke-width="2.4" opacity="0.55"/>
<path d="M342,1422.6 L495,1434.9" stroke="#9eadb2" stroke-width="2.4" opacity="0.55"/>
<path d="M444,1427.2 L552,1438.1" stroke="#9eadb2" stroke-width="1.1" opacity="0.55"/>
<path d="M579.0,1428.9 L864.0,1455.8 L871.8,1465.8 L869.9,1474.0 L578.0,1447.1Z" fill="#687a81"/>
<path d="M582,1430.4 L864,1457.3" stroke="#9fb0b6" stroke-width="2" opacity="0.7"/>
<path d="M670,1444.4 L707,1446.5" stroke="#a9b8bd" stroke-width="1.6" opacity="0.55"/>
<path d="M700,1445.3 L812,1454.6" stroke="#a9b8bd" stroke-width="2.0" opacity="0.55"/>
<path d="M632,1443.9 L772,1458.2" stroke="#a9b8bd" stroke-width="1.3" opacity="0.55"/>
<path d="M762,1457.6 L830,1464.9" stroke="#a9b8bd" stroke-width="1.3" opacity="0.55"/>
<path d="M99.6,1404.5 L318.0,1425.6 L321.6,1442.4 L320.0,1455.2 L97.9,1434.1Z" fill="#65777e"/>
<path d="M102,1406.0 L314,1427.1" stroke="#9cadb3" stroke-width="2" opacity="0.7"/>
<path d="M117,1432.6 L167,1439.1" stroke="#a6b5ba" stroke-width="1.3" opacity="0.55"/>
<path d="M141,1424.1 L215,1429.2" stroke="#a6b5ba" stroke-width="1.9" opacity="0.55"/>
<path d="M335.6,1428.2 L698.3,1463.5 L703.9,1478.5 L703.0,1491.3 L329.8,1456.0Z" fill="#8799a0"/>
<path d="M334,1429.7 L696,1465.0" stroke="#becfd5" stroke-width="2" opacity="0.7"/>
<path d="M536,1475.4 L647,1485.3" stroke="#c8d7dc" stroke-width="1.2" opacity="0.55"/>
<path d="M509,1456.7 L638,1469.5" stroke="#697378" stroke-width="1.2" opacity="0.5"/>
<path d="M461,1463.3 L503,1466.7" stroke="#c8d7dc" stroke-width="2.9" opacity="0.55"/>
<path d="M468,1458.6 L639,1475.7" stroke="#c8d7dc" stroke-width="1.6" opacity="0.55"/>
<path d="M511,1464.9 L605,1472.7" stroke="#c8d7dc" stroke-width="1.3" opacity="0.55"/>
<path d="M710.0,1462.6 L1060.8,1496.2 L1066.5,1512.7 L1061.5,1525.5 L709.8,1491.9Z" fill="#687a81"/>
<path d="M714,1464.1 L1059,1497.7" stroke="#9fb0b6" stroke-width="2" opacity="0.7"/>
<path d="M802,1497.8 L972,1512.5" stroke="#a9b8bd" stroke-width="1.6" opacity="0.55"/>
<path d="M923,1501.4 L970,1505.6" stroke="#a9b8bd" stroke-width="2.9" opacity="0.55"/>
<path d="M848,1482.6 L890,1487.4" stroke="#a9b8bd" stroke-width="1.0" opacity="0.55"/>
<path d="M866,1502.3 L1024,1516.3" stroke="#a9b8bd" stroke-width="2.3" opacity="0.55"/>
<path d="M798,1488.1 L894,1497.8" stroke="#a9b8bd" stroke-width="2.7" opacity="0.55"/>
<path d="M66.6,1433.2 L234.2,1450.5 L238.9,1468.2 L234.6,1482.7 L63.2,1465.4Z" fill="#7c8e95"/>
<path d="M67,1434.7 L231,1452.0" stroke="#b3c4ca" stroke-width="2" opacity="0.7"/>
<path d="M139,1457.7 L194,1462.7" stroke="#bdccd1" stroke-width="2.2" opacity="0.55"/>
<path d="M136,1448.0 L211,1456.0" stroke="#bdccd1" stroke-width="2.1" opacity="0.55"/>
<path d="M150,1458.6 L193,1464.4" stroke="#bdccd1" stroke-width="2.1" opacity="0.55"/>
<path d="M85,1458.0 L162,1466.4" stroke="#5e686d" stroke-width="1.3" opacity="0.5"/>
<path d="M176,1465.4 L232,1470.0" stroke="#bdccd1" stroke-width="1.9" opacity="0.55"/>
<path d="M245.1,1450.6 L401.6,1467.0 L410.2,1485.1 L408.2,1499.6 L244.5,1483.3Z" fill="#64767d"/>
<path d="M248,1452.1 L402,1468.5" stroke="#9bacb2" stroke-width="2" opacity="0.7"/>
<path d="M319,1468.5 L380,1474.4" stroke="#a5b4b9" stroke-width="2.1" opacity="0.55"/>
<path d="M336,1484.0 L401,1491.9" stroke="#a5b4b9" stroke-width="2.4" opacity="0.55"/>
<path d="M418.3,1467.4 L728.5,1499.1 L736.1,1517.2 L735.2,1531.7 L414.0,1500.0Z" fill="#788a91"/>
<path d="M418,1468.9 L728,1500.6" stroke="#afc0c6" stroke-width="2" opacity="0.7"/>
<path d="M524,1496.1 L644,1506.8" stroke="#5a6469" stroke-width="2.0" opacity="0.5"/>
<path d="M564,1490.1 L644,1496.2" stroke="#b9c8cd" stroke-width="1.1" opacity="0.55"/>
<path d="M743.4,1498.7 L1028.5,1527.6 L1032.7,1546.5 L1025.6,1561.0 L739.2,1532.0Z" fill="#75878e"/>
<path d="M743,1500.2 L1025,1529.1" stroke="#acbdc3" stroke-width="2" opacity="0.7"/>
<path d="M875,1532.9 L1013,1547.3" stroke="#b6c5ca" stroke-width="1.7" opacity="0.55"/>
<path d="M891,1539.9 L1001,1550.1" stroke="#b6c5ca" stroke-width="2.5" opacity="0.55"/>
<path d="M747,1530.7 L861,1540.3" stroke="#576166" stroke-width="2.1" opacity="0.5"/>
<path d="M140,1048 L290,1066 L440,1068 L805,1104 L805,1336 L440,1294 L290,1280 L140,1266Z" fill="#cfe0e4" opacity="0.12"/>
<path d="M140,1045 L290,1065" stroke="#2e3236" stroke-width="3" opacity="0.5" transform="translate(0,4)"/>
<path d="M140,1045 L290,1065" stroke="#b3b8ba" stroke-width="5"/>
<path d="M440,1066 L805,1105" stroke="#2e3236" stroke-width="3" opacity="0.5" transform="translate(0,4)"/>
<path d="M440,1066 L805,1105" stroke="#b3b8ba" stroke-width="5"/>
<path d="M150,1265 L290,1280" stroke="#2e3236" stroke-width="3" opacity="0.5" transform="translate(0,4)"/>
<path d="M150,1265 L290,1280" stroke="#b3b8ba" stroke-width="5"/>
<path d="M440,1292 L805,1336" stroke="#2e3236" stroke-width="3" opacity="0.5" transform="translate(0,4)"/>
<path d="M440,1292 L805,1336" stroke="#b3b8ba" stroke-width="5"/>
<rect x="178" y="1063" width="38" height="189" rx="19.0" fill="#ffffff" fill-opacity="0.12" stroke="#25282c" stroke-width="1.6" stroke-dasharray="5 3"/>
<rect x="189" y="1073" width="16" height="167" rx="8.0" fill="none" stroke="#25282c" stroke-width="1.6" stroke-dasharray="5 3"/>
<rect x="527" y="1095" width="42" height="210" rx="21.0" fill="#ffffff" fill-opacity="0.12" stroke="#25282c" stroke-width="1.6" stroke-dasharray="5 3"/>
<rect x="537" y="1105" width="20" height="185" rx="10.0" fill="none" stroke="#25282c" stroke-width="1.6" stroke-dasharray="5 3"/>
<defs><linearGradient id="pg" x1="0" x2="1" y1="0" y2="0"><stop offset="0" stop-color="#5d6996"/><stop offset="0.35" stop-color="#636f9a"/><stop offset="0.6" stop-color="#5b6792"/><stop offset="1" stop-color="#535e89"/></linearGradient><linearGradient id="rg" x1="0" x2="0" y1="0" y2="1"><stop offset="0" stop-color="#6874a6"/><stop offset="1" stop-color="#55629a"/></linearGradient></defs>
<ellipse cx="366" cy="1071" rx="95" ry="9" fill="none" stroke="#5a68a0" stroke-width="10"/>
<rect x="285" y="790" width="158" height="700" fill="url(#pg)"/>
<path d="M285,1066 Q365,1080 443,1066 L443,1074 Q365,1086 285,1074Z" fill="#4f5b8c" opacity="0.6"/>
<path d="M270,1070 Q365,1082 461,1070 Q468,1078 458,1085 Q365,1100 272,1085 Q263,1078 270,1070Z" fill="url(#rg)"/>
<path d="M300,1080 Q365,1090 440,1080" stroke="#7682b2" stroke-width="2" fill="none" opacity="0.6"/></g>
<circle cx="471" cy="1137" r="324" fill="none" stroke="#fab505" stroke-width="14"/>
<rect x="388" y="882" width="442" height="4" fill="#fab505"/>
<path d="M828,870 L853,884 L828,898Z" fill="#fab505"/>
<rect x="450" y="1058" width="380" height="4" fill="#fab505"/>
<path d="M828,1046 L853,1060 L828,1074Z" fill="#fab505"/>
<rect x="553" y="1198" width="277" height="4" fill="#fab505"/>
<path d="M828,1186 L853,1200 L828,1214Z" fill="#fab505"/>
<rect x="660" y="1312" width="170" height="4" fill="#fab505"/>
<path d="M828,1300 L853,1314 L828,1328Z" fill="#fab505"/>
<text x="572.3" y="772.5" font-family="Liberation Sans" font-size="64" font-weight="normal" fill="#0e1f92" stroke="#0e1f92" stroke-width="0.8" textLength="385.5" lengthAdjust="spacingAndGlyphs">NEW DESIGN</text>
<text x="886.4" y="898.7" font-family="Liberation Sans" font-size="40.8" font-weight="normal" fill="#0e1f92" stroke="#0e1f92" stroke-width="0.6" textLength="317" lengthAdjust="spacingAndGlyphs">Vertical pool leg</text>
<text x="886.7" y="948.7" font-family="Liberation Sans" font-size="40.8" font-weight="normal" fill="#0e1f92" stroke="#0e1f92" stroke-width="0.6" textLength="478.5" lengthAdjust="spacingAndGlyphs">(outside of the liner belt)</text>
<text x="879.3" y="1074.4" font-family="Liberation Sans" font-size="40.8" font-weight="normal" fill="#0e1f92" stroke="#0e1f92" stroke-width="0.6" textLength="250.5" lengthAdjust="spacingAndGlyphs">Pool belt clip</text>
<text x="882" y="1124" font-family="Liberation Sans" font-size="40.8" font-weight="normal" fill="#0e1f92" stroke="#0e1f92" stroke-width="0.6" textLength="539.5" lengthAdjust="spacingAndGlyphs">(slide into the open pocket)</text>
<text x="881.4" y="1218.7" font-family="Liberation Sans" font-size="40.8" font-weight="normal" fill="#0e1f92" stroke="#0e1f92" stroke-width="0.6" textLength="99.2" lengthAdjust="spacingAndGlyphs">Weld</text>
<text x="879.8" y="1332.8" font-family="Liberation Sans" font-size="40.8" font-weight="normal" fill="#0e1f92" stroke="#0e1f92" stroke-width="0.6" textLength="176.3" lengthAdjust="spacingAndGlyphs">Liner belt</text>
</svg>
</body></html>
